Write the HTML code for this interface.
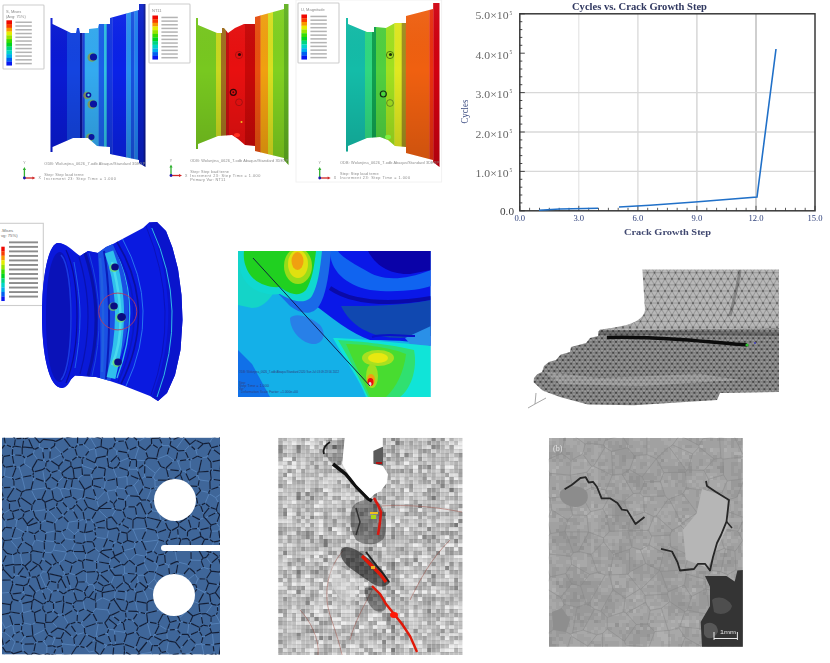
<!DOCTYPE html><html><head><meta charset="utf-8"><style>html,body{margin:0;padding:0;background:#fff;width:830px;height:663px;overflow:hidden}svg{display:block;filter:blur(0.7px)}</style></head><body><svg width="830" height="663" viewBox="0 0 830 663" font-family="Liberation Sans, sans-serif"><defs><linearGradient id="vshade" x1="0" y1="0" x2="0" y2="200" gradientUnits="userSpaceOnUse"><stop offset="0" stop-color="#fff" stop-opacity="0.06"/><stop offset="0.35" stop-color="#000" stop-opacity="0"/><stop offset="0.85" stop-color="#000" stop-opacity="0.16"/></linearGradient></defs><rect x="296" y="0" width="145.6" height="182" fill="none" stroke="#f2f2f2" stroke-width="1"/><rect x="3" y="5" width="41" height="64" fill="#fff" stroke="#cdcdcd" stroke-width="1.1" rx="0.8"/><text x="6" y="12.6" font-size="4" fill="#8a8a8a">S, Mises</text><text x="6" y="17.6" font-size="4" fill="#8a8a8a">(Avg: 75%)</text><rect x="6.4" y="20.30" width="5.6" height="3.91" fill="#f00800"/><rect x="6.4" y="24.06" width="5.6" height="3.91" fill="#f83c00"/><rect x="6.4" y="27.82" width="5.6" height="3.91" fill="#f89800"/><rect x="6.4" y="31.58" width="5.6" height="3.91" fill="#e4ec00"/><rect x="6.4" y="35.33" width="5.6" height="3.91" fill="#98e400"/><rect x="6.4" y="39.09" width="5.6" height="3.91" fill="#38dc00"/><rect x="6.4" y="42.85" width="5.6" height="3.91" fill="#00d420"/><rect x="6.4" y="46.61" width="5.6" height="3.91" fill="#00d480"/><rect x="6.4" y="50.37" width="5.6" height="3.91" fill="#00d4c8"/><rect x="6.4" y="54.12" width="5.6" height="3.91" fill="#00acec"/><rect x="6.4" y="57.88" width="5.6" height="3.91" fill="#0060f0"/><rect x="6.4" y="61.64" width="5.6" height="3.91" fill="#0818f0"/><g fill="#b4b4b4"><rect x="15.4" y="21.50" width="16.4" height="1.5"/><rect x="15.4" y="25.26" width="16.4" height="1.5"/><rect x="15.4" y="29.02" width="16.4" height="1.5"/><rect x="15.4" y="32.78" width="16.4" height="1.5"/><rect x="15.4" y="36.53" width="16.4" height="1.5"/><rect x="15.4" y="40.29" width="16.4" height="1.5"/><rect x="15.4" y="44.05" width="16.4" height="1.5"/><rect x="15.4" y="47.81" width="16.4" height="1.5"/><rect x="15.4" y="51.57" width="16.4" height="1.5"/><rect x="15.4" y="55.33" width="16.4" height="1.5"/><rect x="15.4" y="59.08" width="16.4" height="1.5"/><rect x="15.4" y="62.84" width="16.4" height="1.5"/></g><clipPath id="r1"><polygon points="50.5,18 52.5,18 52.5,24 71,33 76,33 77,28 79,28 80,33 89,33 89,29 98,28 99,24 110,24 110,18 139,10 139,4 145.5,4 145.5,167 139,163 139,160 110,154 110,147 97,146 88,138 73,138 52.5,147 52.5,152 50.5,152"/></clipPath><g clip-path="url(#r1)"><rect x="50" y="0" width="17.3" height="200" fill="#0a1ad4"/><rect x="67" y="0" width="13.3" height="200" fill="#1444e0"/><rect x="80" y="0" width="2.7000000000000055" height="200" fill="#0a1290"/><rect x="82.4" y="0" width="2.599999999999997" height="200" fill="#1a40d8"/><rect x="84.7" y="0" width="14.199999999999992" height="200" fill="#34aaf0"/><rect x="98.6" y="0" width="5.7000000000000055" height="200" fill="#1a60e8"/><rect x="104" y="0" width="3.0000000000000027" height="200" fill="#30c0e0"/><rect x="106.7" y="0" width="6.099999999999997" height="200" fill="#1438e0"/><rect x="112.5" y="0" width="14.099999999999998" height="200" fill="#0a22e8"/><rect x="126.3" y="0" width="5.000000000000003" height="200" fill="#2890f0"/><rect x="131" y="0" width="3.7000000000000055" height="200" fill="#1850e0"/><rect x="134.4" y="0" width="3.899999999999994" height="200" fill="#2080f0"/><rect x="138" y="0" width="5.9999999999999885" height="200" fill="#0a20c8"/><rect x="143.7" y="0" width="2.600000000000011" height="200" fill="#0a1890"/><rect x="0" y="0" width="460" height="200" fill="url(#vshade)"/><circle cx="92.2" cy="57.3" r="4.7" fill="#60d040" opacity="0.55"/><circle cx="91.7" cy="57.5" r="4.1" fill="#e05010" opacity="0.35"/><circle cx="93.5" cy="57" r="3.6" fill="#0a14a0"/><circle cx="87.2" cy="95.3" r="3.9" fill="#60d040" opacity="0.55"/><circle cx="86.7" cy="95.5" r="3.3" fill="#e05010" opacity="0.35"/><circle cx="88.5" cy="95" r="2.8" fill="#0a14a0"/><circle cx="92.2" cy="104.3" r="4.7" fill="#60d040" opacity="0.55"/><circle cx="91.7" cy="104.5" r="4.1" fill="#e05010" opacity="0.35"/><circle cx="93.5" cy="104" r="3.6" fill="#0a14a0"/><circle cx="90.2" cy="137.3" r="4.1" fill="#60d040" opacity="0.55"/><circle cx="89.7" cy="137.5" r="3.5" fill="#e05010" opacity="0.35"/><circle cx="91.5" cy="137" r="3" fill="#0a14a0"/><circle cx="88.5" cy="95" r="1.2" fill="#60e0f0"/></g><g fill="#8a8a8a" font-size="3.8"><text x="44.3" y="164.9" textLength="101" lengthAdjust="spacing">ODB: Wolunjina_0626_7.odb    Abaqus/Standard 3DEXP</text><text x="44.3" y="175.8" textLength="39.3" lengthAdjust="spacing">Step: Step load terne</text><text x="44.3" y="179.70000000000002" textLength="71.5" lengthAdjust="spacing">Increment    23: Step Time =    1.000</text></g><line x1="24.4" y1="178" x2="24.4" y2="169" stroke="#30b030" stroke-width="1.3"/><path d="M22.799999999999997,170 L24.4,167 L26.0,170 Z" fill="#30b030"/><line x1="24.4" y1="178" x2="33.4" y2="178" stroke="#d02828" stroke-width="1.3"/><path d="M32.4,176.4 L35.4,178 L32.4,179.6 Z" fill="#d02828"/><circle cx="24.4" cy="178" r="1.4" fill="#1a1ab0"/><text x="23.2" y="164" font-size="3.5" fill="#888">Y</text><text x="38.4" y="179.3" font-size="3.5" fill="#888">X</text><rect x="149" y="4" width="41" height="59" fill="#fff" stroke="#cdcdcd" stroke-width="1.1" rx="0.8"/><text x="152" y="11.6" font-size="4" fill="#8a8a8a">NT11</text><rect x="152.4" y="15.50" width="5.6" height="3.81" fill="#f00800"/><rect x="152.4" y="19.16" width="5.6" height="3.81" fill="#f83c00"/><rect x="152.4" y="22.82" width="5.6" height="3.81" fill="#f89800"/><rect x="152.4" y="26.48" width="5.6" height="3.81" fill="#e4ec00"/><rect x="152.4" y="30.13" width="5.6" height="3.81" fill="#98e400"/><rect x="152.4" y="33.79" width="5.6" height="3.81" fill="#38dc00"/><rect x="152.4" y="37.45" width="5.6" height="3.81" fill="#00d420"/><rect x="152.4" y="41.11" width="5.6" height="3.81" fill="#00d480"/><rect x="152.4" y="44.77" width="5.6" height="3.81" fill="#00d4c8"/><rect x="152.4" y="48.42" width="5.6" height="3.81" fill="#00acec"/><rect x="152.4" y="52.08" width="5.6" height="3.81" fill="#0060f0"/><rect x="152.4" y="55.74" width="5.6" height="3.81" fill="#0818f0"/><g fill="#b4b4b4"><rect x="161.4" y="16.70" width="16.4" height="1.5"/><rect x="161.4" y="20.36" width="16.4" height="1.5"/><rect x="161.4" y="24.02" width="16.4" height="1.5"/><rect x="161.4" y="27.68" width="16.4" height="1.5"/><rect x="161.4" y="31.33" width="16.4" height="1.5"/><rect x="161.4" y="34.99" width="16.4" height="1.5"/><rect x="161.4" y="38.65" width="16.4" height="1.5"/><rect x="161.4" y="42.31" width="16.4" height="1.5"/><rect x="161.4" y="45.97" width="16.4" height="1.5"/><rect x="161.4" y="49.62" width="16.4" height="1.5"/><rect x="161.4" y="53.28" width="16.4" height="1.5"/><rect x="161.4" y="56.94" width="16.4" height="1.5"/></g><clipPath id="r2"><polygon points="196,18 198,18 198,25 217,33 222,33 222,28 224,28 228,33 235,28 244,24 255,24 255,17 284,9 284,4 288.5,4 288.5,165 284,160 284,158 255,151 255,146 245,145 238,139 232,135 218,136 198,144 198,149 196,149"/></clipPath><g clip-path="url(#r2)"><rect x="195" y="0" width="21.3" height="200" fill="#78c820"/><rect x="216" y="0" width="5.3" height="200" fill="#c8d820"/><rect x="221" y="0" width="5.3" height="200" fill="#a07020"/><rect x="226" y="0" width="3.3" height="200" fill="#c01010"/><rect x="229" y="0" width="16.3" height="200" fill="#e81010"/><rect x="245" y="0" width="10.3" height="200" fill="#c80808"/><rect x="255" y="0" width="5.900000000000023" height="200" fill="#e85010"/><rect x="260.6" y="0" width="7.699999999999977" height="200" fill="#f0a010"/><rect x="268" y="0" width="5.3" height="200" fill="#d8e020"/><rect x="273" y="0" width="11.3" height="200" fill="#80d020"/><rect x="284" y="0" width="5.3" height="200" fill="#60b020"/><rect x="0" y="0" width="460" height="200" fill="url(#vshade)"/><circle cx="239" cy="55" r="3.6" fill="none" stroke="#a01010" stroke-width="1" opacity="0.8"/><circle cx="239.5" cy="54.5" r="1.6" fill="#300808"/><circle cx="233.3" cy="92.3" r="3" fill="none" stroke="#300808" stroke-width="1.2"/><circle cx="233.3" cy="92.3" r="1" fill="#500808"/><circle cx="239" cy="102.3" r="3.4" fill="none" stroke="#901010" stroke-width="0.9" opacity="0.8"/><circle cx="241.5" cy="122" r="1" fill="#f0c020"/><ellipse cx="237" cy="135" rx="3" ry="2" fill="#ff3020"/></g><g fill="#8a8a8a" font-size="3.8"><text x="190.3" y="162.20000000000002" textLength="98" lengthAdjust="spacing">ODB: Wolunjina_0626_7.odb    Abaqus/Standard 3DEXP</text><text x="190.3" y="173.3" textLength="38.5" lengthAdjust="spacing">Step: Step load terne</text><text x="190.3" y="177.20000000000002" textLength="70" lengthAdjust="spacing">Increment    23: Step Time =    1.000</text><text x="190.3" y="181.1" textLength="35.0" lengthAdjust="spacing">Primary Var: NT11</text></g><line x1="171" y1="175.5" x2="171" y2="166.5" stroke="#30b030" stroke-width="1.3"/><path d="M169.4,167.5 L171,164.5 L172.6,167.5 Z" fill="#30b030"/><line x1="171" y1="175.5" x2="180" y2="175.5" stroke="#d02828" stroke-width="1.3"/><path d="M179,173.9 L182,175.5 L179,177.1 Z" fill="#d02828"/><circle cx="171" cy="175.5" r="1.4" fill="#1a1ab0"/><text x="169.8" y="161.5" font-size="3.5" fill="#888">Y</text><text x="185" y="176.8" font-size="3.5" fill="#888">X</text><rect x="298" y="3" width="41" height="60" fill="#fff" stroke="#cdcdcd" stroke-width="1.1" rx="0.8"/><text x="301" y="10.6" font-size="4" fill="#8a8a8a">U, Magnitude</text><rect x="301.4" y="14.50" width="5.6" height="3.89" fill="#f00800"/><rect x="301.4" y="18.24" width="5.6" height="3.89" fill="#f83c00"/><rect x="301.4" y="21.98" width="5.6" height="3.89" fill="#f89800"/><rect x="301.4" y="25.73" width="5.6" height="3.89" fill="#e4ec00"/><rect x="301.4" y="29.47" width="5.6" height="3.89" fill="#98e400"/><rect x="301.4" y="33.21" width="5.6" height="3.89" fill="#38dc00"/><rect x="301.4" y="36.95" width="5.6" height="3.89" fill="#00d420"/><rect x="301.4" y="40.69" width="5.6" height="3.89" fill="#00d480"/><rect x="301.4" y="44.43" width="5.6" height="3.89" fill="#00d4c8"/><rect x="301.4" y="48.17" width="5.6" height="3.89" fill="#00acec"/><rect x="301.4" y="51.92" width="5.6" height="3.89" fill="#0060f0"/><rect x="301.4" y="55.66" width="5.6" height="3.89" fill="#0818f0"/><g fill="#b4b4b4"><rect x="310.4" y="15.70" width="16.4" height="1.5"/><rect x="310.4" y="19.44" width="16.4" height="1.5"/><rect x="310.4" y="23.18" width="16.4" height="1.5"/><rect x="310.4" y="26.93" width="16.4" height="1.5"/><rect x="310.4" y="30.67" width="16.4" height="1.5"/><rect x="310.4" y="34.41" width="16.4" height="1.5"/><rect x="310.4" y="38.15" width="16.4" height="1.5"/><rect x="310.4" y="41.89" width="16.4" height="1.5"/><rect x="310.4" y="45.63" width="16.4" height="1.5"/><rect x="310.4" y="49.38" width="16.4" height="1.5"/><rect x="310.4" y="53.12" width="16.4" height="1.5"/><rect x="310.4" y="56.86" width="16.4" height="1.5"/></g><clipPath id="r3"><polygon points="346,18 348,18 348,24 367,32 374,32 374,27 376,27 386,28 395,23 406,23 406,16 433,9 433,3 439.5,3 439.5,167 433,162 433,160 406,153 406,147 395,146 388,140 380,137 367,138 348,146 348,151.5 346,151.5"/></clipPath><g clip-path="url(#r3)"><rect x="345" y="0" width="20.3" height="200" fill="#14bca8"/><rect x="365" y="0" width="7.3" height="200" fill="#30d880"/><rect x="372" y="0" width="4.3" height="200" fill="#10a050"/><rect x="376" y="0" width="10.3" height="200" fill="#50d040"/><rect x="386" y="0" width="8.8" height="200" fill="#a0e020"/><rect x="394.5" y="0" width="7.4999999999999885" height="200" fill="#e0e820"/><rect x="401.7" y="0" width="4.400000000000023" height="200" fill="#a09020"/><rect x="405.8" y="0" width="23.8" height="200" fill="#f06010"/><rect x="429.3" y="0" width="4.399999999999966" height="200" fill="#e83010"/><rect x="433.4" y="0" width="6.900000000000023" height="200" fill="#d00010"/><rect x="0" y="0" width="460" height="200" fill="url(#vshade)"/><circle cx="390" cy="55" r="3.6" fill="none" stroke="#406010" stroke-width="1" opacity="0.8"/><circle cx="390.5" cy="54.5" r="1.6" fill="#203008"/><circle cx="383.3" cy="94" r="3" fill="none" stroke="#103010" stroke-width="1.2"/><circle cx="383.3" cy="94" r="1.3" fill="#40e040"/><circle cx="390" cy="103" r="3.4" fill="none" stroke="#507020" stroke-width="0.9" opacity="0.8"/><ellipse cx="388" cy="137" rx="3" ry="2.2" fill="#80f040"/></g><g fill="#8a8a8a" font-size="3.8"><text x="340" y="164.1" textLength="99" lengthAdjust="spacing">ODB: Wolunjina_0626_7.odb    Abaqus/Standard 3DEXP</text><text x="340" y="175.4" textLength="38.5" lengthAdjust="spacing">Step: Step load terne</text><text x="340" y="179.3" textLength="70" lengthAdjust="spacing">Increment    23: Step Time =    1.000</text></g><line x1="319.7" y1="178" x2="319.7" y2="169" stroke="#30b030" stroke-width="1.3"/><path d="M318.09999999999997,170 L319.7,167 L321.3,170 Z" fill="#30b030"/><line x1="319.7" y1="178" x2="328.7" y2="178" stroke="#d02828" stroke-width="1.3"/><path d="M327.7,176.4 L330.7,178 L327.7,179.6 Z" fill="#d02828"/><circle cx="319.7" cy="178" r="1.4" fill="#1a1ab0"/><text x="318.5" y="164" font-size="3.5" fill="#888">Y</text><text x="333.7" y="179.3" font-size="3.5" fill="#888">X</text><line x1="578.8" y1="13.8" x2="578.8" y2="210.8" stroke="#e2e2e2" stroke-width="1.1"/><line x1="637.9" y1="13.8" x2="637.9" y2="210.8" stroke="#d8d8d8" stroke-width="1.3"/><line x1="696.9" y1="13.8" x2="696.9" y2="210.8" stroke="#d4d4d4" stroke-width="1.4"/><line x1="756.0" y1="13.8" x2="756.0" y2="210.8" stroke="#cacaca" stroke-width="1.8"/><line x1="519.8" y1="171.4" x2="815" y2="171.4" stroke="#d8d8d8" stroke-width="1.3"/><line x1="519.8" y1="132.0" x2="815" y2="132.0" stroke="#d8d8d8" stroke-width="1.3"/><line x1="519.8" y1="92.6" x2="815" y2="92.6" stroke="#d8d8d8" stroke-width="1.3"/><rect x="519.8" y="13.8" width="295.20000000000005" height="197.0" fill="none" stroke="#3a3a3a" stroke-width="1.5"/><line x1="519.8" y1="210.8" x2="524.8" y2="210.8" stroke="#333" stroke-width="0.9"/><line x1="519.8" y1="202.9" x2="522.3" y2="202.9" stroke="#333" stroke-width="0.9"/><line x1="519.8" y1="195.0" x2="522.3" y2="195.0" stroke="#333" stroke-width="0.9"/><line x1="519.8" y1="187.2" x2="522.3" y2="187.2" stroke="#333" stroke-width="0.9"/><line x1="519.8" y1="179.3" x2="522.3" y2="179.3" stroke="#333" stroke-width="0.9"/><line x1="519.8" y1="171.4" x2="524.8" y2="171.4" stroke="#333" stroke-width="0.9"/><line x1="519.8" y1="163.5" x2="522.3" y2="163.5" stroke="#333" stroke-width="0.9"/><line x1="519.8" y1="155.6" x2="522.3" y2="155.6" stroke="#333" stroke-width="0.9"/><line x1="519.8" y1="147.8" x2="522.3" y2="147.8" stroke="#333" stroke-width="0.9"/><line x1="519.8" y1="139.9" x2="522.3" y2="139.9" stroke="#333" stroke-width="0.9"/><line x1="519.8" y1="132.0" x2="524.8" y2="132.0" stroke="#333" stroke-width="0.9"/><line x1="519.8" y1="124.1" x2="522.3" y2="124.1" stroke="#333" stroke-width="0.9"/><line x1="519.8" y1="116.2" x2="522.3" y2="116.2" stroke="#333" stroke-width="0.9"/><line x1="519.8" y1="108.4" x2="522.3" y2="108.4" stroke="#333" stroke-width="0.9"/><line x1="519.8" y1="100.5" x2="522.3" y2="100.5" stroke="#333" stroke-width="0.9"/><line x1="519.8" y1="92.6" x2="524.8" y2="92.6" stroke="#333" stroke-width="0.9"/><line x1="519.8" y1="84.7" x2="522.3" y2="84.7" stroke="#333" stroke-width="0.9"/><line x1="519.8" y1="76.8" x2="522.3" y2="76.8" stroke="#333" stroke-width="0.9"/><line x1="519.8" y1="69.0" x2="522.3" y2="69.0" stroke="#333" stroke-width="0.9"/><line x1="519.8" y1="61.1" x2="522.3" y2="61.1" stroke="#333" stroke-width="0.9"/><line x1="519.8" y1="53.2" x2="524.8" y2="53.2" stroke="#333" stroke-width="0.9"/><line x1="519.8" y1="45.3" x2="522.3" y2="45.3" stroke="#333" stroke-width="0.9"/><line x1="519.8" y1="37.4" x2="522.3" y2="37.4" stroke="#333" stroke-width="0.9"/><line x1="519.8" y1="29.6" x2="522.3" y2="29.6" stroke="#333" stroke-width="0.9"/><line x1="519.8" y1="21.7" x2="522.3" y2="21.7" stroke="#333" stroke-width="0.9"/><line x1="519.8" y1="13.8" x2="524.8" y2="13.8" stroke="#333" stroke-width="0.9"/><line x1="519.8" y1="210.8" x2="519.8" y2="205.8" stroke="#333" stroke-width="0.8"/><line x1="529.6" y1="210.8" x2="529.6" y2="207.8" stroke="#333" stroke-width="0.8"/><line x1="539.5" y1="210.8" x2="539.5" y2="207.8" stroke="#333" stroke-width="0.8"/><line x1="549.3" y1="210.8" x2="549.3" y2="207.8" stroke="#333" stroke-width="0.8"/><line x1="559.2" y1="210.8" x2="559.2" y2="207.8" stroke="#333" stroke-width="0.8"/><line x1="569.0" y1="210.8" x2="569.0" y2="207.8" stroke="#333" stroke-width="0.8"/><line x1="578.8" y1="210.8" x2="578.8" y2="205.8" stroke="#333" stroke-width="0.8"/><line x1="588.7" y1="210.8" x2="588.7" y2="207.8" stroke="#333" stroke-width="0.8"/><line x1="598.5" y1="210.8" x2="598.5" y2="207.8" stroke="#333" stroke-width="0.8"/><line x1="608.4" y1="210.8" x2="608.4" y2="207.8" stroke="#333" stroke-width="0.8"/><line x1="618.2" y1="210.8" x2="618.2" y2="207.8" stroke="#333" stroke-width="0.8"/><line x1="628.0" y1="210.8" x2="628.0" y2="207.8" stroke="#333" stroke-width="0.8"/><line x1="637.9" y1="210.8" x2="637.9" y2="205.8" stroke="#333" stroke-width="0.8"/><line x1="647.7" y1="210.8" x2="647.7" y2="207.8" stroke="#333" stroke-width="0.8"/><line x1="657.6" y1="210.8" x2="657.6" y2="207.8" stroke="#333" stroke-width="0.8"/><line x1="667.4" y1="210.8" x2="667.4" y2="207.8" stroke="#333" stroke-width="0.8"/><line x1="677.2" y1="210.8" x2="677.2" y2="207.8" stroke="#333" stroke-width="0.8"/><line x1="687.1" y1="210.8" x2="687.1" y2="207.8" stroke="#333" stroke-width="0.8"/><line x1="696.9" y1="210.8" x2="696.9" y2="205.8" stroke="#333" stroke-width="0.8"/><line x1="706.8" y1="210.8" x2="706.8" y2="207.8" stroke="#333" stroke-width="0.8"/><line x1="716.6" y1="210.8" x2="716.6" y2="207.8" stroke="#333" stroke-width="0.8"/><line x1="726.4" y1="210.8" x2="726.4" y2="207.8" stroke="#333" stroke-width="0.8"/><line x1="736.3" y1="210.8" x2="736.3" y2="207.8" stroke="#333" stroke-width="0.8"/><line x1="746.1" y1="210.8" x2="746.1" y2="207.8" stroke="#333" stroke-width="0.8"/><line x1="756.0" y1="210.8" x2="756.0" y2="205.8" stroke="#333" stroke-width="0.8"/><line x1="765.8" y1="210.8" x2="765.8" y2="207.8" stroke="#333" stroke-width="0.8"/><line x1="775.6" y1="210.8" x2="775.6" y2="207.8" stroke="#333" stroke-width="0.8"/><line x1="785.5" y1="210.8" x2="785.5" y2="207.8" stroke="#333" stroke-width="0.8"/><line x1="795.3" y1="210.8" x2="795.3" y2="207.8" stroke="#333" stroke-width="0.8"/><line x1="805.2" y1="210.8" x2="805.2" y2="207.8" stroke="#333" stroke-width="0.8"/><line x1="815.0" y1="210.8" x2="815.0" y2="205.8" stroke="#333" stroke-width="0.8"/><text x="475.5" y="177.0" font-size="9.6" font-family="Liberation Serif" fill="#686868" textLength="33" lengthAdjust="spacingAndGlyphs">1.0&#215;10</text><text x="509.5" y="172.2" font-size="5.5" font-family="Liberation Serif" fill="#686868">5</text><text x="475.5" y="137.6" font-size="9.6" font-family="Liberation Serif" fill="#686868" textLength="33" lengthAdjust="spacingAndGlyphs">2.0&#215;10</text><text x="509.5" y="132.8" font-size="5.5" font-family="Liberation Serif" fill="#686868">5</text><text x="475.5" y="98.2" font-size="9.6" font-family="Liberation Serif" fill="#686868" textLength="33" lengthAdjust="spacingAndGlyphs">3.0&#215;10</text><text x="509.5" y="93.4" font-size="5.5" font-family="Liberation Serif" fill="#686868">5</text><text x="475.5" y="58.8" font-size="9.6" font-family="Liberation Serif" fill="#686868" textLength="33" lengthAdjust="spacingAndGlyphs">4.0&#215;10</text><text x="509.5" y="54.0" font-size="5.5" font-family="Liberation Serif" fill="#686868">5</text><text x="475.5" y="19.4" font-size="9.6" font-family="Liberation Serif" fill="#686868" textLength="33" lengthAdjust="spacingAndGlyphs">5.0&#215;10</text><text x="509.5" y="14.6" font-size="5.5" font-family="Liberation Serif" fill="#686868">5</text><text x="500" y="214.5" font-size="9.6" font-family="Liberation Serif" fill="#404040" textLength="14" lengthAdjust="spacingAndGlyphs">0.0</text><text x="519.8" y="221.3" font-size="8.6" font-family="Liberation Serif" text-anchor="middle" fill="#2a3c78">0.0</text><text x="578.8" y="221.3" font-size="8.6" font-family="Liberation Serif" text-anchor="middle" fill="#2a3c78">3.0</text><text x="637.9" y="221.3" font-size="8.6" font-family="Liberation Serif" text-anchor="middle" fill="#2a3c78">6.0</text><text x="696.9" y="221.3" font-size="8.6" font-family="Liberation Serif" text-anchor="middle" fill="#2a3c78">9.0</text><text x="756.0" y="221.3" font-size="8.6" font-family="Liberation Serif" text-anchor="middle" fill="#2a3c78">12.0</text><text x="815.0" y="221.3" font-size="8.6" font-family="Liberation Serif" text-anchor="middle" fill="#2a3c78">15.0</text><text x="572" y="9.6" font-size="10" font-family="Liberation Serif" font-weight="bold" fill="#303860" textLength="135" lengthAdjust="spacingAndGlyphs">Cycles vs. Crack Growth Step</text><text x="624" y="235.3" font-size="9" font-family="Liberation Serif" font-weight="bold" fill="#404870" textLength="87" lengthAdjust="spacingAndGlyphs">Crack Growth Step</text><text x="0" y="0" font-size="9.5" font-family="Liberation Serif" fill="#3a4a80" textLength="24" lengthAdjust="spacingAndGlyphs" transform="translate(468,123.6) rotate(-90)">Cycles</text><polyline points="539,210.2 560,209 598,208.2" fill="none" stroke="#2070c8" stroke-width="1.6"/><polyline points="619,207 650,205.2 695,202 757,197 776,49" fill="none" stroke="#2070c8" stroke-width="1.6"/><rect x="-5" y="223.3" width="48.3" height="82.2" fill="#fff" stroke="#cdcdcd" stroke-width="1.1"/><text x="1" y="231.5" font-size="4.2" fill="#6a6a6a">.Mises</text><text x="1" y="237" font-size="4.2" fill="#6a6a6a">vg: 75%)</text><rect x="1.3" y="246.70" width="3.4" height="4.6" fill="#f00800"/><rect x="1.3" y="251.22" width="3.4" height="4.6" fill="#f83c00"/><rect x="1.3" y="255.74" width="3.4" height="4.6" fill="#f89800"/><rect x="1.3" y="260.26" width="3.4" height="4.6" fill="#e4ec00"/><rect x="1.3" y="264.78" width="3.4" height="4.6" fill="#98e400"/><rect x="1.3" y="269.30" width="3.4" height="4.6" fill="#38dc00"/><rect x="1.3" y="273.82" width="3.4" height="4.6" fill="#00d420"/><rect x="1.3" y="278.34" width="3.4" height="4.6" fill="#00d480"/><rect x="1.3" y="282.86" width="3.4" height="4.6" fill="#00d4c8"/><rect x="1.3" y="287.38" width="3.4" height="4.6" fill="#00acec"/><rect x="1.3" y="291.90" width="3.4" height="4.6" fill="#0060f0"/><rect x="1.3" y="296.42" width="3.4" height="4.6" fill="#0818f0"/><g fill="#8c8c8c"><rect x="9" y="241.40" width="29" height="1.9"/><rect x="9" y="245.92" width="29" height="1.9"/><rect x="9" y="250.44" width="29" height="1.9"/><rect x="9" y="254.96" width="29" height="1.9"/><rect x="9" y="259.48" width="29" height="1.9"/><rect x="9" y="264.00" width="29" height="1.9"/><rect x="9" y="268.52" width="29" height="1.9"/><rect x="9" y="273.04" width="29" height="1.9"/><rect x="9" y="277.56" width="29" height="1.9"/><rect x="9" y="282.08" width="29" height="1.9"/><rect x="9" y="286.60" width="29" height="1.9"/><rect x="9" y="291.12" width="29" height="1.9"/><rect x="9" y="295.64" width="29" height="1.9"/></g><path d="M58,243 C66,243 72,250 80,256 L88,251 L98,253 L106,247 L113,244 L143,228 L149,222.5 L157,222 L166,231 L172.4,247.5 L178,269 L181.5,295 L182.5,320 L180.5,350 L175,375 L167,393 L158,401 L150,396 L122,385 L110,381 L96,377 L75,375.5 L66,384 C64,387 63,388 62,388 C49,388 42,355 42,315 C42,275 49,243 58,243 Z" fill="#0a1ae0"/><path d="M149,222.5 L157,222 L166,231 L172.4,247.5 L178,269 L181.5,295 L182.5,320 L180.5,350 L175,375 L167,393 L158,401 L152,397 Q186,310 149,222.5 Z" fill="#0a14cc"/><path d="M151.8,228 Q189.6,309.5 157,397" fill="none" stroke="#30bce8" stroke-width="1"/><path d="M146,226 Q181.5,311.5 151,395" fill="none" stroke="#0a10b0" stroke-width="0.8"/><path d="M117,242 Q157.8,309.0 121,384" fill="none" stroke="#0a10a0" stroke-width="1.6"/><path d="M122.5,239 Q161.8,309.5 126,386" fill="none" stroke="#2a7ef0" stroke-width="0.9"/><path d="M115,250 Q143.4,308.0 117,378" fill="none" stroke="#30b8e8" stroke-width="1.3"/><path d="M113,246 Q152.5,308.0 118,382" fill="none" stroke="#0a18c0" stroke-width="1.5"/><path d="M97.6,253 Q101,311 100,378 L110,381 Q146,311 112.8,244 L106,247 Z" fill="#1a50e4"/><path d="M104,251 Q113.0,307.0 106,379" fill="none" stroke="#0a1cb8" stroke-width="2"/><path d="M109,252 Q129.0,307.0 111,378" fill="none" stroke="#30c0ec" stroke-width="9"/><path d="M112,262 Q129.0,326.5 112,365" fill="none" stroke="#50e0f0" stroke-width="2.5" opacity="0.8"/><path d="M100,258 Q105.0,307.0 102,372" fill="none" stroke="#2060e0" stroke-width="2.5"/><path d="M66,250 L80,256 L88,251 L98,253 Q101,311 100,378 L96,377 L75,375.5 L66,384 Z" fill="#0a1ad8"/><path d="M85,253 Q105.5,315.5 88,376" fill="none" stroke="#0812a8" stroke-width="3"/><path d="M89,253 Q107.5,315.5 92,376" fill="none" stroke="#1a48e0" stroke-width="1"/><path d="M79,257 Q96.5,314.5 80,374" fill="none" stroke="#0a12b0" stroke-width="1.2"/><path d="M58,243 C66,243 72,252 76,270 C80,290 81,305 81,315 C81,335 79,355 74,372 C70,384 66,388 62,388 C49,388 42,355 42,315 C42,275 49,243 58,243 Z" fill="#0a18dc"/><path d="M60,252 C67,252 72,280 72,317 C72,355 67,382 60,382 C51,382 46,355 46,317 C46,280 51,252 60,252 Z" fill="#0a12b8"/><path d="M61,255 C68,262 71,290 71,317 C71,345 68,372 61,380" fill="none" stroke="#1a3ae4" stroke-width="1.6"/><path d="M66,250 C73,265 77,290 77,316 C77,342 73,366 66,383" fill="none" stroke="#0a0c98" stroke-width="1.2"/><path d="M74,262 C78,285 80,300 80,316 C80,335 78,350 75,368" fill="none" stroke="#2a80f0" stroke-width="0.7"/><ellipse cx="117.8" cy="311.5" rx="19" ry="18.4" fill="none" stroke="#b83a60" stroke-width="0.9"/><ellipse cx="114" cy="267.8" rx="4.6" ry="4.2" fill="#80e040" opacity="0.6"/><ellipse cx="115" cy="267" rx="3.8" ry="3.5" fill="#0a0c80"/><ellipse cx="113" cy="306.8" rx="4.6" ry="4.2" fill="#80e040" opacity="0.6"/><ellipse cx="114" cy="306" rx="3.8" ry="3.5" fill="#0a0c80"/><ellipse cx="120.6" cy="317.8" rx="5.2" ry="4.800000000000001" fill="#80e040" opacity="0.6"/><ellipse cx="121.6" cy="317" rx="4.4" ry="4.0" fill="#0a0c80"/><ellipse cx="117" cy="362.8" rx="4.6" ry="4.2" fill="#80e040" opacity="0.6"/><ellipse cx="118" cy="362" rx="3.8" ry="3.5" fill="#0a0c80"/><clipPath id="cc"><rect x="238" y="251" width="192.5" height="146"/></clipPath><g clip-path="url(#cc)"><rect x="238" y="251" width="193" height="146" fill="#14b0e8"/><path d="M238,251 L275,251 L275,290 C270,300 262,308 252,308 L238,305 Z" fill="#14d4c8"/><path d="M300,251 L431,251 L431,346 C420,342 400,340 370,340 C340,330 300,290 253,258 Z" fill="#0a18e8"/><path d="M330,251 C330,270 345,285 370,290 C395,293 420,290 431,286 L431,270 C400,282 380,280 365,270 C350,262 340,255 338,251 Z" fill="#1064f0"/><path d="M368,251 C375,265 390,275 410,274 L431,270 L431,251 Z" fill="#0a02a8"/><path d="M330,288 C350,302 385,306 431,298" fill="none" stroke="#0a0aa8" stroke-width="4"/><path d="M341,306 C350,325 370,338 400,338 L431,336 L431,300 C400,306 370,306 341,306 Z" fill="#1048b0"/><path d="M405,338 L431,326 L431,346 L410,344 Z" fill="#2a90e8"/><path d="M372,337 C385,333 400,336 415,336" stroke="#0a12c8" stroke-width="2" fill="none"/><path d="M290,318 C295,312 310,316 320,325 C328,335 322,345 312,344 C300,342 290,330 290,318 Z" fill="#2880e8"/><path d="M238,350 L252,364 L270,397 L238,397 Z" fill="#1070e8"/><path d="M300,251 L331,251 C329,275 326,295 319,306 C312,316 300,314 290,306 L270,285 Z" fill="#1a6ae8"/><path d="M240,251 L322,251 C320,270 318,285 312,296 C305,306 290,300 280,294 C268,296 254,292 246,282 C239,273 238,262 240,251 Z" fill="#10d8d0"/><path d="M244,251 L316,251 C314,268 312,280 306,290 C298,298 288,293 280,287 C270,288 258,284 251,276 C245,268 243,259 244,251 Z" fill="#20d020"/><ellipse cx="298" cy="266" rx="14" ry="18" fill="#98dc18"/><ellipse cx="298" cy="264" rx="10" ry="14" fill="#e0e010"/><ellipse cx="297.5" cy="261" rx="6" ry="9" fill="#f0a010"/><path d="M333,338 C350,338 390,342 410,344 L431,346 L431,397 L366,397 C360,380 345,360 333,338 Z" fill="#10e4d8"/><path d="M338,340 C355,341 390,344 414,350 C418,370 410,390 400,397 L368,397 C360,380 350,360 338,340 Z" fill="#30e070"/><path d="M346,344 C365,344 392,348 406,354 C404,372 396,388 386,397 L370,397 C362,378 354,362 346,344 Z" fill="#48dc30"/><ellipse cx="378" cy="358" rx="16" ry="8" fill="#a8e020"/><ellipse cx="378" cy="358" rx="10" ry="5" fill="#e8e810"/><ellipse cx="372" cy="376" rx="6" ry="12" fill="#a0e020"/><ellipse cx="371" cy="380" rx="4" ry="6" fill="#f0a010"/><ellipse cx="370.5" cy="382" rx="3" ry="4" fill="#e81010"/><ellipse cx="370" cy="384" rx="1.5" ry="2" fill="#e0e0e0"/><path d="M253,258 L370,386" stroke="#101040" stroke-width="0.9" fill="none"/><g fill="#304080" font-size="3"><text x="239" y="373" textLength="100" lengthAdjust="spacingAndGlyphs">ODB: Wolunjina_0626_7.odb   Abaqus/Standard 2020   Sun Jul 03 09:23:56 2022</text><text x="239" y="384">Step:</text><text x="239" y="387" textLength="30" lengthAdjust="spacingAndGlyphs">Step Time =   1.000</text><text x="239" y="390">Var:</text><text x="241" y="393" textLength="57" lengthAdjust="spacingAndGlyphs">Deformation Scale Factor: +1.000e+00</text></g></g><pattern id="tri" patternUnits="userSpaceOnUse" width="7.0" height="12.124"><rect width="7.0" height="12.124" fill="#b8b8b8"/><path d="M0,0 H7.0 M0,6.062 H7.0 M0,12.124 H7.0 M0,0 L3.5,6.062 L0,12.124 M7.0,0 L3.5,6.062 L7.0,12.124" stroke="#7c7c7c" stroke-width="0.6" fill="none"/><circle cx="0.000" cy="0.000" r="0.85" fill="#505050"/><circle cx="7.000" cy="0.000" r="0.85" fill="#505050"/><circle cx="3.500" cy="6.062" r="0.85" fill="#505050"/><circle cx="0.000" cy="12.124" r="0.85" fill="#505050"/><circle cx="7.000" cy="12.124" r="0.85" fill="#505050"/></pattern><pattern id="tri2" patternUnits="userSpaceOnUse" width="5.6" height="7.274"><rect width="5.6" height="7.274" fill="#9c9c9c"/><path d="M0,0 H5.6 M0,3.637 H5.6 M0,7.274 H5.6 M0,0 L2.8,3.637 L0,7.274 M5.6,0 L2.8,3.637 L5.6,7.274" stroke="#565656" stroke-width="0.7" fill="none"/><circle cx="0.000" cy="0.000" r="0.85" fill="#383838"/><circle cx="5.600" cy="0.000" r="0.85" fill="#383838"/><circle cx="2.800" cy="3.637" r="0.85" fill="#383838"/><circle cx="0.000" cy="7.274" r="0.85" fill="#383838"/><circle cx="5.600" cy="7.274" r="0.85" fill="#383838"/></pattern><linearGradient id="wsh" x1="0" y1="0" x2="1" y2="0"><stop offset="0" stop-color="#000" stop-opacity="0.45"/><stop offset="0.05" stop-color="#000" stop-opacity="0.1"/><stop offset="0.3" stop-color="#000" stop-opacity="0"/><stop offset="1" stop-color="#000" stop-opacity="0"/></linearGradient><path d="M642.4,269.5 L779,269.5 L779,328 L598,330 C620,327 643,324 645,310 Z" fill="url(#tri)"/><path d="M642.4,269.5 L779,269.5 L779,328 L598,330 C620,327 643,324 645,310 Z" fill="url(#wsh)"/><path d="M740,270 C738,285 734,300 730,316" stroke="#303030" stroke-width="3" fill="none" opacity="0.35"/><path d="M599.4,330 L779,328 L779,392 L720,393 L717,400 L634,405.3 L587.8,404.6 L560,397 L543,390.8 L533.6,382.2 L534,378 L537.2,374.2 L542,372 L544,366 L548.8,362 L556,360 L560.4,354.7 L570,352 L571,347 L577.7,345.3 L586,343 L590,338 L598,336 Z" fill="url(#tri2)"/><path d="M545,372 L600,378 L700,374 L740,380 L640,386 L560,384 Z" fill="#d0d0d0" opacity="0.3"/><path d="M598,333 C640,332 700,333 779,334" stroke="#303030" stroke-width="4" fill="none" opacity="0.35"/><path d="M607,337.5 C625,336.5 650,337.5 680,339.5 C710,341.5 730,344 747,345" stroke="#0c0c0c" stroke-width="3.5" fill="none"/><circle cx="747" cy="345" r="1.6" fill="#30c030"/><circle cx="755" cy="343" r="1" fill="#4040c0"/><g stroke="#909090" stroke-width="0.8" fill="none"><path d="M535,404 L536,393 M535,404 L546,398 M535,404 L528,408"/></g><clipPath id="gc"><rect x="2" y="437.6" width="218" height="217"/></clipPath><g clip-path="url(#gc)"><rect x="2" y="437.6" width="218" height="217" fill="#3f6699"/><path d="M133.0,436.2L138.5,441.5M138.5,441.5L148.8,435.3M218.5,436.0L213.0,437.2M7.0,553.3L2.7,548.6M7.0,553.3L1.9,564.4M-2.0,578.5L-2.9,575.3M1.5,537.0L4.2,540.5M4.2,540.5L2.7,548.6M0.2,533.7L5.2,527.3M5.2,527.3L4.7,520.5M4.7,520.5L2.2,517.0M1.9,564.4L3.2,566.3M-2.9,575.3L3.2,569.2M3.2,566.3L3.2,569.2M7.0,553.3L12.8,554.8M12.8,554.8L13.3,564.3M3.2,566.3L13.3,564.3M0.2,533.7L1.5,537.0M133.0,436.2L129.2,436.7M129.2,436.7L125.1,440.9M138.5,441.5L138.8,445.8M138.8,445.8L128.5,450.4M125.1,440.9L128.5,450.4M210.9,462.1L221.2,459.8M210.9,462.1L211.3,470.0M221.2,459.8L219.9,470.9M219.9,470.9L211.3,470.0M206.9,457.0L211.3,448.1M206.9,457.0L210.9,462.1M221.2,459.8L224.4,457.3M211.3,448.1L224.4,457.3M206.9,457.0L201.9,457.7M208.9,443.0L203.3,443.8M208.9,443.0L209.2,443.1M209.2,443.1L211.3,447.8M211.3,448.1L211.3,447.8M201.9,457.7L197.5,456.1M197.5,456.1L196.0,450.6M203.3,443.8L196.0,450.6M181.5,653.4L180.4,648.7M181.5,653.4L182.0,653.8M180.4,648.7L189.5,637.8M189.5,637.8L196.4,644.4M182.0,653.8L185.7,654.0M185.7,654.0L190.0,653.0M190.0,653.0L196.4,644.4M220.9,634.0L219.7,632.3M223.4,624.7L219.7,632.3M2.5,646.9L5.8,651.8M2.0,658.4L5.8,651.8M-1.4,606.9L1.6,603.3M1.6,603.3L0.5,593.1M-1.6,592.5L0.5,593.1M-2.0,578.5L-0.1,580.3M-0.1,580.3L-1.6,592.5M1.1,614.5L-1.4,606.9M14.4,633.9L12.6,624.6M14.4,633.9L21.3,630.8M12.6,624.6L22.1,624.2M21.3,630.8L22.1,624.2M-0.7,501.8L3.6,513.4M3.6,513.4L2.2,515.7M2.2,517.0L2.2,515.7M13.9,518.4L4.7,520.5M13.9,518.4L12.2,511.4M12.2,511.4L9.5,509.8M9.5,509.8L3.6,513.4M22.5,564.6L13.8,564.8M22.5,564.6L20.1,553.3M12.8,554.8L17.8,552.3M13.3,564.3L13.8,564.8M20.1,553.3L17.8,552.3M5.2,527.3L14.9,528.0M13.9,518.4L16.8,520.2M14.9,528.0L15.6,527.7M15.6,527.7L16.8,520.2M24.5,512.2L22.6,517.5M24.5,512.2L20.8,509.2M20.8,509.2L12.2,511.4M16.8,520.2L22.6,517.5M2.5,646.9L3.4,645.2M5.8,651.8L11.0,651.9M3.4,645.2L11.7,638.5M11.7,638.5L15.1,641.7M15.1,641.7L11.0,651.9M24.3,636.8L20.7,642.2M24.3,636.8L21.3,630.8M14.4,633.9L11.6,637.9M11.7,638.5L11.6,637.9M15.1,641.7L20.7,642.2M13.3,653.8L11.0,651.9M107.0,528.1L95.4,527.4M107.0,528.1L106.8,519.6M106.8,519.6L94.0,523.6M95.4,527.4L94.0,523.6M25.0,566.1L31.0,560.8M25.0,566.1L29.0,571.9M29.0,571.9L38.1,564.9M31.0,560.8L38.1,564.9M24.6,566.0L22.5,564.6M24.6,566.0L25.0,566.1M20.1,553.3L30.7,552.3M31.0,560.8L30.7,552.3M153.3,550.9L158.8,540.0M153.3,550.9L147.3,552.9M158.8,540.0L142.6,542.1M147.3,552.9L142.6,542.1M156.7,532.8L159.0,539.8M156.7,532.8L155.4,530.4M158.8,540.0L159.0,539.8M147.1,528.4L155.4,530.4M147.1,528.4L141.2,541.2M142.6,542.1L141.2,541.2M108.6,529.7L117.3,527.8M108.6,529.7L107.0,528.1M106.8,519.6L107.3,518.3M107.3,518.3L111.6,516.9M111.6,516.9L118.3,525.3M117.3,527.8L118.3,525.3M107.3,518.3L98.3,509.6M94.0,523.6L91.4,519.9M91.4,519.9L96.7,510.8M96.7,510.8L98.3,509.6M77.3,500.1L82.8,497.3M77.3,500.1L76.1,504.0M87.7,507.1L82.8,497.3M87.7,507.1L83.1,511.8M76.1,504.0L83.1,511.8M211.3,470.0L210.3,471.2M201.9,457.7L198.8,472.0M210.3,471.2L198.8,472.0M223.7,441.5L219.3,445.8M211.3,447.8L219.3,445.8M220.3,471.1L219.9,470.9M220.3,471.1L223.3,479.9M218.5,436.0L223.7,441.5M209.2,443.1L213.0,437.2M189.0,480.4L186.9,485.7M189.0,480.4L197.7,475.1M199.3,479.9L197.7,475.1M199.3,479.9L198.0,486.4M198.0,486.4L186.9,485.7M219.3,514.1L219.6,514.9M223.5,492.2L215.6,497.6M215.6,497.6L218.3,502.6M217.2,512.2L219.3,514.1M217.2,512.2L216.4,509.4M216.4,509.4L218.3,502.6M189.0,459.3L190.2,460.0M189.0,459.3L177.7,461.0M190.2,460.0L190.3,468.6M190.3,468.6L184.9,471.1M177.7,461.0L181.2,471.0M184.9,471.1L181.6,471.4M181.2,471.0L181.6,471.4M197.5,456.1L190.2,460.0M198.8,472.0L197.9,472.6M197.9,472.6L190.3,468.6M189.0,480.4L184.9,471.1M197.7,475.1L197.9,472.6M176.1,459.8L174.1,460.3M176.1,459.8L177.7,461.0M166.6,469.5L165.8,468.3M166.6,469.5L181.2,471.0M174.1,460.3L165.8,468.3M196.0,450.6L189.8,444.9M189.0,459.3L184.8,450.4M189.8,444.9L184.8,450.4M176.1,459.8L177.9,450.9M184.8,450.4L177.9,450.9M195.5,440.1L189.8,444.5M189.8,444.5L183.9,437.7M183.3,436.0L183.9,437.7M203.3,443.8L195.5,440.1M189.8,444.9L189.8,444.5M177.9,450.9L176.1,448.7M176.1,448.7L183.9,437.7M183.3,436.0L182.3,435.5M219.6,585.5L215.4,592.6M222.5,601.9L215.4,592.6M219.6,585.5L219.4,584.9M219.4,584.9L221.1,579.0M222.2,642.7L221.1,643.1M221.1,643.1L218.8,656.5M220.6,658.2L218.8,656.5M220.9,634.0L222.2,642.7M213.5,644.3L221.1,643.1M213.5,644.3L212.4,633.0M212.4,633.0L219.7,632.3M190.0,653.0L197.3,658.9M213.0,644.8L214.3,653.6M213.0,644.8L201.9,644.7M201.9,644.7L203.8,653.7M214.3,653.6L207.6,656.0M207.6,656.0L203.8,653.7M213.5,644.3L213.0,644.8M218.8,656.5L214.3,653.6M201.2,644.1L196.4,644.4M201.2,644.1L201.9,644.7M197.3,658.9L203.8,653.7M178.4,600.9L177.7,595.5M178.4,600.9L185.6,604.1M185.6,604.1L190.4,600.2M185.6,591.9L177.7,595.5M185.6,591.9L190.2,597.5M190.2,597.5L190.4,600.2M201.2,644.1L202.9,637.2M212.4,633.0L211.6,632.5M211.6,632.5L202.9,637.2M188.8,635.6L199.2,630.9M188.8,635.6L187.5,634.3M187.5,634.3L188.8,623.6M199.2,630.9L199.9,627.5M199.9,627.5L189.9,622.8M189.9,622.8L188.8,623.6M189.5,637.8L188.8,635.6M202.9,637.2L199.2,630.9M175.3,642.2L180.4,648.7M175.3,642.2L181.2,634.4M181.2,634.4L187.5,634.3M173.0,582.6L182.4,583.5M173.0,582.6L169.0,577.0M169.0,577.0L169.7,575.7M169.7,575.7L176.2,572.9M182.4,583.5L182.4,583.5M182.4,583.5L182.8,575.2M182.8,575.2L176.2,572.9M1.1,614.5L1.5,614.8M1.6,603.3L10.6,604.7M9.0,613.2L1.5,614.8M9.0,613.2L10.4,611.9M10.6,604.7L10.4,611.9M4.0,631.9L0.7,633.3M4.0,631.9L5.3,628.2M5.3,628.2L1.1,620.4M3.4,645.2L0.7,633.3M11.6,637.9L4.0,631.9M12.6,624.6L12.6,624.6M12.6,624.6L5.3,628.2M12.6,624.6L9.0,613.2M1.5,614.8L1.1,620.4M45.3,540.8L45.9,532.7M45.3,540.8L54.8,541.6M45.9,532.7L55.4,530.9M54.8,541.6L55.5,530.9M55.5,530.9L55.4,530.9M44.1,541.9L45.3,540.8M44.1,541.9L35.2,539.7M35.2,539.7L34.3,533.9M45.9,532.7L40.4,529.7M34.3,533.9L40.4,529.7M17.7,548.6L23.0,541.3M17.7,548.6L10.4,540.0M10.4,540.0L11.7,539.1M11.7,539.1L21.9,537.5M21.9,537.5L23.0,541.3M17.8,552.3L17.7,548.6M31.8,546.5L23.0,541.3M31.8,546.5L32.3,550.6M32.3,550.6L30.7,552.3M4.2,540.5L10.4,540.0M14.9,528.0L11.7,539.1M24.1,532.2L15.6,527.7M24.1,532.2L21.9,537.5M35.2,539.7L31.8,546.5M24.1,532.2L27.0,530.9M34.3,533.9L27.0,530.9M20.7,642.2L22.0,644.3M13.3,653.8L23.2,650.6M23.2,650.6L22.0,644.3M23.2,650.6L27.9,654.8M12.9,583.8L23.7,585.9M12.9,583.8L11.9,579.9M11.9,579.9L12.2,578.8M12.2,578.8L14.4,576.4M17.3,575.5L14.4,576.4M17.3,575.5L29.4,578.2M23.7,585.9L27.9,583.7M29.4,578.2L27.9,583.7M-0.1,580.3L11.9,579.9M0.5,593.1L9.9,592.4M9.9,592.4L12.9,583.8M3.2,569.2L12.2,578.8M13.8,564.8L14.4,576.4M24.6,566.0L17.3,575.5M29.0,571.9L30.3,577.2M30.3,577.2L29.4,578.2M78.0,531.1L84.6,532.6M78.0,531.1L78.8,520.8M84.6,532.6L86.7,519.8M78.8,520.8L84.3,519.2M86.7,519.8L84.3,519.2M67.5,528.3L74.6,534.2M67.5,528.3L68.6,522.2M74.6,534.2L78.0,531.1M68.6,522.2L78.7,520.7M78.7,520.7L78.8,520.8M76.1,504.0L72.2,508.5M72.2,508.5L78.7,520.7M83.1,511.8L84.3,519.2M91.4,519.9L86.7,519.8M87.7,507.1L96.7,510.8M145.6,557.7L143.9,562.8M145.6,557.7L145.4,556.3M145.4,556.3L135.9,554.4M129.9,560.5L135.9,554.4M129.9,560.5L136.5,566.1M143.9,562.8L136.5,566.1M165.4,563.8L157.7,566.0M165.4,563.8L164.6,554.1M164.6,554.1L158.1,555.0M158.1,555.0L156.2,563.2M156.2,563.2L157.7,566.0M153.3,550.9L158.1,555.0M145.6,557.7L156.2,563.2M145.4,556.3L147.3,552.9M143.9,562.8L148.3,571.5M155.3,572.0L148.3,571.5M155.3,572.0L157.7,566.0M138.0,541.3L135.6,542.8M138.0,541.3L141.2,541.2M135.9,554.4L134.1,548.0M135.6,542.8L134.1,548.0M111.6,516.9L115.8,509.7M122.7,510.5L115.8,509.7M122.7,510.5L125.5,517.1M118.3,525.3L120.8,523.6M125.5,517.1L120.8,523.6M117.3,527.8L119.5,531.8M119.5,531.8L127.0,533.2M127.0,533.2L131.3,529.7M120.8,523.6L131.3,529.7M64.0,488.3L67.4,478.4M64.0,488.3L70.1,489.8M71.2,487.8L70.1,489.8M71.2,487.8L72.5,479.1M72.5,479.1L67.4,478.4M71.2,496.2L70.1,489.8M71.2,496.2L63.2,498.0M60.2,489.2L63.2,498.0M60.2,489.2L64.0,488.3M93.4,436.1L90.9,438.6M86.5,436.5L88.1,438.2M90.9,438.6L88.1,438.2M83.3,496.8L96.8,500.1M83.3,496.8L84.4,490.1M92.1,485.5L84.6,489.5M92.1,485.5L96.8,500.0M96.8,500.0L96.8,500.1M84.4,490.1L84.6,489.5M77.3,500.1L71.2,496.2M82.8,497.3L83.3,496.8M71.2,487.8L84.4,490.1M98.8,508.5L98.8,507.9M98.8,508.5L114.8,508.5M98.8,507.9L109.5,500.4M109.5,500.4L113.7,503.9M113.7,503.9L114.8,508.5M98.3,509.6L98.8,508.5M96.8,500.1L98.8,507.9M115.8,509.7L114.8,508.5M138.8,445.8L139.1,446.1M139.1,446.1L134.8,459.5M128.5,450.4L127.5,452.7M127.5,452.7L128.8,457.8M134.8,459.5L130.8,459.6M128.8,457.8L130.8,459.6M136.5,460.0L136.3,469.3M136.5,460.0L144.9,460.8M144.7,463.8L144.9,460.8M144.7,463.8L137.2,469.7M137.2,469.7L136.3,469.3M134.8,459.5L136.5,460.0M130.8,459.6L128.9,469.2M128.9,469.2L136.3,469.3M139.1,446.1L145.3,450.3M148.0,457.9L145.3,450.3M148.0,457.9L144.9,460.8M125.1,440.9L115.7,441.7M127.5,452.7L116.6,450.9M116.6,450.9L113.1,447.6M113.1,447.6L115.7,441.7M113.6,435.9L115.7,441.7M113.6,435.9L103.6,435.3M93.4,436.1L101.7,438.7M103.6,435.3L101.7,438.7M116.5,478.9L117.6,488.0M116.5,478.9L105.3,480.9M105.3,480.9L104.3,488.7M115.2,489.8L117.6,488.0M115.2,489.8L106.7,491.2M104.3,488.7L105.6,490.9M106.7,491.2L105.6,490.9M104.1,477.8L92.7,479.2M104.1,477.8L105.3,480.9M92.7,479.2L92.4,485.2M92.4,485.2L104.3,488.7M117.7,498.5L115.2,489.8M117.7,498.5L113.7,503.9M109.5,500.4L106.7,491.2M92.4,485.2L92.1,485.5M96.8,500.0L105.6,490.9M116.8,478.0L126.9,476.4M116.8,478.0L116.5,478.9M124.7,488.9L117.6,488.0M124.7,488.9L127.3,486.1M127.3,486.1L126.9,476.4M20.8,509.2L18.0,500.3M9.5,509.8L9.5,501.5M9.5,501.5L18.0,500.3M24.5,512.2L31.6,509.7M31.6,509.7L32.1,505.3M32.1,505.3L20.5,497.2M18.0,500.3L20.5,497.2M55.4,530.9L54.7,523.3M40.4,529.7L40.9,522.6M40.9,522.6L44.6,520.7M44.6,520.7L54.7,523.3M61.4,531.8L67.5,528.3M61.4,531.8L55.5,530.9M68.6,522.2L62.8,516.5M62.8,516.5L57.0,519.9M57.0,519.9L54.7,523.3M31.2,489.8L31.0,489.6M31.2,489.8L46.7,487.7M31.0,489.6L33.9,477.9M33.9,477.9L44.6,481.5M46.7,487.7L45.3,482.0M45.3,482.0L44.6,481.5M46.9,487.9L41.8,499.3M46.9,487.9L46.7,487.7M41.8,499.3L35.9,499.3M35.9,499.3L31.2,489.8M72.2,508.5L68.8,509.5M63.2,498.0L61.3,500.4M61.3,500.4L68.8,509.5M62.8,516.5L63.0,515.6M63.0,515.6L68.8,509.5M219.5,486.5L222.0,480.8M219.5,486.5L210.1,490.0M222.0,480.8L211.2,479.0M210.1,490.0L209.9,481.3M209.9,481.3L211.2,479.0M223.3,479.9L222.0,480.8M223.5,492.2L219.5,486.5M208.7,492.5L209.2,493.6M208.7,492.5L210.1,490.0M209.2,493.6L215.6,497.6M210.3,471.2L211.2,479.0M208.7,492.5L200.6,490.7M199.3,479.9L209.9,481.3M200.6,490.7L198.0,486.4M205.2,503.1L209.8,507.1M205.2,503.1L200.6,505.3M209.8,507.1L203.7,514.5M200.6,505.3L203.7,514.5M209.2,493.6L205.2,503.1M216.4,509.4L209.8,507.1M200.6,490.7L196.1,495.5M196.1,495.5L197.9,504.9M197.9,504.9L200.6,505.3M182.3,435.5L171.0,440.7M168.7,435.5L171.0,440.7M168.7,435.5L161.7,434.8M176.1,448.7L170.0,445.5M170.0,445.5L171.0,440.7M211.6,632.5L209.3,626.3M199.9,627.5L203.0,625.1M203.0,625.1L209.3,626.3M185.6,591.9L184.7,585.4M190.2,597.5L197.2,588.7M197.2,588.7L195.6,584.6M195.6,584.6L184.7,585.4M182.4,583.5L183.1,583.9M182.4,583.5L175.7,593.6M177.7,595.5L175.7,593.6M183.1,583.9L184.7,585.4M195.6,584.6L197.9,578.8M183.1,583.9L195.1,574.0M197.9,578.8L195.1,574.0M192.8,616.1L189.9,622.8M192.8,616.1L199.9,613.3M203.0,625.1L200.8,613.8M199.9,613.3L200.8,613.8M220.2,540.1L218.8,530.9M220.1,527.7L218.8,530.9M219.6,514.9L216.6,523.4M220.1,527.7L216.6,523.4M182.8,575.2L189.2,568.0M195.1,574.0L194.6,572.5M189.2,568.0L194.6,572.5M140.3,502.1L135.4,506.9M140.3,502.1L141.2,500.1M141.2,500.1L138.7,496.5M138.7,496.5L127.9,495.5M135.4,506.9L125.7,506.9M125.7,506.9L125.5,500.0M127.9,495.5L125.5,500.0M150.4,501.6L152.0,510.6M150.4,501.6L146.9,499.8M152.0,510.6L146.4,515.5M146.4,515.5L140.3,502.1M146.9,499.8L141.2,500.1M122.7,510.5L125.7,506.9M117.7,498.5L125.5,500.0M124.7,488.9L127.9,495.5M128.1,470.4L128.9,469.2M128.1,470.4L128.4,474.6M137.2,469.7L140.7,478.7M128.4,474.6L139.3,479.1M140.7,478.7L139.3,479.1M127.3,486.1L134.1,485.3M128.4,474.6L126.9,476.4M139.3,479.1L134.1,485.3M138.7,496.5L138.8,495.2M138.8,495.2L134.1,485.3M144.9,464.6L155.3,473.2M144.9,464.6L144.4,477.0M155.3,473.2L153.3,477.5M153.3,477.5L144.4,477.0M146.9,499.8L151.4,489.1M138.8,495.2L143.9,486.8M151.4,489.1L143.9,486.8M150.4,501.6L160.8,499.3M160.8,499.3L154.7,487.5M151.4,489.1L154.7,487.5M140.7,478.7L141.2,478.8M143.9,486.8L141.2,478.8M144.9,464.6L144.7,463.8M144.4,477.0L141.2,478.8M153.3,477.5L154.9,480.3M154.7,487.5L155.1,486.7M154.9,480.3L155.1,486.7M152.0,510.6L157.1,511.8M160.8,499.3L161.4,499.5M161.4,499.5L157.1,511.8M220.2,540.1L218.7,541.0M218.7,541.0L223.4,554.0M9.9,592.4L11.1,594.2M23.7,585.9L23.4,592.5M23.4,592.5L11.1,594.2M10.6,604.7L12.9,599.3M11.1,594.2L12.9,599.3M27.1,523.9L27.6,526.0M27.1,523.9L35.2,516.7M27.6,526.0L39.6,521.7M35.2,516.7L39.6,521.7M22.6,517.5L27.1,523.9M27.0,530.9L27.6,526.0M31.6,509.7L33.4,511.2M33.4,511.2L35.2,516.7M40.9,522.6L39.6,521.7M22.1,624.2L23.5,622.9M10.4,611.9L21.9,613.8M23.5,622.9L21.9,613.8M22.0,644.3L35.4,643.7M27.9,654.8L30.6,654.9M30.6,654.9L33.6,652.8M35.4,643.7L33.6,652.8M95.4,527.4L94.7,530.3M84.6,532.6L84.7,532.7M84.7,532.7L94.7,530.3M108.6,529.7L106.9,538.7M106.9,538.7L96.2,537.4M94.7,530.3L96.2,537.4M218.7,541.0L213.4,542.0M218.8,530.9L211.3,531.3M213.4,542.0L209.7,539.5M209.7,539.5L211.3,531.3M187.6,531.8L187.3,538.3M187.6,531.8L178.7,525.7M187.3,538.3L180.9,539.3M178.7,525.7L177.6,527.2M177.6,527.2L178.3,537.8M178.3,537.8L180.9,539.3M170.8,530.9L177.6,527.2M170.8,530.9L168.2,539.8M178.3,537.8L168.2,539.8M156.7,532.8L168.1,528.8M159.0,539.8L166.0,542.0M168.1,528.8L170.8,530.9M168.2,539.8L166.0,542.0M164.6,554.1L169.2,548.8M166.0,542.0L169.2,548.8M177.1,561.3L178.3,562.1M177.1,561.3L175.2,551.5M178.3,562.1L188.3,564.6M175.2,551.5L177.7,550.2M177.7,550.2L190.8,549.7M191.1,560.2L188.3,564.6M191.1,560.2L191.0,549.9M191.0,549.9L190.8,549.7M169.7,575.7L168.5,565.1M168.5,565.1L177.1,561.3M176.2,572.9L178.3,562.1M168.5,565.1L165.4,563.8M169.2,548.8L175.2,551.5M189.2,568.0L188.3,564.6M180.9,539.3L177.7,550.2M190.1,541.2L187.3,538.3M190.1,541.2L190.8,549.7M136.5,566.1L136.0,574.2M148.3,571.5L143.8,575.0M143.8,575.0L136.9,575.4M136.0,574.2L136.9,575.4M173.0,582.6L170.2,589.9M175.7,593.6L171.0,592.1M170.2,589.9L171.0,592.1M178.4,600.9L171.9,604.1M171.9,604.1L166.6,600.1M171.0,592.1L166.6,600.1M169.0,577.0L165.5,577.6M155.3,572.0L155.8,573.0M165.5,577.6L155.8,573.0M124.6,573.2L123.0,575.1M124.6,573.2L124.2,565.0M123.0,575.1L114.5,575.3M124.2,565.0L121.8,564.3M121.8,564.3L110.0,569.3M114.5,575.3L110.0,569.4M110.0,569.4L110.0,569.3M129.9,560.5L128.8,560.5M136.0,574.2L124.6,573.2M128.8,560.5L124.2,565.0M136.9,517.5L144.6,518.5M136.9,517.5L133.1,519.7M133.1,519.7L132.9,529.1M147.0,528.3L144.6,518.5M147.0,528.3L133.1,529.2M133.1,529.2L132.9,529.1M146.4,515.5L145.8,517.1M145.8,517.1L144.6,518.5M135.4,506.9L136.9,517.5M125.5,517.1L133.1,519.7M131.3,529.7L132.9,529.1M147.1,528.4L147.0,528.3M160.9,520.5L145.8,517.1M160.9,520.5L155.4,530.4M138.0,541.3L133.1,529.2M135.6,542.8L127.5,540.5M127.0,533.2L127.5,540.5M-0.1,450.7L5.3,444.3M5.3,444.3L3.8,435.1M2.1,433.9L3.8,435.1M-0.1,450.7L0.5,453.7M3.8,435.1L11.9,435.3M45.4,467.8L51.0,472.8M45.4,467.8L42.7,469.6M42.7,469.6L44.6,481.5M45.3,482.0L50.4,476.4M50.4,476.4L51.0,472.8M46.9,487.9L51.8,489.4M51.8,489.4L56.7,487.3M56.7,487.3L58.2,481.8M50.4,476.4L58.2,481.8M56.7,487.3L60.2,489.2M67.4,478.4L63.3,476.7M58.2,481.8L63.3,476.7M86.5,436.5L77.7,435.6M83.9,444.6L88.1,438.2M83.9,444.6L77.5,445.0M77.7,435.6L77.5,445.0M77.7,435.6L77.6,435.4M77.4,456.4L74.8,448.0M77.4,456.4L82.0,458.2M89.8,449.9L83.9,444.6M89.8,449.9L84.0,457.7M82.0,458.2L84.0,457.7M77.5,445.0L74.8,448.0M82.0,458.2L82.5,465.7M84.0,457.7L95.0,462.8M96.7,466.8L93.8,469.6M96.7,466.8L95.0,462.8M82.5,465.7L93.8,469.6M105.4,468.4L104.1,477.8M105.4,468.4L96.7,466.8M92.7,479.2L91.1,475.1M93.8,469.6L91.1,475.1M117.2,466.8L120.2,461.4M117.2,466.8L113.3,468.5M113.3,468.5L108.3,467.0M117.0,455.5L108.4,464.4M117.0,455.5L120.2,461.4M108.3,467.0L108.4,464.4M128.8,457.8L120.2,461.4M128.1,470.4L117.2,466.8M116.8,478.0L113.3,468.5M105.4,468.4L108.3,467.0M116.6,450.9L117.0,455.5M106.9,455.9L108.0,449.5M106.9,455.9L96.5,458.0M108.0,449.5L101.0,446.5M101.0,446.5L96.2,447.8M96.5,458.0L95.5,448.5M96.2,447.8L95.5,448.5M113.1,447.6L108.0,449.5M108.4,464.4L106.9,455.9M95.0,462.8L96.5,458.0M101.7,438.7L101.0,446.5M90.9,438.6L96.2,447.8M89.8,449.9L95.5,448.5M32.1,505.3L35.9,499.3M20.5,497.2L21.8,492.1M31.0,489.6L25.3,490.2M25.3,490.2L21.8,492.1M3.8,498.7L6.7,499.4M3.8,498.7L1.0,489.6M6.7,499.4L14.3,487.5M1.0,489.6L2.1,487.7M2.1,487.7L14.0,487.1M14.0,487.1L14.3,487.5M-0.7,501.8L3.8,498.7M9.5,501.5L6.7,499.4M21.8,492.1L14.3,487.5M1.3,478.1L2.1,487.7M25.3,490.2L22.1,477.6M13.9,480.1L22.1,477.6M13.9,480.1L14.0,487.1M33.6,472.1L32.9,475.3M33.6,472.1L32.1,469.0M32.9,475.3L22.4,477.2M32.1,469.0L24.5,463.8M22.4,477.2L19.1,467.0M24.5,463.8L19.1,467.0M42.7,469.6L33.6,472.1M33.9,477.9L32.9,475.3M44.1,460.7L46.3,462.1M44.1,460.7L37.5,459.4M37.5,459.4L32.1,469.0M45.4,467.8L46.3,462.1M22.1,477.6L22.4,477.2M37.5,459.4L33.3,453.5M33.3,453.5L25.0,457.9M25.0,457.9L24.5,463.8M0.5,453.7L3.3,456.5M2.5,464.1L3.3,456.5M5.3,444.3L12.7,447.5M12.3,454.8L12.7,447.5M12.3,454.8L12.2,454.9M12.2,454.9L3.3,456.5M4.2,476.2L5.3,467.3M4.2,476.2L12.1,478.2M12.1,478.2L16.1,467.0M5.3,467.3L14.2,465.9M16.1,467.0L14.2,465.9M1.3,478.1L4.2,476.2M2.5,464.1L5.3,467.3M13.9,480.1L12.1,478.2M19.1,467.0L16.1,467.0M12.2,454.9L14.2,465.9M25.0,457.9L22.2,455.4M22.2,455.4L12.3,454.8M53.6,498.8L57.5,501.6M53.6,498.8L45.0,502.1M57.5,501.6L56.3,506.7M56.3,506.7L49.0,510.4M45.0,502.1L46.1,509.7M49.0,510.4L46.6,510.2M46.1,509.7L46.6,510.2M51.8,489.4L53.6,498.8M61.3,500.4L57.5,501.6M41.8,499.3L45.0,502.1M63.0,515.6L56.3,506.7M57.0,519.9L49.0,510.4M33.4,511.2L46.1,509.7M44.6,520.7L46.6,510.2M148.8,435.3L151.5,438.3M161.7,434.8L159.4,438.1M159.4,438.1L151.5,438.3M145.3,450.3L151.6,443.9M151.5,438.3L151.6,443.9M210.9,602.8L199.0,604.1M210.9,602.8L209.7,594.5M209.7,594.5L205.4,592.0M198.3,603.2L204.3,592.2M198.3,603.2L199.0,604.1M205.4,592.0L204.3,592.2M219.4,584.9L208.5,583.2M215.4,592.6L209.7,594.5M208.5,583.2L205.4,592.0M190.4,600.2L198.3,603.2M197.2,588.7L204.3,592.2M185.6,604.1L185.4,605.7M192.8,616.1L187.1,611.0M199.9,613.3L199.0,604.1M185.4,605.7L187.1,611.0M208.5,583.2L206.2,579.0M206.2,579.0L197.9,578.8M200.8,613.8L206.0,613.6M210.9,602.8L212.5,604.3M206.0,613.6L212.5,604.3M222.5,601.9L217.3,605.5M217.8,612.1L217.3,605.5M217.3,605.5L212.5,604.3M166.0,487.6L168.0,479.8M166.0,487.6L168.0,492.0M168.0,492.0L176.8,485.5M176.8,485.5L172.5,479.6M172.5,479.6L168.9,478.9M168.9,478.9L168.0,479.8M154.9,480.3L168.0,479.8M155.1,486.7L166.0,487.6M168.0,494.7L168.0,492.0M168.0,494.7L162.8,499.5M162.8,499.5L161.4,499.5M166.6,469.5L168.9,478.9M180.3,474.3L181.6,471.4M180.3,474.3L172.5,479.6M155.3,473.2L160.9,466.7M160.9,466.7L165.8,468.3M175.8,496.9L178.4,486.2M175.8,496.9L180.2,500.5M183.2,500.6L180.2,500.5M183.2,500.6L186.5,495.6M186.5,495.6L185.9,486.3M178.4,486.2L184.5,485.8M184.5,485.8L185.9,486.3M168.0,494.7L175.8,496.9M176.8,485.5L178.4,486.2M196.1,495.5L186.5,495.6M197.9,504.9L189.1,509.4M189.1,509.4L183.2,500.6M186.9,485.7L185.9,486.3M180.3,474.3L184.5,485.8M178.6,523.5L176.0,521.0M178.6,523.5L187.8,517.4M176.0,521.0L177.0,512.7M177.0,512.7L189.0,510.1M187.8,517.4L189.8,514.6M189.8,514.6L189.0,510.1M187.6,531.8L191.3,529.1M191.3,529.1L187.8,517.4M178.7,525.7L178.6,523.5M189.1,509.4L189.0,510.1M173.1,507.7L177.0,512.7M173.1,507.7L180.2,500.5M169.8,508.2L168.9,519.1M169.8,508.2L167.7,507.2M167.7,507.2L159.4,514.0M168.9,519.1L164.6,520.7M159.4,514.0L161.0,520.5M161.0,520.5L164.6,520.7M173.1,507.7L169.8,508.2M176.0,521.0L168.9,519.1M162.8,499.5L167.7,507.2M157.1,511.8L159.4,514.0M168.1,528.8L164.6,520.7M160.9,520.5L161.0,520.5M190.1,541.2L201.0,536.4M201.0,536.4L204.6,539.2M204.6,539.2L200.4,548.1M191.0,549.9L198.3,549.3M198.3,549.3L200.4,548.1M194.6,572.5L203.6,567.3M191.1,560.2L201.1,560.4M203.6,567.3L201.1,560.4M198.3,549.3L203.2,558.2M201.1,560.4L203.2,558.2M12.9,599.3L20.0,601.3M21.9,613.8L22.7,612.8M22.7,612.8L22.0,603.6M22.0,603.6L20.0,601.3M23.4,592.5L25.1,594.8M20.0,601.3L25.1,594.8M22.7,612.8L31.1,610.6M22.0,603.6L32.3,601.2M31.1,610.6L32.3,601.2M33.6,652.8L43.7,655.9M170.4,655.1L166.7,651.4M170.4,655.1L181.5,653.4M175.3,642.2L168.6,641.0M168.6,641.0L166.7,651.4M44.1,541.9L44.7,552.3M32.3,550.6L43.7,552.8M44.7,552.3L43.7,552.8M61.4,531.8L65.6,538.7M74.6,534.2L73.8,540.1M65.6,538.7L73.8,540.1M84.7,532.7L85.9,541.6M96.2,537.4L92.8,541.9M92.8,541.9L85.9,541.6M73.8,540.1L75.1,542.8M75.1,542.8L82.4,543.4M85.9,541.6L82.4,543.4M198.4,528.4L199.6,529.9M198.4,528.4L199.6,519.7M199.6,529.9L210.1,527.5M199.6,519.7L203.9,517.6M211.1,525.0L210.1,527.5M211.1,525.0L205.1,517.9M205.1,517.9L203.9,517.6M191.3,529.1L198.4,528.4M201.0,536.4L199.6,529.9M189.8,514.6L199.6,519.7M204.6,539.2L209.7,539.5M211.3,531.3L210.1,527.5M203.7,514.5L203.9,517.6M216.6,523.4L211.1,525.0M217.2,512.2L205.1,517.9M110.8,583.9L114.9,589.3M110.8,583.9L114.5,575.3M123.0,575.1L124.3,581.6M114.9,589.3L124.3,581.6M125.6,600.3L114.5,598.5M125.6,600.3L126.3,591.7M114.5,598.5L115.3,590.9M115.3,590.9L126.3,591.7M136.9,575.4L136.9,575.4M124.3,581.6L128.8,585.0M136.9,575.4L128.8,585.0M114.9,589.3L115.0,590.2M115.3,590.9L115.0,590.2M126.3,591.7L130.4,588.8M130.4,588.8L128.8,585.0M146.5,587.8L144.1,590.7M146.5,587.8L138.2,581.2M144.1,590.7L136.3,592.5M138.2,581.2L133.9,590.2M136.3,592.5L133.9,590.2M136.9,575.4L138.2,581.2M130.4,588.8L133.9,590.2M125.6,600.3L128.1,602.6M136.3,592.5L135.0,600.7M135.0,600.7L128.1,602.6M154.3,578.8L160.2,587.8M154.3,578.8L147.8,585.4M147.4,587.2L157.4,591.2M147.4,587.2L147.8,585.4M157.4,591.2L160.2,588.1M160.2,588.1L160.2,587.8M165.5,577.6L160.2,587.8M155.8,573.0L154.3,578.8M143.8,575.0L147.8,585.4M148.4,601.3L144.1,590.7M148.4,601.3L158.1,598.7M158.1,598.7L157.4,591.2M146.5,587.8L147.4,587.2M170.2,589.9L160.2,588.1M166.6,600.1L160.5,600.8M160.5,600.8L158.1,598.7M134.1,548.0L123.7,550.7M127.5,540.5L121.4,543.7M123.7,550.7L121.4,543.7M128.8,560.5L123.4,552.0M123.7,550.7L123.4,552.0M121.8,564.3L114.2,556.9M114.2,556.9L114.6,556.0M123.4,552.0L114.6,556.0M119.5,531.8L117.1,541.7M121.4,543.7L117.1,541.7M22.6,446.8L23.9,438.8M22.6,446.8L22.2,447.2M22.2,447.2L14.3,446.0M23.9,438.8L22.7,438.2M22.7,438.2L15.3,438.8M14.3,446.0L15.3,438.8M28.2,438.0L32.7,448.0M28.2,438.0L23.9,438.8M32.7,448.0L22.6,446.8M33.3,453.5L34.6,449.5M22.2,455.4L22.2,447.2M34.6,449.5L32.7,448.0M12.7,447.5L14.3,446.0M11.9,435.3L15.3,438.8M28.2,438.0L32.1,434.1M61.8,472.8L58.9,470.1M61.8,472.8L71.1,465.8M58.9,470.1L58.8,466.2M58.8,466.2L64.4,459.7M64.4,459.7L70.7,461.5M71.1,465.8L70.7,461.5M51.0,472.8L58.9,470.1M63.3,476.7L61.8,472.8M46.3,462.1L49.8,460.2M50.5,460.3L58.8,466.2M50.5,460.3L49.8,460.2M61.6,454.4L64.4,459.7M61.6,454.4L50.5,460.3M77.4,456.4L70.7,461.5M61.6,454.4L61.6,453.4M74.8,448.0L70.6,446.9M61.6,453.4L70.6,446.9M77.6,435.4L64.0,438.2M70.6,446.9L64.0,438.2M63.3,437.7L64.0,438.2M81.9,467.1L82.4,475.1M81.9,467.1L73.1,468.6M82.4,475.1L77.9,478.6M73.1,468.6L74.3,478.2M74.3,478.2L77.9,478.6M82.5,465.7L81.9,467.1M91.1,475.1L82.4,475.1M71.1,465.8L73.1,468.6M84.6,489.5L77.9,478.6M72.5,479.1L74.3,478.2M169.6,445.7L162.7,445.6M169.6,445.7L167.2,455.2M162.7,445.6L159.0,448.5M159.0,448.5L156.5,458.6M167.2,455.2L157.0,459.0M156.5,458.6L157.0,459.0M170.0,445.5L169.6,445.7M159.4,438.1L162.7,445.6M174.1,460.3L167.2,455.2M151.6,443.9L159.0,448.5M148.0,457.9L156.5,458.6M160.9,466.7L157.0,459.0M216.0,614.8L211.1,616.5M216.0,614.8L220.2,623.1M211.1,616.5L210.9,624.2M220.2,623.1L210.9,624.2M206.0,613.6L211.1,616.5M217.8,612.1L216.0,614.8M223.4,624.7L220.2,623.1M209.3,626.3L210.9,624.2M206.2,579.0L211.2,571.1M203.6,567.3L210.0,569.4M211.2,571.1L210.0,569.4M221.1,579.0L219.2,572.2M211.2,571.1L219.2,572.2M221.8,567.9L220.8,570.6M220.8,570.6L219.2,572.2M43.7,655.9L46.7,653.7M46.7,653.7L51.0,654.8M158.0,645.7L161.4,652.4M158.0,645.7L152.4,645.7M152.4,645.7L150.7,652.5M150.7,652.5L156.2,658.5M161.4,652.4L156.2,658.5M139.9,653.9L150.7,652.5M166.7,651.4L161.4,652.4M181.2,634.4L177.1,629.7M188.8,623.6L180.6,621.4M180.6,621.4L177.1,629.7M166.7,614.3L170.0,622.5M166.7,614.3L172.3,611.1M172.3,611.1L175.0,612.3M175.0,612.3L179.1,618.2M170.0,622.5L179.3,619.7M179.1,618.2L179.3,619.7M171.9,604.1L172.3,611.1M159.7,610.1L163.1,614.0M159.7,610.1L160.5,600.8M163.1,614.0L166.7,614.3M185.4,605.7L175.0,612.3M187.1,611.0L179.1,618.2M180.6,621.4L179.3,619.7M177.1,629.7L167.3,629.8M167.3,629.8L170.0,622.5M38.1,564.9L39.1,565.1M43.7,552.8L42.7,558.8M39.1,565.1L42.7,558.8M51.2,552.6L56.8,562.4M51.2,552.6L44.7,552.3M42.7,558.8L52.2,565.8M56.8,562.4L52.2,565.8M43.1,604.2L33.9,598.9M43.1,604.2L46.7,601.8M46.7,601.8L41.4,589.1M33.5,596.4L33.9,598.9M33.5,596.4L35.3,592.1M35.3,592.1L40.7,589.1M40.7,589.1L41.4,589.1M42.8,609.0L43.1,604.2M42.8,609.0L34.4,612.7M31.1,610.6L34.4,612.7M32.3,601.2L33.9,598.9M25.1,594.8L33.5,596.4M27.9,583.7L35.3,592.1M30.3,577.2L36.4,576.9M36.4,576.9L40.7,589.1M54.8,541.6L55.6,543.2M65.6,538.7L61.0,543.3M61.0,543.3L55.6,543.2M51.2,552.6L53.4,550.1M55.6,543.2L53.4,550.1M92.8,541.9L95.3,548.8M84.7,551.6L82.4,543.4M84.7,551.6L86.0,554.2M86.0,554.2L95.3,548.8M114.5,598.5L113.8,599.4M128.1,602.6L125.4,611.0M125.4,611.0L125.2,611.2M125.2,611.2L121.2,610.5M113.8,599.4L121.2,610.5M147.0,603.2L135.3,600.9M147.0,603.2L147.1,613.1M135.3,600.9L137.5,611.4M147.1,613.1L146.7,613.7M146.7,613.7L138.3,612.2M138.3,612.2L137.5,611.4M148.4,601.3L147.0,603.2M135.0,600.7L135.3,600.9M159.7,610.1L147.1,613.1M125.4,611.0L137.5,611.4M163.1,614.0L157.9,623.6M157.9,623.6L147.7,622.0M147.7,622.0L146.7,613.7M138.3,627.1L132.7,620.4M138.3,627.1L147.4,622.5M132.7,620.4L138.3,612.2M147.4,622.5L147.7,622.0M132.7,620.4L126.4,618.9M125.2,611.2L126.4,618.9M114.2,542.4L112.4,549.3M114.2,542.4L107.2,539.2M112.4,549.3L101.9,550.8M107.2,539.2L101.9,550.8M114.6,556.0L112.4,549.3M117.1,541.7L114.2,542.4M106.9,538.7L107.2,539.2M39.1,447.1L39.7,443.0M39.1,447.1L42.4,448.5M39.7,443.0L43.1,439.3M42.4,448.5L50.4,448.8M43.1,439.3L53.7,440.3M50.4,448.8L54.4,445.9M54.4,445.9L55.2,441.7M53.7,440.3L55.2,441.7M34.6,449.5L39.1,447.1M32.1,434.1L39.7,443.0M44.1,460.7L42.4,448.5M49.8,460.2L50.4,448.8M61.6,453.4L54.4,445.9M63.3,437.7L55.2,441.7M210.8,563.6L218.1,557.4M210.8,563.6L206.3,557.3M206.3,557.3L209.8,552.5M218.1,556.8L218.1,557.4M218.1,556.8L211.4,551.7M211.4,551.7L209.8,552.5M210.0,569.4L210.8,563.6M221.8,567.9L218.1,557.4M203.2,558.2L206.3,557.3M200.4,548.1L209.8,552.5M223.4,554.0L218.1,556.8M213.4,542.0L211.4,551.7M45.9,613.1L45.5,622.4M45.9,613.1L42.8,609.0M34.4,612.7L35.7,622.4M45.5,622.4L44.5,623.4M44.5,623.4L35.7,622.4M23.5,622.9L32.0,624.7M32.0,624.7L35.7,622.4M138.3,627.1L136.2,632.0M148.6,639.7L139.8,636.7M148.6,639.7L150.9,636.7M147.4,622.5L150.9,636.7M136.2,632.0L139.8,636.7M167.3,629.8L167.1,629.9M157.9,623.6L159.2,625.2M167.1,629.9L159.2,625.2M105.6,658.0L100.0,655.8M95.1,650.9L89.2,652.1M95.1,650.9L100.0,655.6M100.0,655.8L100.0,655.6M95.1,650.9L96.3,640.4M100.0,655.6L106.2,645.3M106.2,645.3L96.3,640.4M85.6,647.6L89.2,652.1M85.6,647.6L95.4,639.1M96.3,640.4L95.4,639.1M39.1,565.1L43.0,571.7M52.2,565.8L47.4,572.2M47.4,572.2L43.0,571.7M36.4,576.9L40.1,574.4M40.1,574.4L43.0,571.7M41.4,589.1L46.0,587.6M40.1,574.4L46.0,587.6M96.7,561.5L100.1,552.4M96.7,561.5L109.2,563.8M109.2,563.8L110.9,558.9M110.9,558.9L100.4,552.3M100.4,552.3L100.1,552.4M110.0,569.3L109.2,563.8M114.2,556.9L110.9,558.9M101.9,550.8L100.4,552.3M95.3,548.8L100.1,552.4M107.7,610.0L110.7,601.2M107.7,610.0L95.8,608.8M110.7,601.2L102.5,597.8M102.5,597.8L95.9,601.2M95.8,608.8L95.9,601.2M113.8,599.4L110.7,601.2M121.2,610.5L111.7,615.1M110.1,615.1L111.7,615.1M110.1,615.1L107.7,610.0M97.7,622.8L92.5,612.5M97.7,622.8L98.3,623.1M108.2,618.6L104.7,622.9M108.2,618.6L110.1,615.1M98.3,623.1L104.7,622.9M92.5,612.5L95.8,608.8M115.0,590.2L102.2,592.7M102.2,592.7L102.5,597.8M97.7,622.8L84.3,627.5M84.3,627.5L80.9,623.3M92.5,612.5L91.7,612.5M91.7,612.5L80.9,623.3M45.2,629.4L32.9,635.7M45.2,629.4L48.1,634.9M48.1,635.0L48.1,634.9M48.1,635.0L43.8,641.5M43.8,641.5L36.3,642.0M36.3,642.0L32.8,635.9M32.8,635.9L32.9,635.7M44.5,623.4L45.2,629.4M32.0,624.7L32.9,635.7M45.5,622.4L52.1,622.1M57.6,627.9L48.1,634.9M57.6,627.9L52.1,622.1M35.4,643.7L36.3,642.0M47.0,646.3L46.7,653.7M47.0,646.3L43.8,641.5M24.3,636.8L32.8,635.9M47.0,646.3L52.0,645.7M48.1,635.0L55.0,638.0M52.0,645.7L55.0,638.0M64.7,629.9L64.7,630.2M64.7,629.9L57.6,627.9M64.7,630.2L61.0,638.4M55.0,638.0L61.0,638.4M53.4,654.4L60.7,657.3M53.4,654.4L56.4,647.3M56.4,647.3L61.7,645.6M61.7,645.6L63.0,654.9M60.7,657.3L63.0,654.9M51.0,654.8L53.4,654.4M52.0,645.7L56.4,647.3M62.7,643.9L61.7,645.6M62.7,643.9L61.0,638.4M71.0,655.4L63.0,654.9M76.9,647.0L76.4,646.9M76.9,647.0L78.8,646.3M76.4,646.9L74.6,645.3M78.8,646.3L85.9,634.3M74.6,645.3L73.8,638.2M73.8,638.2L77.2,634.4M77.2,634.4L84.7,632.5M85.9,634.3L84.7,632.5M71.0,655.4L76.4,646.9M85.6,647.6L78.8,646.3M62.7,643.9L74.6,645.3M95.4,639.1L95.2,638.4M95.2,638.4L85.9,634.3M64.7,630.2L73.8,638.2M84.3,627.5L84.7,632.5M98.3,623.1L95.9,637.4M95.2,638.4L95.9,637.4M108.2,618.6L116.5,625.2M111.7,615.1L121.3,622.4M116.5,625.2L121.3,622.4M126.4,618.9L123.2,622.6M121.3,622.4L123.2,622.6M148.6,639.7L148.6,639.9M148.6,639.9L138.7,652.0M139.8,636.7L135.5,648.1M135.5,648.1L138.7,652.0M139.9,653.9L139.2,653.6M152.4,645.7L148.6,639.9M139.2,653.6L138.7,652.0M167.3,639.6L162.9,640.9M167.3,639.6L166.8,632.5M166.8,632.5L154.3,635.0M162.9,640.9L153.0,636.2M153.0,636.2L154.3,635.0M168.6,641.0L167.3,639.6M158.0,645.7L162.9,640.9M167.1,629.9L166.8,632.5M159.2,625.2L154.3,635.0M150.9,636.7L153.0,636.2M56.8,562.4L59.0,562.9M47.4,572.2L48.5,573.6M48.5,573.6L62.0,576.6M62.0,576.6L65.0,574.2M59.0,562.9L65.0,574.2M45.9,613.1L53.7,611.1M49.5,601.1L46.7,601.8M49.5,601.1L53.4,602.9M53.4,602.9L53.7,611.1M52.1,622.1L59.2,615.1M53.7,611.1L59.2,615.1M63.7,616.0L74.3,609.4M63.7,616.0L68.6,624.2M68.6,624.2L70.1,624.0M70.1,624.0L77.0,621.8M77.0,621.8L77.6,612.0M77.6,612.0L74.3,609.4M64.7,629.9L68.6,624.2M59.2,615.1L62.2,614.9M62.2,614.9L63.7,616.0M77.2,634.4L70.1,624.0M80.9,623.3L77.0,621.8M91.7,612.5L84.7,608.7M84.7,608.7L77.6,612.0M136.2,632.0L126.8,634.6M135.5,648.1L123.9,644.1M123.9,644.1L123.5,643.7M123.5,643.7L126.8,634.6M123.2,622.6L125.2,632.4M126.8,634.6L125.2,632.4M112.9,655.9L105.6,658.0M49.5,601.1L51.7,591.2M46.0,587.6L46.3,587.5M51.7,591.2L46.3,587.5M48.5,573.6L49.5,581.0M49.5,581.0L46.3,587.5M62.2,614.9L64.1,601.9M74.3,609.4L72.5,604.1M72.5,604.1L64.1,601.9M53.4,602.9L63.2,600.6M63.2,600.6L64.1,601.9M53.4,550.1L66.7,552.1M59.0,562.9L63.6,559.6M63.6,559.6L66.7,552.1M75.1,542.8L71.6,550.1M84.7,551.6L72.7,551.5M72.7,551.5L71.6,550.1M61.0,543.3L67.5,551.3M71.6,550.1L67.5,551.3M66.7,552.1L67.5,551.3M113.9,645.4L111.7,644.6M113.9,645.4L115.5,644.7M115.5,644.7L114.5,630.9M111.7,644.6L107.2,633.2M107.2,633.2L108.7,629.4M108.7,629.4L113.2,629.8M113.2,629.8L114.5,630.9M112.9,655.9L113.9,645.4M106.2,645.3L111.7,644.6M123.5,643.7L115.5,644.7M125.2,632.4L114.5,630.9M95.9,637.4L107.2,633.2M104.7,622.9L108.7,629.4M116.5,625.2L113.2,629.8M124.6,651.1L134.5,657.7M124.6,651.1L124.1,654.8M139.2,653.6L134.5,657.7M123.9,644.1L124.6,651.1M61.2,578.4L67.6,591.1M61.2,578.4L58.0,582.8M58.0,582.8L58.0,590.4M58.0,590.4L63.6,594.0M63.6,594.0L67.6,591.1M62.0,576.6L61.2,578.4M65.0,574.2L66.5,574.4M66.5,574.4L71.2,589.5M71.2,589.5L67.6,591.1M49.5,581.0L58.0,582.8M51.7,591.2L58.0,590.4M63.2,600.6L63.6,594.0M110.8,583.9L110.6,583.9M110.0,569.4L99.3,573.7M99.3,573.7L110.6,583.9M76.6,600.8L73.0,589.6M76.6,600.8L83.1,600.8M83.1,600.8L86.1,596.9M86.1,596.9L84.3,591.9M84.3,591.9L75.0,588.7M75.0,588.7L73.0,589.6M72.5,604.1L76.6,600.8M71.2,589.5L73.0,589.6M84.7,608.7L83.1,600.8M94.8,600.3L95.9,601.2M94.8,600.3L89.2,597.4M89.2,597.4L86.1,596.9M63.6,559.6L72.6,563.5M72.7,551.5L78.1,560.2M72.6,563.5L78.1,560.2M66.5,574.4L69.8,573.4M72.6,563.5L69.8,573.4M94.8,600.3L96.6,590.3M89.2,597.4L95.0,589.0M95.0,589.0L96.6,590.3M102.2,592.7L101.8,591.9M96.6,590.3L101.8,591.9M110.6,583.9L103.8,586.2M101.8,591.9L103.8,586.2M86.0,554.2L84.8,559.5M96.7,561.5L96.6,561.5M84.8,559.5L96.6,561.5M78.1,560.2L82.4,561.3M84.8,559.5L82.4,561.3M75.0,588.7L77.8,582.0M69.8,573.4L75.6,574.9M77.8,582.0L75.6,574.9M82.4,561.3L83.6,570.3M75.6,574.9L83.6,570.3M86.3,572.1L86.6,581.8M86.3,572.1L96.8,571.6M98.9,573.7L96.7,581.5M98.9,573.7L96.8,571.6M96.7,581.5L93.2,584.6M93.2,584.6L89.0,584.6M89.0,584.6L86.6,581.8M77.8,582.0L86.6,581.8M83.6,570.3L86.3,572.1M96.6,561.5L96.8,571.6M99.3,573.7L98.9,573.7M103.8,586.2L96.7,581.5M95.0,589.0L93.2,584.6M84.3,591.9L89.0,584.6" stroke="#5f8cc4" stroke-width="0.7" fill="none"/><path d="M133.3,436.5L136.7,439.8M217.6,436.2L214.6,436.8M6.6,552.9L3.0,548.9M5.8,555.9L3.2,561.5M-2.2,577.6L-2.6,576.4M2.0,537.6L4.2,540.5M4.0,541.7L2.9,547.7M1.1,532.5L5.0,527.6M4.4,520.0L2.3,517.1M2.1,564.7L2.9,565.9M-1.2,573.6L2.7,569.7M3.2,567.1L3.2,568.7M7.1,553.3L11.7,554.5M5.1,565.9L13.1,564.3M0.3,533.9L1.2,536.3M132.4,436.3L129.3,436.7M128.8,437.1L126.1,439.8M138.5,441.6L138.7,445.0M136.0,447.1L130.1,449.7M125.4,441.8L128.0,449.0M212.9,461.7L221.0,459.8M210.9,462.4L211.2,467.7M220.8,463.0L220.1,469.3M219.2,470.8L213.6,470.2M208.1,454.7L210.5,449.8M207.7,458.0L210.6,461.7M221.9,459.3L224.3,457.4M214.2,450.1L224.2,457.2M208.3,443.1L204.1,443.7M209.0,443.0L209.1,443.1M209.2,443.2L210.7,446.4M211.3,448.1L211.3,447.8M201.8,457.7L197.8,456.2M202.8,444.2L198.1,448.6M181.2,652.2L180.8,650.2M183.0,645.6L187.5,640.2M190.6,638.9L195.1,643.1M182.2,653.8L185.1,654.0M191.9,650.4L194.3,647.2M222.4,626.8L220.3,631.1M2.8,647.4L5.8,651.8M-1.1,606.5L1.4,603.5M-1.0,592.7L0.3,593.1M-1.8,578.7L-0.1,580.3M16.3,633.0L19.2,631.7M14.8,624.5L19.5,624.3M21.4,629.7L21.8,626.4M-0.5,502.3L2.3,509.9M3.4,513.7L2.3,515.5M2.2,517.0L2.2,515.9M13.1,518.6L7.3,519.9M13.9,518.2L12.6,512.9M11.5,511.0L10.3,510.3M20.7,564.6L14.4,564.8M13.5,554.5L16.6,552.9M13.4,564.4L13.7,564.7M19.9,553.2L18.1,552.4M6.2,527.4L11.6,527.8M15.1,527.9L15.5,527.7M24.0,513.7L22.9,516.7M23.4,511.3L20.8,509.2M18.9,509.7L12.8,511.3M18.4,519.5L22.1,517.7M6.1,651.8L10.3,651.9M5.8,643.2L9.5,640.3M23.7,635.7L22.1,632.4M13.9,634.7L12.3,637.0M16.1,641.8L18.9,642.0M13.2,653.7L11.5,652.3M104.9,528.0L98.1,527.6M107.0,527.5L106.8,520.6M104.4,520.4L95.9,523.0M95.0,526.4L94.1,523.8M25.4,565.7L31.0,560.8M25.2,566.4L27.6,569.9M30.2,570.9L36.9,565.8M32.8,561.8L37.9,564.8M24.1,565.6L22.5,564.6M24.6,566.0L24.9,566.1M22.3,553.1L28.1,552.5M31.0,560.1L30.8,553.9M151.7,551.4L147.4,552.9M146.0,549.9L142.8,542.6M156.7,532.8L155.5,530.5M158.9,539.9L159.0,539.8M148.0,528.6L154.4,530.2M145.4,532.1L142.3,538.8M142.2,541.8L141.6,541.4M108.8,529.7L117.1,527.8M108.4,529.5L107.1,528.2M106.8,519.5L107.1,518.7M108.5,517.9L110.9,517.1M111.6,516.9L117.1,523.8M92.3,518.3L95.6,512.6M96.7,510.8L97.9,509.9M77.0,501.0L76.4,502.9M87.2,506.1L84.2,500.0M86.6,508.2L84.7,510.2M76.7,504.7L82.0,510.5M211.3,470.0L210.6,470.8M201.4,460.1L198.9,471.6M208.2,471.3L199.1,472.0M223.3,441.9L219.6,445.5M211.9,447.6L217.8,446.2M220.2,471.0L219.9,470.9M221.1,473.5L222.5,477.6M219.0,436.6L223.0,440.7M189.3,480.2L195.4,476.5M199.1,480.7L198.2,485.4M197.0,486.3L189.3,485.9M219.3,514.1L219.5,514.8M217.6,512.6L218.9,513.7M217.0,511.4L216.5,509.8M216.4,509.4L218.3,502.7M189.0,459.3L190.0,459.9M185.8,459.8L180.5,460.6M189.8,468.8L186.5,470.3M181.2,471.0L181.6,471.4M197.2,456.3L192.7,458.7M198.6,472.1L197.9,472.6M188.7,479.6L186.1,473.8M197.8,474.5L197.9,472.8M176.0,459.8L174.5,460.2M166.4,469.2L166.1,468.7M170.8,469.9L178.3,470.7M171.7,462.6L166.6,467.5M194.6,449.3L191.8,446.8M188.1,457.4L185.8,452.5M176.4,458.3L177.5,452.9M184.0,450.5L178.6,450.8M195.5,440.1L190.6,443.9M189.8,444.5L185.0,439.0M183.4,436.3L183.8,437.3M203.2,443.8L196.9,440.7M189.8,444.8L189.8,444.5M177.8,450.7L176.6,449.3M183.3,436.0L182.5,435.6M219.2,586.2L215.6,592.2M220.8,599.7L215.4,592.6M219.5,584.6L220.6,580.8M222.2,642.7L221.3,643.0M220.8,644.8L219.1,655.0M221.2,636.0L222.0,641.4M214.8,644.1L220.0,643.3M213.2,632.9L218.9,632.4M190.3,653.3L196.0,657.8M213.3,646.5L213.9,650.9M210.0,644.8L205.7,644.7M213.1,654.0L208.2,655.8M207.0,655.6L204.9,654.4M217.7,655.8L215.0,654.1M198.0,658.3L202.0,655.2M178.2,599.4L177.8,596.5M186.2,592.7L189.3,596.4M201.6,642.4L202.8,637.6M212.3,633.0L211.6,632.5M210.9,632.9L205.5,635.8M191.4,634.4L197.5,631.7M188.7,635.5L187.6,634.4M199.3,630.6L199.7,628.3M199.2,627.2L191.6,623.6M189.6,623.0L189.1,623.4M189.4,637.3L189.0,636.1M201.8,635.3L200.0,632.3M175.3,642.2L180.0,648.2M176.4,640.8L179.6,636.6M182.1,634.4L187.5,634.3M174.6,582.8L179.7,583.2M172.3,581.7L169.3,577.4M169.2,576.7L169.6,575.8M170.8,575.2L174.5,573.6M182.4,583.5L182.4,583.5M1.2,614.5L1.4,614.7M1.6,603.3L10.4,604.7M9.0,613.2L1.8,614.7M9.1,613.1L10.2,612.0M10.6,604.8L10.4,610.1M4.0,631.8L4.9,629.4M3.2,644.5L0.7,633.4M12.6,624.6L12.6,624.6M12.4,623.9L9.8,615.8M1.4,615.8L1.2,618.5M45.4,539.3L45.8,534.6M54.9,539.6L55.4,532.9M55.5,530.9L55.4,530.9M44.1,541.9L44.9,541.2M35.2,539.7L34.5,535.3M45.2,532.3L41.5,530.3M34.9,533.5L38.6,530.9M18.1,548.1L21.4,543.5M10.7,539.8L11.5,539.2M21.9,537.6L22.9,540.9M17.8,551.8L17.7,549.7M31.7,546.4L25.2,542.6M31.9,547.3L32.2,549.4M32.1,550.8L30.7,552.3M4.4,540.5L10.1,540.0M14.7,528.8L12.3,536.9M23.6,533.3L22.5,536.1M25.0,531.8L26.1,531.3M33.1,533.4L29.0,531.7M21.0,642.7L21.7,643.8M13.9,653.6L21.8,651.1M24.3,651.6L27.6,654.5M15.8,584.4L22.9,585.7M12.7,583.0L12.2,581.1M12.7,578.3L14.4,576.4M20.3,576.2L25.9,577.4M24.0,585.7L27.5,583.9M29.2,578.9L28.1,582.9M2.8,580.2L10.3,580.0M10.3,591.3L12.8,584.0M3.4,569.4L11.5,578.0M13.9,566.5L14.2,572.8M23.2,567.8L18.2,574.3M29.0,572.1L30.0,576.1M80.0,531.5L83.2,532.3M78.2,528.4L78.7,522.5M84.7,531.8L86.0,523.9M78.7,520.7L78.8,520.8M75.0,505.3L72.6,508.1M74.0,512.0L77.3,518.1M83.1,512.0L84.3,519.1M90.0,519.9L87.1,519.8M87.8,507.1L96.4,510.7M145.6,557.7L145.4,556.3M130.2,560.8L134.4,564.4M143.8,562.9L137.6,565.6M164.2,564.1L158.9,565.7M165.3,562.4L164.7,555.4M163.6,554.2L158.1,555.0M157.8,556.5L156.4,562.4M154.5,551.9L156.6,553.7M146.9,558.4L153.2,561.6M153.6,571.9L148.9,571.5M137.8,541.4L136.0,542.5M135.7,553.7L134.3,548.7M121.2,510.3L116.7,509.8M123.2,511.8L125.4,516.9M118.9,524.9L120.3,523.9M124.2,518.9L122.0,522.0M117.4,528.1L119.1,531.0M121.5,532.2L126.8,533.2M128.0,532.4L131.0,529.9M123.1,524.9L128.4,528.0M64.3,487.5L66.8,480.2M71.4,486.6L72.3,480.6M72.5,479.1L68.0,478.5M71.2,496.1L70.2,490.2M70.0,496.5L65.1,497.6M86.8,436.8L88.1,438.2M86.0,497.5L94.3,499.5M83.4,496.5L84.3,490.7M90.9,486.1L85.5,489.0M93.5,489.7L95.4,495.5M96.8,500.0L96.8,500.1M84.4,490.0L84.6,489.6M76.0,499.3L73.1,497.4M82.8,497.3L83.2,496.9M98.8,508.4L98.8,508.1M99.1,508.5L111.0,508.5M98.8,507.9L106.9,502.2M110.1,500.9L112.4,502.8M113.7,503.9L114.5,507.1M98.3,509.5L98.7,508.7M115.5,509.4L114.9,508.6M138.9,445.9L139.1,446.1M127.9,454.2L128.6,456.8M134.5,459.5L131.4,459.6M129.1,458.1L130.1,459.0M136.5,461.1L136.4,466.4M144.7,463.8L144.9,461.5M142.9,465.2L139.1,468.2M135.1,459.6L136.4,460.0M130.4,461.6L129.5,466.1M139.7,446.5L144.5,449.7M147.6,456.7L146.2,452.8M147.6,458.3L145.7,460.1M123.5,441.0L118.9,441.4M126.8,452.6L118.5,451.2M113.5,446.8L114.9,443.4M114.0,436.9L115.4,440.9M111.7,435.8L105.1,435.4M95.8,436.9L100.3,438.3M103.1,436.3L102.1,437.9M116.6,479.4L117.3,485.4M114.8,479.2L107.8,480.5M104.6,489.2L105.5,490.7M106.5,491.1L105.8,491.0M102.6,478.0L93.2,479.1M104.3,478.2L105.2,480.7M92.6,480.6L92.4,484.7M93.9,485.6L100.4,487.5M117.0,496.0L116.0,492.6M116.7,499.9L114.0,503.5M92.3,485.3L92.2,485.4M116.8,478.1L116.6,478.6M125.3,488.3L127.3,486.1M20.0,506.8L18.0,500.4M9.5,508.8L9.5,503.8M10.1,501.4L15.8,500.6M24.6,512.1L29.4,510.5M31.6,509.7L32.1,505.5M31.2,504.7L21.4,497.9M18.6,499.6L19.9,498.0M55.2,529.3L54.7,523.7M40.4,529.1L40.8,524.1M46.6,521.2L53.0,522.9M63.2,530.8L65.4,529.5M60.9,531.7L56.5,531.1M68.0,521.7L64.1,517.7M62.3,516.8L58.6,519.0M31.2,489.8L31.1,489.7M31.0,489.6L33.0,481.6M36.1,478.6L43.3,481.1M46.5,487.0L45.6,483.2M45.6,490.8L41.8,499.3M46.9,487.9L46.8,487.8M40.5,499.3L37.6,499.3M71.6,508.7L69.8,509.2M63.0,498.3L61.5,500.2M63.1,502.6L66.5,506.7M64.2,514.3L66.9,511.4M220.1,485.1L221.8,481.3M218.0,487.1L211.9,489.3M219.7,480.4L214.0,479.5M210.1,489.0L209.9,481.3M210.2,480.8L211.1,479.1M223.0,480.1L222.1,480.8M208.8,492.8L209.1,493.4M208.8,492.3L209.8,490.6M210.3,471.3L211.1,478.3M200.5,490.6L198.9,487.8M206.5,504.2L209.2,506.6M205.0,503.2L202.1,504.6M208.9,508.2L204.2,513.9M200.9,506.3L202.7,511.5M215.9,509.2L211.1,507.6M200.2,491.1L196.2,495.4M196.6,498.2L197.6,503.2M198.7,505.0L200.0,505.2M179.7,436.7L174.0,439.3M169.0,436.1L170.3,439.1M168.1,435.4L162.2,434.8M176.1,448.7L170.8,445.9M170.1,445.1L170.9,441.0M211.5,632.4L210.1,628.4M200.8,626.8L202.5,625.5M203.4,625.2L207.6,626.0M185.5,591.2L184.8,586.1M191.1,596.4L196.5,589.6M196.7,587.5L195.7,584.8M194.5,584.7L186.1,585.3M182.6,583.6L183.0,583.9M177.2,595.1L175.7,593.6M183.3,584.1L184.2,584.9M192.8,616.1L190.5,621.5M193.2,615.9L199.0,613.7M202.6,623.2L201.6,617.7M199.9,613.3L200.5,613.6M219.8,537.8L218.8,531.2M219.4,515.4L217.3,521.4M184.4,573.5L189.1,568.1M195.0,573.8L194.7,572.8M190.2,568.8L194.0,572.0M139.4,503.0L136.9,505.5M141.1,499.9L138.8,496.7M138.0,496.4L130.6,495.8M134.5,506.9L128.9,506.9M125.7,506.6L125.5,501.1M150.8,503.8L151.5,507.9M149.7,501.2L147.3,500.0M151.5,511.0L148.2,513.9M145.7,514.0L140.6,502.7M145.6,499.9L141.7,500.1M123.3,509.8L124.9,507.8M118.4,498.6L123.6,499.6M125.6,490.7L127.3,494.2M128.2,471.5L128.4,474.5M138.1,471.9L140.4,477.9M131.1,475.7L138.0,478.6M140.5,478.7L139.5,479.1M128.5,486.0L131.9,485.6M128.4,474.6L127.4,475.8M144.8,466.6L144.6,472.9M151.6,477.4L146.6,477.1M139.3,494.4L142.6,488.9M149.5,488.5L144.5,487.0M153.0,501.0L160.4,499.4M160.0,497.8L156.2,490.5M151.6,489.0L153.8,488.0M140.7,478.7L141.1,478.8M143.3,485.1L141.6,479.9M160.2,503.1L157.6,510.4M220.1,540.2L219.0,540.8M219.6,543.6L222.1,550.5M9.9,592.5L10.9,594.0M23.6,587.2L23.5,590.5M21.1,592.8L13.0,593.9M10.6,604.7L12.2,601.0M11.4,595.1L12.7,598.8M27.2,524.4L27.5,525.4M27.6,523.5L33.1,518.5M28.6,525.6L37.1,522.6M35.4,517.0L38.4,520.3M23.2,518.3L27.1,523.9M33.5,511.4L35.0,516.2M40.7,522.5L39.8,521.8M22.3,624.0L23.1,623.2M10.8,612.0L19.2,613.3M23.3,621.9L22.1,614.7M25.0,644.2L33.5,643.8M28.3,654.8L30.3,654.9M31.4,654.4L33.2,653.0M35.4,643.8L34.0,650.9M95.3,528.0L94.8,530.0M84.6,532.6L84.7,532.7M86.0,532.4L92.6,530.8M95.1,532.3L95.7,535.0M218.3,541.1L214.1,541.9M213.0,541.7L210.2,539.8M210.0,537.8L211.1,532.2M187.6,531.8L187.4,536.0M185.6,530.4L180.1,526.7M187.2,538.3L182.4,539.1M178.5,526.0L177.7,527.1M177.7,529.5L178.1,534.2M178.8,538.1L180.8,539.2M172.3,530.1L176.9,527.6M170.4,532.1L168.8,537.7M177.2,538.0L170.9,539.3M158.4,532.2L165.8,529.6M159.1,539.8L163.8,541.3M168.1,528.8L170.7,530.8M168.0,540.0L166.1,541.9M165.4,553.2L168.3,549.9M166.3,542.7L169.1,548.6M177.2,561.4L178.3,562.1M175.9,551.1L177.6,550.3M177.8,550.2L186.5,549.9M190.4,561.2L188.3,564.6M191.1,558.5L191.0,552.5M169.4,573.5L168.9,568.6M170.7,564.1L176.4,561.6M176.2,572.9L177.7,565.0M170.1,549.2L174.1,551.0M180.7,540.0L177.9,549.6M189.3,540.4L187.9,538.9M190.1,541.7L190.6,547.8M136.5,566.8L136.1,571.9M147.7,572.0L144.3,574.6M136.2,574.5L136.9,575.4M172.2,584.7L170.3,589.5M170.3,590.1L171.0,592.1M178.1,601.0L173.1,603.5M171.8,604.0L167.1,600.5M170.0,593.9L167.9,597.7M168.6,577.1L165.9,577.5M155.3,572.0L155.6,572.7M162.9,576.4L156.9,573.5M121.9,575.1L114.8,575.3M123.7,564.8L121.9,564.3M120.7,564.8L113.9,567.6M114.4,575.1L110.2,569.7M129.6,560.5L129.0,560.5M134.2,574.0L128.2,573.5M127.8,561.4L124.3,564.9M137.4,517.6L144.0,518.4M136.7,517.6L133.7,519.4M133.1,519.8L132.9,528.0M146.6,526.8L144.9,519.6M145.6,517.4L144.8,518.2M135.5,507.8L136.4,514.2M127.1,517.7L131.7,519.2M147.1,528.4L147.0,528.3M159.8,520.3L147.5,517.5M160.7,520.8L156.8,527.8M133.5,542.2L128.2,540.7M127.0,533.3L127.4,539.5M0.4,450.1L4.3,445.5M5.1,442.9L4.3,438.0M2.2,434.0L3.5,434.9M4.1,435.1L11.2,435.3M46.6,468.9L49.8,471.7M44.9,468.1L43.4,469.1M46.0,481.2L49.9,477.0M50.4,476.1L50.8,474.0M47.7,488.1L50.1,488.9M57.0,486.1L57.8,483.3M52.0,477.5L57.8,481.5M66.7,478.1L63.7,476.9M84.8,436.3L79.9,435.8M84.4,443.8L87.4,439.2M82.5,444.7L79.5,444.9M77.7,435.7L77.5,442.8M77.7,435.6L77.6,435.4M77.0,455.1L75.1,449.0M78.6,456.9L80.9,457.8M88.5,451.7L85.9,455.2M82.5,458.1L84.0,457.7M76.9,445.7L75.4,447.4M82.1,459.5L82.3,463.4M86.2,458.7L94.8,462.7M96.5,467.0L94.4,469.0M105.3,468.9L104.4,475.7M104.8,468.3L98.5,467.1M93.5,470.2L91.9,473.5M117.7,465.9L119.6,462.5M116.9,466.9L114.2,468.1M112.8,468.3L108.9,467.2M116.8,455.8L111.2,461.5M117.9,457.2L119.6,460.2M108.3,467.0L108.4,464.9M127.5,470.2L119.7,467.6M107.0,455.4L107.9,449.9M105.5,456.2L96.9,457.9M107.9,449.4L101.4,446.7M100.9,446.5L97.2,447.5M96.0,448.0L95.7,448.3M112.3,447.9L109.5,448.9M108.3,463.9L107.3,458.3M95.0,462.7L96.5,458.2M101.6,439.6L101.1,445.8M32.9,504.1L35.2,500.4M20.7,496.2L21.7,492.6M29.8,489.7L25.6,490.2M24.4,490.7L22.1,491.9M3.0,496.2L1.5,491.4M7.5,498.1L13.8,488.3M1.1,489.5L2.0,487.9M4.3,487.6L10.0,487.3M0.3,501.1L3.7,498.8M9.4,501.4L7.0,499.6M20.8,491.5L16.3,488.8M1.4,479.4L1.9,485.5M15.7,479.5L20.1,478.2M13.9,481.0L14.0,485.2M33.4,473.0L33.0,475.0M33.4,471.7L32.2,469.1M31.0,475.6L23.4,477.0M23.9,464.1L20.4,466.2M42.6,469.6L35.0,471.7M33.7,477.3L33.2,476.2M42.4,460.4L37.8,459.5M37.0,460.4L32.4,468.4M45.7,466.2L46.1,463.1M32.5,453.9L27.4,456.7M1.3,454.5L2.3,455.5M2.6,463.2L3.2,457.1M7.3,445.2L10.6,446.6M12.3,454.5L12.6,449.5M9.8,455.3L4.1,456.4M12.7,476.4L15.9,467.7M6.2,467.2L12.8,466.1M15.8,466.8L14.8,466.3M1.9,477.7L3.8,476.5M3.1,464.8L4.9,466.9M13.8,480.0L12.6,478.7M12.5,456.3L13.7,463.1M24.8,457.7L23.1,456.2M21.1,455.3L15.7,455.0M54.1,499.2L57.4,501.5M53.0,499.0L45.1,502.1M57.2,503.0L56.6,505.6M54.4,507.7L49.5,510.2M45.0,502.3L45.9,508.1M46.1,509.7L46.6,510.2M52.1,490.9L53.4,497.9M61.2,500.4L57.7,501.5M41.8,499.3L44.3,501.5M61.4,513.5L56.8,507.3M44.9,519.2L46.1,513.0M161.6,434.9L159.5,437.9M158.9,438.1L151.8,438.3M145.5,450.1L150.5,445.0M151.5,439.0L151.6,443.8M208.5,603.1L199.4,604.1M210.7,601.3L209.7,594.7M208.7,593.9L206.8,592.8M198.9,602.1L203.4,593.8M216.2,584.4L208.8,583.2M215.0,592.7L210.3,594.3M208.3,583.8L205.9,590.4M185.6,604.2L185.5,605.2M192.5,615.8L187.1,611.0M199.7,611.5L199.0,604.4M185.8,606.8L186.8,610.0M208.2,582.6L206.7,579.8M205.1,579.0L199.9,578.8M201.7,613.8L205.4,613.6M211.1,603.0L212.4,604.2M221.6,602.6L217.8,605.2M217.7,610.6L217.5,607.7M216.2,605.2L212.6,604.3M166.5,485.7L167.8,480.4M166.5,488.6L167.5,490.8M169.5,490.9L176.6,485.6M176.7,485.4L172.7,479.9M171.6,479.4L169.2,479.0M168.7,479.1L168.3,479.5M158.3,480.2L167.8,479.8M168.0,494.4L168.0,492.4M167.7,495.0L163.5,498.8M162.6,499.5L161.5,499.5M166.8,470.2L168.3,476.5M180.3,474.2L181.5,471.6M180.1,474.4L175.0,477.9M161.3,466.8L164.9,468.0M176.5,494.2L178.0,488.0M182.5,500.6L180.4,500.5M183.9,499.5L185.6,497.0M186.4,494.6L186.1,488.8M178.9,486.2L184.0,485.8M168.6,494.9L175.3,496.8M177.1,485.6L177.9,486.0M197.2,505.2L190.6,508.7M187.7,507.3L183.2,500.6M186.8,485.8L186.1,486.2M180.8,475.6L184.5,485.8M178.3,523.2L176.0,521.0M179.9,522.6L186.5,518.3M176.2,519.6L176.9,513.3M177.3,512.6L184.8,511.0M188.0,517.2L189.6,514.8M188.2,531.3L191.0,529.3M190.8,527.3L188.6,520.0M178.7,525.5L178.6,523.7M189.1,509.4L189.0,510.0M173.6,508.3L176.8,512.4M174.1,506.6L177.9,502.8M169.7,509.2L168.9,519.0M169.5,508.0L167.9,507.3M165.4,509.1L160.3,513.2M168.7,519.2L164.9,520.6M172.4,507.8L170.5,508.1M174.1,520.5L170.4,519.5M167.8,528.2L165.7,523.2M160.9,520.5L161.0,520.5M192.0,540.4L201.0,536.4M201.5,536.8L203.8,538.5M204.5,539.5L201.1,546.7M191.4,549.9L196.0,549.5M197.1,571.1L200.5,569.1M203.4,566.6L201.5,561.6M198.7,550.0L203.2,558.1M201.4,560.1L203.2,558.2M13.3,599.4L18.2,600.8M22.0,613.7L22.5,613.0M21.5,599.4L24.3,595.9M22.9,603.4L31.9,601.3M31.3,609.1L32.2,602.0M34.2,653.0L42.5,655.5M173.1,654.7L178.3,653.9M174.9,642.1L169.3,641.1M44.2,543.1L44.5,548.9M32.6,550.6L42.2,552.5M44.4,552.4L43.9,552.7M74.4,535.4L74.1,538.2M95.9,537.8L93.8,540.5M92.3,541.9L86.9,541.6M74.0,540.6L75.0,542.6M76.7,542.9L81.4,543.3M85.2,541.9L82.8,543.2M198.6,527.0L199.3,522.1M200.8,529.6L208.4,527.9M210.9,525.5L210.3,527.1M210.7,524.6L205.4,518.3M204.8,517.8L204.2,517.7M192.2,529.0L196.5,528.6M201.0,536.4L200.0,532.0M192.6,516.0L199.5,519.6M205.0,539.2L207.9,539.4M211.3,531.3L210.2,527.8M203.7,514.6L203.9,517.3M216.1,523.5L211.5,524.9M214.9,513.3L208.8,516.2M111.7,585.1L114.1,588.2M123.2,576.0L124.3,581.4M116.5,588.0L122.5,583.1M124.0,600.0L116.8,598.9M118.2,591.1L124.3,591.6M136.9,575.4L136.9,575.4M125.2,582.3L128.4,584.7M136.2,576.3L131.1,582.2M114.9,589.4L115.0,590.1M115.3,590.8L115.0,590.3M127.3,591.0L129.1,589.7M130.2,588.3L129.0,585.5M146.2,588.1L144.6,590.1M146.3,587.7L139.8,582.5M142.7,591.0L137.0,592.3M137.0,583.6L135.3,587.3M130.5,588.8L133.4,590.0M126.2,600.8L127.6,602.2M136.2,593.2L135.0,600.6M133.3,601.2L129.3,602.3M147.4,587.1L147.7,585.7M158.1,590.4L159.7,588.6M160.2,588.1L160.2,587.8M144.5,576.9L146.8,582.9M148.7,601.2L155.5,599.4M157.9,597.0L157.5,592.2M146.6,587.7L147.3,587.3M169.1,589.7L161.5,588.3M164.9,600.3L162.0,600.6M160.0,600.3L158.9,599.4M127.4,540.5L123.3,542.7M123.4,549.9L122.2,546.1M123.7,550.8L123.4,551.8M119.5,562.1L114.9,557.6M114.3,556.7L114.6,556.0M122.1,552.6L114.8,555.9M119.2,533.0L117.5,540.1M121.2,543.6L117.2,541.8M22.6,446.5L23.5,441.1M22.6,446.8L22.3,447.1M20.7,447.0L14.7,446.1M23.8,438.7L23.1,438.4M21.1,438.3L16.9,438.7M14.5,444.6L15.2,439.8M28.9,439.5L32.5,447.5M27.9,438.0L25.1,438.6M32.2,447.9L22.7,446.8M22.2,454.0L22.2,447.2M34.1,449.1L33.3,448.5M12.9,447.3L14.2,446.1M12.7,436.1L14.7,438.2M62.2,472.5L70.9,465.9M58.9,469.1L58.8,466.2M59.0,466.0L62.5,461.9M65.1,459.9L69.5,461.2M71.0,465.0L70.7,461.8M52.1,472.4L57.1,470.7M62.9,475.6L61.9,473.0M46.6,461.9L48.8,460.7M51.7,461.2L58.7,466.1M62.4,455.9L63.4,457.9M76.3,457.3L72.6,460.0M61.6,454.2L61.6,453.6M73.7,447.7L71.6,447.2M63.2,452.2L67.9,448.8M76.4,435.6L66.8,437.6M70.2,446.4L64.6,439.1M82.0,468.7L82.4,474.4M81.8,467.1L74.3,468.4M73.1,468.6L74.2,477.6M74.8,478.3L77.1,478.5M89.8,475.1L83.8,475.1M71.6,466.5L72.7,468.0M84.6,489.4L79.4,481.0M72.5,479.1L74.0,478.3M169.0,448.0L167.5,453.9M161.8,446.3L159.5,448.1M159.0,448.7L156.9,457.1M156.6,458.7L156.9,459.0M160.0,439.5L161.6,443.0M153.4,445.0L157.3,447.5M148.2,457.9L156.1,458.6M160.7,466.3L158.2,461.4M214.8,615.2L211.9,616.2M211.1,617.6L211.0,621.5M206.2,613.7L210.7,616.3M217.3,612.8L216.4,614.2M222.7,624.4L220.6,623.3M209.4,626.2L210.4,624.8M206.8,578.0L211.1,571.2M210.9,570.7L210.1,569.5M211.4,571.1L219.1,572.2M220.3,571.1L219.5,571.9M44.2,655.6L46.3,654.0M47.1,653.8L49.5,654.4M158.9,647.5L161.0,651.7M157.8,645.7L153.9,645.7M152.4,645.7L151.1,650.8M160.2,653.8L157.5,656.9M165.6,651.6L162.0,652.3M180.1,633.1L177.9,630.6M187.0,623.1L183.3,622.1M179.7,623.6L177.8,628.2M167.6,616.4L169.9,622.2M166.8,614.2L171.7,611.4M175.7,613.3L179.1,618.2M170.6,622.3L176.2,620.6M179.1,618.4L179.3,619.7M172.0,605.1L172.3,610.9M159.9,607.4L160.2,604.0M164.0,614.1L166.2,614.3M184.4,606.3L176.4,611.4M180.3,621.0L179.5,620.0M174.3,629.7L170.2,629.8M167.8,628.4L169.5,623.9M38.3,564.9L38.8,565.0M43.7,553.0L43.0,557.1M39.9,563.7L41.8,560.3M51.9,553.9L56.3,561.5M45.4,560.8L51.2,565.0M56.0,563.0L53.5,564.8M42.8,604.0L34.6,599.3M43.9,603.7L45.7,602.5M45.5,599.0L43.1,593.3M33.5,596.6L33.8,598.1M33.6,596.2L35.2,592.3M40.7,589.1L41.3,589.1M42.8,609.0L43.0,605.8M40.9,609.8L34.6,612.6M31.9,611.1L33.3,612.0M32.6,600.8L33.7,599.3M25.2,594.8L32.0,596.1M29.5,585.5L34.7,591.5M32.1,577.1L36.0,576.9M36.7,577.8L40.6,588.8M54.8,541.6L55.4,542.8M64.4,539.9L61.2,543.1M59.4,543.3L56.6,543.2M93.1,542.8L94.6,546.8M84.5,551.0L82.9,545.1M85.0,552.2L85.6,553.4M87.8,553.1L94.7,549.1M114.3,598.7L113.9,599.3M128.0,602.9L125.8,609.7M125.3,611.1L125.2,611.2M124.4,611.1L122.2,610.7M114.5,600.4L121.2,610.4M146.3,603.1L137.2,601.3M147.0,604.1L147.1,610.5M147.0,613.2L146.7,613.7M144.5,613.3L141.1,612.7M138.2,612.1L137.7,611.6M148.1,601.7L147.2,603.0M135.1,600.7L135.3,600.9M156.4,610.9L147.5,613.0M128.7,611.1L136.6,611.4M162.8,614.5L158.3,622.8M156.1,623.3L150.4,622.4M147.6,621.1L146.8,614.6M137.4,626.0L134.5,622.6M139.7,626.4L146.4,623.0M133.7,618.9L136.8,614.4M147.4,622.5L147.6,622.1M131.1,620.0L128.2,619.3M125.5,613.2L126.1,617.0M113.7,544.5L113.0,547.0M113.0,541.8L109.5,540.3M111.8,549.4L102.3,550.7M107.0,539.6L103.7,546.9M114.6,555.9L113.0,551.2M107.0,538.8L107.2,539.1M40.4,442.3L42.6,439.9M44.3,448.6L47.7,448.7M43.6,439.3L53.2,440.3M51.1,448.3L54.2,446.1M54.5,445.4L54.9,443.1M54.1,440.7L54.7,441.2M35.3,449.1L38.2,447.6M34.4,436.7L39.3,442.5M43.7,457.9L43.0,452.7M49.9,457.9L50.2,451.8M62.5,438.1L55.8,441.4M212.2,562.4L217.9,557.5M206.5,557.0L208.8,553.9M218.1,556.8L218.1,557.3M217.2,556.1L213.2,553.1M211.1,551.9L210.0,552.4M210.2,567.8L210.7,564.6M220.8,564.9L218.8,559.3M204.0,558.0L205.8,557.4M201.9,548.8L209.0,552.1M223.0,554.2L219.9,555.9M45.9,614.2L45.6,621.1M45.0,611.9L43.4,609.8M34.5,613.5L35.5,621.2M43.5,623.3L36.1,622.4M138.2,627.2L136.7,630.8M147.4,639.3L140.2,636.8M148.6,639.7L150.7,637.0M136.8,632.7L138.9,635.5M167.3,629.8L167.1,629.9M158.1,623.9L158.9,624.8M105.1,657.8L101.2,656.3M95.6,651.4L99.8,655.4M100.0,655.8L100.0,655.6M95.1,650.8L96.1,642.0M100.7,654.5L104.2,648.7M103.4,643.9L96.8,640.6M86.7,646.7L92.0,642.0M96.3,640.4L95.5,639.2M39.1,565.1L42.0,569.9M51.2,567.1L48.0,571.4M37.5,576.2L39.3,575.0M42.1,588.9L44.4,588.1M99.5,562.0L108.7,563.7M109.0,557.7L101.4,552.9M100.4,552.3L100.2,552.4M109.8,568.2L109.4,565.5M113.9,557.1L111.1,558.8M101.6,551.1L100.9,551.8M108.2,608.6L110.0,603.1M95.8,607.6L95.9,602.8M113.1,599.8L110.8,601.1M119.1,611.5L112.1,614.9M110.5,615.1L111.3,615.1M96.5,620.4L93.4,614.4M97.8,622.9L98.2,623.1M108.2,618.6L104.8,622.8M108.6,617.9L110.0,615.2M99.3,623.1L102.5,623.0M113.6,590.5L102.4,592.7M102.2,593.1L102.4,596.8M95.2,623.7L85.8,627.0M92.5,612.5L91.8,612.5M90.2,614.0L83.6,620.6M45.2,629.5L47.6,634.0M47.1,636.5L45.1,639.5M42.2,641.6L38.3,641.9M36.0,641.5L33.2,636.7M32.8,635.8L32.9,635.7M44.5,623.5L45.0,627.8M32.0,625.1L32.8,634.9M45.8,622.4L52.1,622.1M57.6,627.9L51.2,632.6M26.5,636.6L31.8,636.0M48.0,646.2L51.5,645.8M48.2,635.1L52.6,637.0M64.7,630.0L64.7,630.2M63.6,629.6L58.1,628.1M63.6,632.7L61.1,638.1M56.2,638.1L60.2,638.3M55.0,655.0L60.6,657.2M54.0,652.9L55.4,649.7M57.0,647.1L61.5,645.7M62.0,647.8L62.6,652.1M61.0,657.0L62.4,655.5M51.0,654.8L53.1,654.5M52.4,645.8L55.3,646.9M62.2,642.3L61.5,639.9M69.5,655.3L64.5,655.0M76.8,647.0L76.4,646.9M77.0,647.0L78.7,646.3M79.7,644.7L85.1,635.7M74.4,643.3L73.9,638.7M73.8,638.2L76.8,634.9M85.6,633.8L84.8,632.7M71.7,654.3L76.2,647.2M84.1,647.3L80.9,646.7M95.4,639.0L95.2,638.5M94.3,638.0L88.6,635.5M65.3,630.7L70.6,635.4M84.4,628.3L84.7,632.1M95.3,638.3L95.7,637.7M109.3,619.5L115.8,624.6M114.6,617.3L118.8,620.5M125.8,619.5L124.1,621.6M121.6,622.4L122.9,622.6M146.5,642.5L138.7,652.0M139.5,637.5L136.4,645.6M136.2,648.9L138.0,651.1M139.8,653.8L139.3,653.7M139.1,653.4L138.8,652.2M166.9,639.7L162.9,640.9M166.5,632.6L156.7,634.5M161.2,640.1L154.4,636.8M168.4,640.8L167.4,639.7M159.3,644.4L162.7,641.1M167.1,630.3L166.9,631.8M158.8,626.0L155.1,633.4M151.3,636.6L152.3,636.4M57.3,562.5L58.4,562.8M47.4,572.3L48.2,573.2M49.9,573.9L61.0,576.4M60.2,565.2L63.0,570.4M47.2,612.8L51.5,611.7M48.9,601.3L47.0,601.7M50.4,601.5L52.5,602.5M53.4,603.8L53.6,608.4M52.4,621.8L57.9,616.4M54.5,611.7L57.3,613.7M65.1,615.1L72.0,610.8M68.7,624.2L69.9,624.0M70.9,623.7L75.0,622.4M77.1,620.7L77.4,615.3M76.6,611.2L74.3,609.4M65.8,628.2L68.1,624.9M62.5,615.1L63.4,615.8M75.3,631.6L71.6,626.2M80.5,623.1L77.9,622.2M91.1,612.2L87.1,610.0M83.6,609.2L79.2,611.3M133.7,632.7L127.9,634.3M133.7,647.5L125.5,644.6M123.9,644.1L123.5,643.7M124.2,641.8L126.7,634.8M123.4,623.4L124.6,629.6M126.7,634.5L125.6,633.0M49.6,600.6L51.1,593.8M46.1,587.6L46.2,587.5M48.5,573.6L49.3,579.5M49.3,581.4L47.4,585.3M62.5,612.7L63.9,602.9M73.8,607.8L73.0,605.7M71.7,603.9L66.0,602.4M55.9,602.3L61.6,601.0M63.4,600.9L63.9,601.5M84.1,551.6L74.2,551.5M72.4,551.2L71.8,550.3M70.4,550.4L68.0,551.2M66.9,551.9L67.3,551.5M113.5,645.3L112.1,644.7M114.3,645.2L115.1,644.9M115.2,640.8L114.8,635.0M110.5,641.5L108.5,636.5M107.5,632.4L108.6,629.8M112.9,655.8L113.7,647.8M107.8,645.1L110.8,644.7M122.3,643.9L115.8,644.7M98.7,636.3L104.8,634.1M105.0,623.3L107.5,627.5M116.5,625.3L114.0,628.7M126.6,652.4L133.8,657.2M124.5,651.6L124.1,654.7M138.8,653.9L135.4,656.9M124.1,646.2L124.5,650.2M61.7,579.5L65.9,587.6M61.0,578.7L58.3,582.3M58.0,583.9L58.0,588.1M59.5,591.3L62.8,593.5M63.9,593.8L66.4,592.0M61.9,576.8L61.4,578.0M65.4,574.3L66.5,574.4M67.0,576.1L69.6,584.3M70.3,589.9L67.7,591.1M51.1,581.3L55.9,582.4M53.5,591.0L56.2,590.6M63.2,600.5L63.5,596.2M110.8,583.9L110.6,583.9M107.4,570.4L101.4,572.8M100.9,575.1L108.5,582.0M76.4,600.0L74.1,592.9M77.1,600.8L82.5,600.8M83.7,600.0L86.0,597.1M85.7,595.7L84.5,592.5M82.3,591.2L75.6,588.9M74.9,588.8L73.4,589.4M73.4,603.4L75.9,601.4M71.4,589.5L72.7,589.6M95.1,600.6L95.6,601.0M93.8,599.8L90.6,598.2M88.4,597.3L86.9,597.0M65.1,560.2L72.1,563.3M73.2,563.1L76.2,561.3M66.8,574.3L68.7,573.7M71.9,565.9L70.2,572.1M94.9,599.6L96.1,593.0M89.2,597.4L93.3,591.5M95.5,589.4L96.1,589.9M97.3,590.5L101.4,591.8M109.6,584.2L104.0,586.1M102.1,590.9L103.4,587.3M96.7,561.5L96.6,561.5M86.3,559.7L93.0,560.9M78.1,560.2L81.5,561.1M84.8,559.5L83.1,560.7M75.6,587.2L77.6,582.4M77.8,581.9L76.3,577.0M82.5,561.8L83.3,568.2M75.7,574.9L82.5,571.0M86.9,572.1L94.9,571.7M98.7,574.6L97.1,580.0M98.4,573.2L96.9,571.7M96.6,581.6L93.9,583.9M78.9,582.0L84.3,581.9M83.7,570.4L85.5,571.6M96.6,563.4L96.7,568.3M102.8,585.6L98.2,582.5M84.9,590.9L87.8,586.4" stroke="#131e36" stroke-width="1.2" fill="none" stroke-linecap="round"/></g><circle cx="175" cy="500" r="21" fill="#fff"/><circle cx="174" cy="595" r="21" fill="#fff"/><path d="M221,545 L164,545 A3,3 0 0 0 164,551 L221,551 Z" fill="#fff"/><clipPath id="cmc"><rect x="278" y="437.5" width="184.5" height="217.5"/></clipPath><g clip-path="url(#cmc)"><path d="M395.0,441.4h4.5v3.9h-4.5zM296.0,445.3h4.5v3.9h-4.5zM332.0,445.3h4.5v3.9h-4.5zM359.0,480.4h4.5v3.9h-4.5zM449.0,488.2h4.5v3.9h-4.5zM372.5,492.1h4.5v3.9h-4.5zM296.0,496.0h4.5v3.9h-4.5zM363.5,496.0h4.5v3.9h-4.5zM431.0,496.0h4.5v3.9h-4.5zM417.5,503.8h4.5v3.9h-4.5zM381.5,511.6h4.5v3.9h-4.5zM453.5,523.3h4.5v3.9h-4.5zM323.0,538.9h4.5v3.9h-4.5zM323.0,542.8h4.5v3.9h-4.5zM368.0,546.7h4.5v3.9h-4.5zM390.5,562.3h4.5v3.9h-4.5zM296.0,570.1h4.5v3.9h-4.5zM368.0,585.7h4.5v3.9h-4.5zM386.0,616.9h4.5v3.9h-4.5zM390.5,624.7h4.5v3.9h-4.5zM390.5,648.1h4.5v3.9h-4.5z" fill="rgb(120,120,120)" shape-rendering="crispEdges"/><path d="M390.5,437.5h4.5v3.9h-4.5zM431.0,437.5h4.5v3.9h-4.5zM363.5,441.4h4.5v3.9h-4.5zM377.0,441.4h4.5v3.9h-4.5zM278.0,445.3h4.5v3.9h-4.5zM345.5,445.3h4.5v3.9h-4.5zM431.0,445.3h4.5v3.9h-4.5zM278.0,449.2h4.5v3.9h-4.5zM296.0,449.2h4.5v3.9h-4.5zM354.5,449.2h4.5v3.9h-4.5zM363.5,449.2h4.5v3.9h-4.5zM354.5,453.1h4.5v3.9h-4.5zM404.0,453.1h4.5v3.9h-4.5zM368.0,457.0h4.5v3.9h-4.5zM426.5,464.8h4.5v3.9h-4.5zM381.5,484.3h4.5v3.9h-4.5zM440.0,484.3h4.5v3.9h-4.5zM354.5,488.2h4.5v3.9h-4.5zM296.0,492.1h4.5v3.9h-4.5zM305.0,492.1h4.5v3.9h-4.5zM309.5,496.0h4.5v3.9h-4.5zM372.5,503.8h4.5v3.9h-4.5zM282.5,511.6h4.5v3.9h-4.5zM309.5,515.5h4.5v3.9h-4.5zM458.0,519.4h4.5v3.9h-4.5zM327.5,527.2h4.5v3.9h-4.5zM426.5,527.2h4.5v3.9h-4.5zM305.0,531.1h4.5v3.9h-4.5zM305.0,535.0h4.5v3.9h-4.5zM390.5,535.0h4.5v3.9h-4.5zM422.0,535.0h4.5v3.9h-4.5zM431.0,535.0h4.5v3.9h-4.5zM453.5,538.9h4.5v3.9h-4.5zM282.5,550.6h4.5v3.9h-4.5zM359.0,550.6h4.5v3.9h-4.5zM435.5,550.6h4.5v3.9h-4.5zM323.0,558.4h4.5v3.9h-4.5zM413.0,558.4h4.5v3.9h-4.5zM359.0,562.3h4.5v3.9h-4.5zM390.5,566.2h4.5v3.9h-4.5zM444.5,566.2h4.5v3.9h-4.5zM314.0,570.1h4.5v3.9h-4.5zM336.5,570.1h4.5v3.9h-4.5zM372.5,570.1h4.5v3.9h-4.5zM341.0,574.0h4.5v3.9h-4.5zM359.0,574.0h4.5v3.9h-4.5zM431.0,574.0h4.5v3.9h-4.5zM381.5,585.7h4.5v3.9h-4.5zM453.5,585.7h4.5v3.9h-4.5zM296.0,589.6h4.5v3.9h-4.5zM390.5,589.6h4.5v3.9h-4.5zM305.0,601.3h4.5v3.9h-4.5zM426.5,609.1h4.5v3.9h-4.5zM386.0,613.0h4.5v3.9h-4.5zM300.5,616.9h4.5v3.9h-4.5zM314.0,616.9h4.5v3.9h-4.5zM309.5,628.6h4.5v3.9h-4.5zM390.5,628.6h4.5v3.9h-4.5zM296.0,632.5h4.5v3.9h-4.5zM404.0,632.5h4.5v3.9h-4.5zM318.5,636.4h4.5v3.9h-4.5zM327.5,636.4h4.5v3.9h-4.5zM390.5,636.4h4.5v3.9h-4.5zM381.5,640.3h4.5v3.9h-4.5zM426.5,648.1h4.5v3.9h-4.5z" fill="rgb(134,134,134)" shape-rendering="crispEdges"/><path d="M395.0,437.5h4.5v3.9h-4.5zM440.0,437.5h4.5v3.9h-4.5zM426.5,441.4h4.5v3.9h-4.5zM323.0,445.3h4.5v3.9h-4.5zM363.5,445.3h9.0v3.9h-9.0zM390.5,445.3h4.5v3.9h-4.5zM435.5,445.3h4.5v3.9h-4.5zM372.5,449.2h4.5v3.9h-4.5zM390.5,449.2h4.5v3.9h-4.5zM422.0,449.2h4.5v3.9h-4.5zM323.0,453.1h4.5v3.9h-4.5zM372.5,453.1h4.5v3.9h-4.5zM381.5,453.1h4.5v3.9h-4.5zM395.0,453.1h4.5v3.9h-4.5zM458.0,453.1h4.5v3.9h-4.5zM291.5,457.0h4.5v3.9h-4.5zM341.0,457.0h9.0v3.9h-9.0zM372.5,457.0h4.5v3.9h-4.5zM386.0,457.0h4.5v3.9h-4.5zM417.5,457.0h4.5v3.9h-4.5zM314.0,464.8h4.5v3.9h-4.5zM417.5,464.8h4.5v3.9h-4.5zM287.0,468.7h4.5v3.9h-4.5zM336.5,468.7h4.5v3.9h-4.5zM399.5,468.7h4.5v3.9h-4.5zM408.5,468.7h4.5v3.9h-4.5zM440.0,468.7h4.5v3.9h-4.5zM282.5,472.6h4.5v3.9h-4.5zM422.0,476.5h4.5v3.9h-4.5zM350.0,480.4h4.5v3.9h-4.5zM368.0,480.4h4.5v3.9h-4.5zM381.5,480.4h4.5v3.9h-4.5zM435.5,480.4h9.0v3.9h-9.0zM449.0,480.4h4.5v3.9h-4.5zM278.0,484.3h4.5v3.9h-4.5zM345.5,484.3h4.5v3.9h-4.5zM408.5,484.3h4.5v3.9h-4.5zM314.0,488.2h4.5v3.9h-4.5zM359.0,488.2h4.5v3.9h-4.5zM426.5,488.2h9.0v3.9h-9.0zM372.5,496.0h13.5v3.9h-13.5zM390.5,503.8h4.5v3.9h-4.5zM458.0,503.8h4.5v3.9h-4.5zM282.5,507.7h4.5v3.9h-4.5zM341.0,507.7h4.5v3.9h-4.5zM372.5,507.7h4.5v3.9h-4.5zM296.0,511.6h4.5v3.9h-4.5zM359.0,511.6h4.5v3.9h-4.5zM404.0,511.6h4.5v3.9h-4.5zM458.0,511.6h4.5v3.9h-4.5zM323.0,515.5h4.5v3.9h-4.5zM332.0,519.4h4.5v3.9h-4.5zM417.5,523.3h4.5v3.9h-4.5zM449.0,523.3h4.5v3.9h-4.5zM345.5,527.2h4.5v3.9h-4.5zM390.5,527.2h4.5v3.9h-4.5zM278.0,531.1h4.5v3.9h-4.5zM296.0,531.1h4.5v3.9h-4.5zM309.5,531.1h4.5v3.9h-4.5zM390.5,531.1h4.5v3.9h-4.5zM440.0,531.1h13.5v3.9h-13.5zM318.5,535.0h4.5v3.9h-4.5zM309.5,538.9h4.5v3.9h-4.5zM426.5,538.9h4.5v3.9h-4.5zM300.5,546.7h4.5v3.9h-4.5zM363.5,546.7h4.5v3.9h-4.5zM399.5,546.7h4.5v3.9h-4.5zM426.5,546.7h4.5v3.9h-4.5zM327.5,550.6h9.0v3.9h-9.0zM363.5,550.6h4.5v3.9h-4.5zM377.0,550.6h4.5v3.9h-4.5zM449.0,550.6h4.5v3.9h-4.5zM377.0,554.5h4.5v3.9h-4.5zM296.0,558.4h4.5v3.9h-4.5zM345.5,558.4h9.0v3.9h-9.0zM368.0,558.4h4.5v3.9h-4.5zM287.0,562.3h4.5v3.9h-4.5zM345.5,562.3h4.5v3.9h-4.5zM368.0,562.3h4.5v3.9h-4.5zM386.0,562.3h4.5v3.9h-4.5zM404.0,562.3h4.5v3.9h-4.5zM431.0,562.3h4.5v3.9h-4.5zM449.0,562.3h4.5v3.9h-4.5zM318.5,566.2h4.5v3.9h-4.5zM341.0,566.2h9.0v3.9h-9.0zM354.5,566.2h4.5v3.9h-4.5zM368.0,566.2h4.5v3.9h-4.5zM377.0,566.2h4.5v3.9h-4.5zM309.5,570.1h4.5v3.9h-4.5zM323.0,570.1h4.5v3.9h-4.5zM354.5,570.1h4.5v3.9h-4.5zM363.5,570.1h4.5v3.9h-4.5zM426.5,570.1h4.5v3.9h-4.5zM296.0,574.0h4.5v3.9h-4.5zM386.0,574.0h4.5v3.9h-4.5zM381.5,577.9h4.5v3.9h-4.5zM390.5,577.9h4.5v3.9h-4.5zM453.5,577.9h4.5v3.9h-4.5zM381.5,581.8h4.5v3.9h-4.5zM431.0,581.8h4.5v3.9h-4.5zM300.5,585.7h4.5v3.9h-4.5zM354.5,585.7h4.5v3.9h-4.5zM386.0,585.7h4.5v3.9h-4.5zM399.5,585.7h4.5v3.9h-4.5zM363.5,589.6h4.5v3.9h-4.5zM309.5,593.5h4.5v3.9h-4.5zM372.5,593.5h9.0v3.9h-9.0zM413.0,593.5h4.5v3.9h-4.5zM282.5,597.4h4.5v3.9h-4.5zM305.0,597.4h4.5v3.9h-4.5zM363.5,597.4h9.0v3.9h-9.0zM390.5,597.4h4.5v3.9h-4.5zM399.5,597.4h4.5v3.9h-4.5zM431.0,597.4h4.5v3.9h-4.5zM327.5,601.3h4.5v3.9h-4.5zM354.5,601.3h4.5v3.9h-4.5zM426.5,601.3h4.5v3.9h-4.5zM278.0,609.1h4.5v3.9h-4.5zM300.5,609.1h4.5v3.9h-4.5zM323.0,609.1h4.5v3.9h-4.5zM309.5,613.0h4.5v3.9h-4.5zM354.5,613.0h4.5v3.9h-4.5zM381.5,613.0h4.5v3.9h-4.5zM318.5,620.8h9.0v3.9h-9.0zM386.0,620.8h4.5v3.9h-4.5zM399.5,620.8h4.5v3.9h-4.5zM354.5,624.7h4.5v3.9h-4.5zM305.0,628.6h4.5v3.9h-4.5zM314.0,628.6h4.5v3.9h-4.5zM381.5,628.6h4.5v3.9h-4.5zM413.0,628.6h4.5v3.9h-4.5zM440.0,628.6h4.5v3.9h-4.5zM350.0,632.5h4.5v3.9h-4.5zM372.5,632.5h4.5v3.9h-4.5zM404.0,636.4h4.5v3.9h-4.5zM278.0,640.3h4.5v3.9h-4.5zM341.0,644.2h4.5v3.9h-4.5zM314.0,652.0h4.5v3.9h-4.5zM372.5,652.0h4.5v3.9h-4.5z" fill="rgb(149,149,149)" shape-rendering="crispEdges"/><path d="M300.5,437.5h4.5v3.9h-4.5zM327.5,437.5h4.5v3.9h-4.5zM341.0,437.5h4.5v3.9h-4.5zM359.0,437.5h4.5v3.9h-4.5zM377.0,437.5h9.0v3.9h-9.0zM381.5,441.4h4.5v3.9h-4.5zM399.5,441.4h4.5v3.9h-4.5zM408.5,441.4h4.5v3.9h-4.5zM435.5,441.4h4.5v3.9h-4.5zM336.5,445.3h9.0v3.9h-9.0zM449.0,445.3h4.5v3.9h-4.5zM318.5,449.2h4.5v3.9h-4.5zM386.0,449.2h4.5v3.9h-4.5zM417.5,449.2h4.5v3.9h-4.5zM426.5,449.2h4.5v3.9h-4.5zM278.0,453.1h9.0v3.9h-9.0zM363.5,453.1h4.5v3.9h-4.5zM431.0,453.1h4.5v3.9h-4.5zM278.0,457.0h4.5v3.9h-4.5zM314.0,457.0h4.5v3.9h-4.5zM350.0,457.0h4.5v3.9h-4.5zM359.0,457.0h4.5v3.9h-4.5zM377.0,457.0h4.5v3.9h-4.5zM395.0,457.0h9.0v3.9h-9.0zM287.0,460.9h4.5v3.9h-4.5zM309.5,460.9h4.5v3.9h-4.5zM323.0,460.9h4.5v3.9h-4.5zM336.5,460.9h4.5v3.9h-4.5zM363.5,460.9h4.5v3.9h-4.5zM381.5,460.9h4.5v3.9h-4.5zM395.0,460.9h4.5v3.9h-4.5zM422.0,464.8h4.5v3.9h-4.5zM300.5,468.7h4.5v3.9h-4.5zM323.0,468.7h9.0v3.9h-9.0zM341.0,468.7h4.5v3.9h-4.5zM354.5,468.7h9.0v3.9h-9.0zM372.5,468.7h4.5v3.9h-4.5zM386.0,468.7h13.5v3.9h-13.5zM417.5,468.7h4.5v3.9h-4.5zM458.0,468.7h4.5v3.9h-4.5zM354.5,472.6h4.5v3.9h-4.5zM386.0,472.6h4.5v3.9h-4.5zM422.0,472.6h4.5v3.9h-4.5zM444.5,472.6h4.5v3.9h-4.5zM458.0,472.6h4.5v3.9h-4.5zM291.5,476.5h4.5v3.9h-4.5zM381.5,476.5h9.0v3.9h-9.0zM449.0,476.5h4.5v3.9h-4.5zM296.0,480.4h9.0v3.9h-9.0zM336.5,480.4h4.5v3.9h-4.5zM354.5,480.4h4.5v3.9h-4.5zM390.5,480.4h9.0v3.9h-9.0zM422.0,480.4h9.0v3.9h-9.0zM354.5,484.3h4.5v3.9h-4.5zM372.5,484.3h4.5v3.9h-4.5zM318.5,488.2h4.5v3.9h-4.5zM399.5,488.2h4.5v3.9h-4.5zM408.5,488.2h4.5v3.9h-4.5zM323.0,492.1h4.5v3.9h-4.5zM390.5,492.1h4.5v3.9h-4.5zM422.0,492.1h9.0v3.9h-9.0zM435.5,492.1h4.5v3.9h-4.5zM278.0,496.0h4.5v3.9h-4.5zM332.0,496.0h9.0v3.9h-9.0zM395.0,496.0h4.5v3.9h-4.5zM426.5,496.0h4.5v3.9h-4.5zM453.5,496.0h4.5v3.9h-4.5zM305.0,499.9h4.5v3.9h-4.5zM350.0,499.9h4.5v3.9h-4.5zM381.5,499.9h4.5v3.9h-4.5zM390.5,499.9h4.5v3.9h-4.5zM413.0,499.9h4.5v3.9h-4.5zM408.5,503.8h4.5v3.9h-4.5zM426.5,503.8h4.5v3.9h-4.5zM296.0,507.7h4.5v3.9h-4.5zM305.0,507.7h4.5v3.9h-4.5zM336.5,507.7h4.5v3.9h-4.5zM363.5,507.7h4.5v3.9h-4.5zM408.5,507.7h9.0v3.9h-9.0zM431.0,507.7h4.5v3.9h-4.5zM323.0,511.6h4.5v3.9h-4.5zM350.0,511.6h4.5v3.9h-4.5zM377.0,511.6h4.5v3.9h-4.5zM413.0,511.6h13.5v3.9h-13.5zM435.5,511.6h4.5v3.9h-4.5zM444.5,511.6h4.5v3.9h-4.5zM300.5,515.5h4.5v3.9h-4.5zM341.0,515.5h9.0v3.9h-9.0zM390.5,515.5h4.5v3.9h-4.5zM417.5,515.5h4.5v3.9h-4.5zM431.0,515.5h4.5v3.9h-4.5zM296.0,519.4h4.5v3.9h-4.5zM309.5,523.3h4.5v3.9h-4.5zM323.0,523.3h4.5v3.9h-4.5zM332.0,523.3h4.5v3.9h-4.5zM341.0,523.3h4.5v3.9h-4.5zM350.0,523.3h4.5v3.9h-4.5zM359.0,523.3h4.5v3.9h-4.5zM395.0,523.3h4.5v3.9h-4.5zM435.5,523.3h4.5v3.9h-4.5zM278.0,527.2h9.0v3.9h-9.0zM296.0,527.2h4.5v3.9h-4.5zM359.0,527.2h9.0v3.9h-9.0zM372.5,527.2h4.5v3.9h-4.5zM381.5,527.2h4.5v3.9h-4.5zM300.5,531.1h4.5v3.9h-4.5zM350.0,531.1h9.0v3.9h-9.0zM372.5,531.1h4.5v3.9h-4.5zM381.5,531.1h4.5v3.9h-4.5zM399.5,531.1h4.5v3.9h-4.5zM413.0,531.1h9.0v3.9h-9.0zM453.5,531.1h4.5v3.9h-4.5zM287.0,535.0h4.5v3.9h-4.5zM300.5,535.0h4.5v3.9h-4.5zM309.5,535.0h4.5v3.9h-4.5zM377.0,535.0h9.0v3.9h-9.0zM426.5,535.0h4.5v3.9h-4.5zM449.0,535.0h4.5v3.9h-4.5zM458.0,535.0h4.5v3.9h-4.5zM287.0,538.9h4.5v3.9h-4.5zM296.0,538.9h4.5v3.9h-4.5zM318.5,538.9h4.5v3.9h-4.5zM327.5,538.9h4.5v3.9h-4.5zM336.5,538.9h9.0v3.9h-9.0zM381.5,538.9h4.5v3.9h-4.5zM408.5,538.9h9.0v3.9h-9.0zM435.5,538.9h4.5v3.9h-4.5zM354.5,542.8h4.5v3.9h-4.5zM381.5,542.8h4.5v3.9h-4.5zM314.0,546.7h4.5v3.9h-4.5zM341.0,546.7h4.5v3.9h-4.5zM354.5,546.7h4.5v3.9h-4.5zM395.0,546.7h4.5v3.9h-4.5zM431.0,546.7h4.5v3.9h-4.5zM444.5,546.7h9.0v3.9h-9.0zM458.0,546.7h4.5v3.9h-4.5zM354.5,550.6h4.5v3.9h-4.5zM372.5,550.6h4.5v3.9h-4.5zM404.0,550.6h4.5v3.9h-4.5zM413.0,550.6h9.0v3.9h-9.0zM444.5,550.6h4.5v3.9h-4.5zM458.0,550.6h4.5v3.9h-4.5zM309.5,554.5h4.5v3.9h-4.5zM318.5,554.5h4.5v3.9h-4.5zM354.5,554.5h4.5v3.9h-4.5zM368.0,554.5h4.5v3.9h-4.5zM431.0,554.5h4.5v3.9h-4.5zM300.5,558.4h4.5v3.9h-4.5zM363.5,558.4h4.5v3.9h-4.5zM377.0,558.4h4.5v3.9h-4.5zM404.0,558.4h4.5v3.9h-4.5zM440.0,558.4h4.5v3.9h-4.5zM300.5,562.3h4.5v3.9h-4.5zM314.0,562.3h4.5v3.9h-4.5zM395.0,562.3h4.5v3.9h-4.5zM417.5,562.3h4.5v3.9h-4.5zM458.0,562.3h4.5v3.9h-4.5zM323.0,566.2h4.5v3.9h-4.5zM363.5,566.2h4.5v3.9h-4.5zM386.0,566.2h4.5v3.9h-4.5zM282.5,570.1h4.5v3.9h-4.5zM341.0,570.1h4.5v3.9h-4.5zM390.5,570.1h9.0v3.9h-9.0zM422.0,570.1h4.5v3.9h-4.5zM449.0,570.1h9.0v3.9h-9.0zM282.5,574.0h4.5v3.9h-4.5zM323.0,574.0h4.5v3.9h-4.5zM345.5,574.0h4.5v3.9h-4.5zM390.5,574.0h4.5v3.9h-4.5zM278.0,577.9h4.5v3.9h-4.5zM287.0,577.9h4.5v3.9h-4.5zM309.5,577.9h4.5v3.9h-4.5zM323.0,577.9h4.5v3.9h-4.5zM345.5,577.9h4.5v3.9h-4.5zM363.5,577.9h4.5v3.9h-4.5zM372.5,577.9h4.5v3.9h-4.5zM395.0,577.9h4.5v3.9h-4.5zM426.5,577.9h9.0v3.9h-9.0zM318.5,581.8h4.5v3.9h-4.5zM395.0,581.8h4.5v3.9h-4.5zM422.0,581.8h4.5v3.9h-4.5zM440.0,581.8h9.0v3.9h-9.0zM453.5,581.8h4.5v3.9h-4.5zM287.0,585.7h4.5v3.9h-4.5zM296.0,585.7h4.5v3.9h-4.5zM318.5,585.7h4.5v3.9h-4.5zM413.0,585.7h9.0v3.9h-9.0zM449.0,585.7h4.5v3.9h-4.5zM309.5,589.6h4.5v3.9h-4.5zM336.5,589.6h4.5v3.9h-4.5zM314.0,593.5h4.5v3.9h-4.5zM327.5,593.5h4.5v3.9h-4.5zM341.0,593.5h4.5v3.9h-4.5zM354.5,593.5h4.5v3.9h-4.5zM368.0,593.5h4.5v3.9h-4.5zM386.0,593.5h13.5v3.9h-13.5zM417.5,593.5h4.5v3.9h-4.5zM309.5,597.4h4.5v3.9h-4.5zM422.0,597.4h9.0v3.9h-9.0zM440.0,597.4h4.5v3.9h-4.5zM449.0,597.4h4.5v3.9h-4.5zM381.5,601.3h4.5v3.9h-4.5zM390.5,601.3h4.5v3.9h-4.5zM404.0,601.3h4.5v3.9h-4.5zM422.0,601.3h4.5v3.9h-4.5zM444.5,601.3h4.5v3.9h-4.5zM359.0,605.2h9.0v3.9h-9.0zM413.0,605.2h4.5v3.9h-4.5zM282.5,609.1h4.5v3.9h-4.5zM354.5,609.1h13.5v3.9h-13.5zM377.0,609.1h4.5v3.9h-4.5zM435.5,609.1h4.5v3.9h-4.5zM449.0,609.1h4.5v3.9h-4.5zM282.5,613.0h4.5v3.9h-4.5zM336.5,613.0h4.5v3.9h-4.5zM359.0,613.0h4.5v3.9h-4.5zM404.0,613.0h4.5v3.9h-4.5zM426.5,613.0h9.0v3.9h-9.0zM440.0,613.0h4.5v3.9h-4.5zM453.5,613.0h4.5v3.9h-4.5zM305.0,616.9h4.5v3.9h-4.5zM327.5,616.9h4.5v3.9h-4.5zM381.5,616.9h4.5v3.9h-4.5zM435.5,616.9h4.5v3.9h-4.5zM278.0,620.8h4.5v3.9h-4.5zM327.5,620.8h4.5v3.9h-4.5zM354.5,620.8h4.5v3.9h-4.5zM368.0,620.8h9.0v3.9h-9.0zM395.0,620.8h4.5v3.9h-4.5zM426.5,620.8h4.5v3.9h-4.5zM449.0,620.8h4.5v3.9h-4.5zM305.0,624.7h4.5v3.9h-4.5zM404.0,624.7h4.5v3.9h-4.5zM318.5,628.6h4.5v3.9h-4.5zM341.0,628.6h4.5v3.9h-4.5zM372.5,628.6h4.5v3.9h-4.5zM449.0,628.6h4.5v3.9h-4.5zM278.0,632.5h4.5v3.9h-4.5zM377.0,632.5h4.5v3.9h-4.5zM395.0,632.5h4.5v3.9h-4.5zM435.5,632.5h4.5v3.9h-4.5zM296.0,636.4h4.5v3.9h-4.5zM309.5,636.4h4.5v3.9h-4.5zM345.5,636.4h4.5v3.9h-4.5zM368.0,636.4h13.5v3.9h-13.5zM386.0,636.4h4.5v3.9h-4.5zM399.5,636.4h4.5v3.9h-4.5zM422.0,636.4h4.5v3.9h-4.5zM440.0,636.4h4.5v3.9h-4.5zM453.5,636.4h4.5v3.9h-4.5zM341.0,640.3h4.5v3.9h-4.5zM323.0,644.2h4.5v3.9h-4.5zM359.0,644.2h4.5v3.9h-4.5zM381.5,644.2h4.5v3.9h-4.5zM395.0,644.2h4.5v3.9h-4.5zM426.5,644.2h13.5v3.9h-13.5zM278.0,648.1h4.5v3.9h-4.5zM291.5,648.1h4.5v3.9h-4.5zM323.0,648.1h9.0v3.9h-9.0zM363.5,648.1h9.0v3.9h-9.0zM381.5,648.1h4.5v3.9h-4.5zM408.5,648.1h4.5v3.9h-4.5zM431.0,648.1h4.5v3.9h-4.5zM323.0,652.0h4.5v3.9h-4.5zM368.0,652.0h4.5v3.9h-4.5zM390.5,652.0h4.5v3.9h-4.5z" fill="rgb(163,163,163)" shape-rendering="crispEdges"/><path d="M278.0,437.5h9.0v3.9h-9.0zM305.0,437.5h4.5v3.9h-4.5zM350.0,437.5h4.5v3.9h-4.5zM363.5,437.5h4.5v3.9h-4.5zM372.5,437.5h4.5v3.9h-4.5zM413.0,437.5h4.5v3.9h-4.5zM449.0,437.5h4.5v3.9h-4.5zM278.0,441.4h4.5v3.9h-4.5zM318.5,441.4h4.5v3.9h-4.5zM341.0,441.4h9.0v3.9h-9.0zM372.5,441.4h4.5v3.9h-4.5zM417.5,441.4h4.5v3.9h-4.5zM431.0,441.4h4.5v3.9h-4.5zM282.5,445.3h4.5v3.9h-4.5zM300.5,445.3h9.0v3.9h-9.0zM314.0,445.3h4.5v3.9h-4.5zM354.5,445.3h4.5v3.9h-4.5zM377.0,445.3h4.5v3.9h-4.5zM395.0,445.3h4.5v3.9h-4.5zM408.5,445.3h13.5v3.9h-13.5zM440.0,445.3h4.5v3.9h-4.5zM305.0,449.2h4.5v3.9h-4.5zM350.0,449.2h4.5v3.9h-4.5zM381.5,449.2h4.5v3.9h-4.5zM395.0,449.2h4.5v3.9h-4.5zM435.5,449.2h4.5v3.9h-4.5zM449.0,449.2h4.5v3.9h-4.5zM291.5,453.1h9.0v3.9h-9.0zM309.5,453.1h13.5v3.9h-13.5zM332.0,453.1h4.5v3.9h-4.5zM341.0,453.1h4.5v3.9h-4.5zM350.0,453.1h4.5v3.9h-4.5zM390.5,453.1h4.5v3.9h-4.5zM408.5,453.1h4.5v3.9h-4.5zM417.5,453.1h4.5v3.9h-4.5zM426.5,453.1h4.5v3.9h-4.5zM444.5,453.1h4.5v3.9h-4.5zM453.5,453.1h4.5v3.9h-4.5zM305.0,457.0h4.5v3.9h-4.5zM318.5,457.0h4.5v3.9h-4.5zM327.5,457.0h13.5v3.9h-13.5zM354.5,457.0h4.5v3.9h-4.5zM390.5,457.0h4.5v3.9h-4.5zM431.0,457.0h4.5v3.9h-4.5zM440.0,457.0h9.0v3.9h-9.0zM458.0,457.0h4.5v3.9h-4.5zM354.5,460.9h9.0v3.9h-9.0zM422.0,460.9h4.5v3.9h-4.5zM431.0,460.9h4.5v3.9h-4.5zM440.0,460.9h4.5v3.9h-4.5zM453.5,460.9h4.5v3.9h-4.5zM305.0,464.8h4.5v3.9h-4.5zM323.0,464.8h4.5v3.9h-4.5zM372.5,464.8h18.0v3.9h-18.0zM404.0,464.8h4.5v3.9h-4.5zM431.0,464.8h4.5v3.9h-4.5zM440.0,464.8h4.5v3.9h-4.5zM453.5,464.8h4.5v3.9h-4.5zM291.5,468.7h4.5v3.9h-4.5zM314.0,468.7h9.0v3.9h-9.0zM332.0,468.7h4.5v3.9h-4.5zM345.5,468.7h4.5v3.9h-4.5zM368.0,468.7h4.5v3.9h-4.5zM377.0,468.7h9.0v3.9h-9.0zM404.0,468.7h4.5v3.9h-4.5zM426.5,468.7h4.5v3.9h-4.5zM453.5,468.7h4.5v3.9h-4.5zM300.5,472.6h18.0v3.9h-18.0zM323.0,472.6h4.5v3.9h-4.5zM350.0,472.6h4.5v3.9h-4.5zM363.5,472.6h9.0v3.9h-9.0zM408.5,472.6h4.5v3.9h-4.5zM417.5,472.6h4.5v3.9h-4.5zM431.0,472.6h4.5v3.9h-4.5zM278.0,476.5h4.5v3.9h-4.5zM318.5,476.5h4.5v3.9h-4.5zM350.0,476.5h9.0v3.9h-9.0zM363.5,476.5h9.0v3.9h-9.0zM404.0,476.5h4.5v3.9h-4.5zM431.0,476.5h4.5v3.9h-4.5zM440.0,476.5h4.5v3.9h-4.5zM278.0,480.4h9.0v3.9h-9.0zM291.5,480.4h4.5v3.9h-4.5zM314.0,480.4h4.5v3.9h-4.5zM372.5,480.4h4.5v3.9h-4.5zM408.5,480.4h4.5v3.9h-4.5zM417.5,480.4h4.5v3.9h-4.5zM453.5,480.4h9.0v3.9h-9.0zM282.5,484.3h4.5v3.9h-4.5zM314.0,484.3h4.5v3.9h-4.5zM341.0,484.3h4.5v3.9h-4.5zM359.0,484.3h9.0v3.9h-9.0zM386.0,484.3h4.5v3.9h-4.5zM404.0,484.3h4.5v3.9h-4.5zM431.0,484.3h4.5v3.9h-4.5zM296.0,488.2h9.0v3.9h-9.0zM309.5,488.2h4.5v3.9h-4.5zM332.0,488.2h9.0v3.9h-9.0zM381.5,488.2h4.5v3.9h-4.5zM390.5,488.2h4.5v3.9h-4.5zM435.5,488.2h4.5v3.9h-4.5zM453.5,488.2h4.5v3.9h-4.5zM309.5,492.1h9.0v3.9h-9.0zM381.5,492.1h9.0v3.9h-9.0zM399.5,492.1h4.5v3.9h-4.5zM431.0,492.1h4.5v3.9h-4.5zM453.5,492.1h4.5v3.9h-4.5zM282.5,496.0h4.5v3.9h-4.5zM300.5,496.0h4.5v3.9h-4.5zM314.0,496.0h9.0v3.9h-9.0zM354.5,496.0h4.5v3.9h-4.5zM399.5,496.0h4.5v3.9h-4.5zM408.5,496.0h4.5v3.9h-4.5zM435.5,496.0h4.5v3.9h-4.5zM444.5,496.0h9.0v3.9h-9.0zM309.5,499.9h4.5v3.9h-4.5zM341.0,499.9h4.5v3.9h-4.5zM386.0,499.9h4.5v3.9h-4.5zM440.0,499.9h4.5v3.9h-4.5zM278.0,503.8h4.5v3.9h-4.5zM296.0,503.8h9.0v3.9h-9.0zM309.5,503.8h4.5v3.9h-4.5zM341.0,503.8h4.5v3.9h-4.5zM350.0,503.8h4.5v3.9h-4.5zM404.0,503.8h4.5v3.9h-4.5zM413.0,503.8h4.5v3.9h-4.5zM431.0,503.8h9.0v3.9h-9.0zM449.0,503.8h9.0v3.9h-9.0zM278.0,507.7h4.5v3.9h-4.5zM309.5,507.7h22.5v3.9h-22.5zM354.5,507.7h4.5v3.9h-4.5zM422.0,507.7h4.5v3.9h-4.5zM449.0,507.7h9.0v3.9h-9.0zM278.0,511.6h4.5v3.9h-4.5zM309.5,511.6h4.5v3.9h-4.5zM341.0,511.6h4.5v3.9h-4.5zM408.5,511.6h4.5v3.9h-4.5zM440.0,511.6h4.5v3.9h-4.5zM449.0,511.6h4.5v3.9h-4.5zM282.5,515.5h4.5v3.9h-4.5zM291.5,515.5h4.5v3.9h-4.5zM314.0,515.5h9.0v3.9h-9.0zM327.5,515.5h4.5v3.9h-4.5zM336.5,515.5h4.5v3.9h-4.5zM350.0,515.5h4.5v3.9h-4.5zM426.5,515.5h4.5v3.9h-4.5zM435.5,515.5h4.5v3.9h-4.5zM305.0,519.4h4.5v3.9h-4.5zM323.0,519.4h4.5v3.9h-4.5zM345.5,519.4h4.5v3.9h-4.5zM368.0,519.4h4.5v3.9h-4.5zM381.5,519.4h4.5v3.9h-4.5zM390.5,519.4h4.5v3.9h-4.5zM399.5,519.4h9.0v3.9h-9.0zM431.0,519.4h4.5v3.9h-4.5zM278.0,523.3h4.5v3.9h-4.5zM354.5,523.3h4.5v3.9h-4.5zM363.5,523.3h4.5v3.9h-4.5zM422.0,523.3h4.5v3.9h-4.5zM440.0,523.3h9.0v3.9h-9.0zM287.0,527.2h9.0v3.9h-9.0zM305.0,527.2h4.5v3.9h-4.5zM323.0,527.2h4.5v3.9h-4.5zM377.0,527.2h4.5v3.9h-4.5zM399.5,527.2h4.5v3.9h-4.5zM408.5,527.2h4.5v3.9h-4.5zM431.0,527.2h4.5v3.9h-4.5zM444.5,527.2h4.5v3.9h-4.5zM458.0,527.2h4.5v3.9h-4.5zM282.5,531.1h4.5v3.9h-4.5zM327.5,531.1h9.0v3.9h-9.0zM345.5,531.1h4.5v3.9h-4.5zM359.0,531.1h4.5v3.9h-4.5zM368.0,531.1h4.5v3.9h-4.5zM395.0,531.1h4.5v3.9h-4.5zM422.0,531.1h4.5v3.9h-4.5zM431.0,531.1h9.0v3.9h-9.0zM296.0,535.0h4.5v3.9h-4.5zM341.0,535.0h9.0v3.9h-9.0zM368.0,535.0h4.5v3.9h-4.5zM395.0,535.0h13.5v3.9h-13.5zM413.0,535.0h4.5v3.9h-4.5zM278.0,538.9h4.5v3.9h-4.5zM332.0,538.9h4.5v3.9h-4.5zM386.0,538.9h9.0v3.9h-9.0zM417.5,538.9h9.0v3.9h-9.0zM431.0,538.9h4.5v3.9h-4.5zM444.5,538.9h4.5v3.9h-4.5zM296.0,542.8h4.5v3.9h-4.5zM314.0,542.8h9.0v3.9h-9.0zM332.0,542.8h9.0v3.9h-9.0zM372.5,542.8h4.5v3.9h-4.5zM404.0,542.8h4.5v3.9h-4.5zM422.0,542.8h4.5v3.9h-4.5zM431.0,542.8h4.5v3.9h-4.5zM440.0,542.8h4.5v3.9h-4.5zM278.0,546.7h9.0v3.9h-9.0zM291.5,546.7h9.0v3.9h-9.0zM305.0,546.7h9.0v3.9h-9.0zM327.5,546.7h4.5v3.9h-4.5zM386.0,546.7h4.5v3.9h-4.5zM404.0,546.7h4.5v3.9h-4.5zM291.5,550.6h4.5v3.9h-4.5zM350.0,550.6h4.5v3.9h-4.5zM368.0,550.6h4.5v3.9h-4.5zM386.0,550.6h18.0v3.9h-18.0zM426.5,550.6h4.5v3.9h-4.5zM453.5,550.6h4.5v3.9h-4.5zM278.0,554.5h4.5v3.9h-4.5zM323.0,554.5h4.5v3.9h-4.5zM336.5,554.5h4.5v3.9h-4.5zM395.0,554.5h4.5v3.9h-4.5zM413.0,554.5h4.5v3.9h-4.5zM440.0,554.5h4.5v3.9h-4.5zM291.5,558.4h4.5v3.9h-4.5zM390.5,558.4h4.5v3.9h-4.5zM399.5,558.4h4.5v3.9h-4.5zM291.5,562.3h4.5v3.9h-4.5zM332.0,562.3h4.5v3.9h-4.5zM341.0,562.3h4.5v3.9h-4.5zM354.5,562.3h4.5v3.9h-4.5zM372.5,562.3h4.5v3.9h-4.5zM381.5,562.3h4.5v3.9h-4.5zM408.5,562.3h4.5v3.9h-4.5zM440.0,562.3h4.5v3.9h-4.5zM296.0,566.2h4.5v3.9h-4.5zM305.0,566.2h9.0v3.9h-9.0zM327.5,566.2h4.5v3.9h-4.5zM413.0,566.2h9.0v3.9h-9.0zM449.0,566.2h4.5v3.9h-4.5zM458.0,566.2h4.5v3.9h-4.5zM278.0,570.1h4.5v3.9h-4.5zM291.5,570.1h4.5v3.9h-4.5zM300.5,570.1h4.5v3.9h-4.5zM318.5,570.1h4.5v3.9h-4.5zM332.0,570.1h4.5v3.9h-4.5zM350.0,570.1h4.5v3.9h-4.5zM359.0,570.1h4.5v3.9h-4.5zM399.5,570.1h4.5v3.9h-4.5zM413.0,570.1h4.5v3.9h-4.5zM435.5,570.1h4.5v3.9h-4.5zM458.0,570.1h4.5v3.9h-4.5zM287.0,574.0h4.5v3.9h-4.5zM314.0,574.0h9.0v3.9h-9.0zM354.5,574.0h4.5v3.9h-4.5zM372.5,574.0h4.5v3.9h-4.5zM404.0,574.0h4.5v3.9h-4.5zM440.0,574.0h4.5v3.9h-4.5zM296.0,577.9h4.5v3.9h-4.5zM417.5,577.9h4.5v3.9h-4.5zM287.0,581.8h4.5v3.9h-4.5zM309.5,581.8h4.5v3.9h-4.5zM327.5,581.8h4.5v3.9h-4.5zM336.5,581.8h4.5v3.9h-4.5zM350.0,581.8h4.5v3.9h-4.5zM368.0,581.8h4.5v3.9h-4.5zM390.5,581.8h4.5v3.9h-4.5zM417.5,581.8h4.5v3.9h-4.5zM435.5,581.8h4.5v3.9h-4.5zM458.0,581.8h4.5v3.9h-4.5zM291.5,585.7h4.5v3.9h-4.5zM345.5,585.7h9.0v3.9h-9.0zM372.5,585.7h4.5v3.9h-4.5zM395.0,585.7h4.5v3.9h-4.5zM422.0,585.7h9.0v3.9h-9.0zM444.5,585.7h4.5v3.9h-4.5zM278.0,589.6h9.0v3.9h-9.0zM314.0,589.6h4.5v3.9h-4.5zM332.0,589.6h4.5v3.9h-4.5zM341.0,589.6h4.5v3.9h-4.5zM359.0,589.6h4.5v3.9h-4.5zM386.0,589.6h4.5v3.9h-4.5zM404.0,589.6h4.5v3.9h-4.5zM458.0,589.6h4.5v3.9h-4.5zM291.5,593.5h4.5v3.9h-4.5zM336.5,593.5h4.5v3.9h-4.5zM345.5,593.5h4.5v3.9h-4.5zM422.0,593.5h13.5v3.9h-13.5zM449.0,593.5h13.5v3.9h-13.5zM287.0,597.4h4.5v3.9h-4.5zM296.0,597.4h9.0v3.9h-9.0zM332.0,597.4h4.5v3.9h-4.5zM341.0,597.4h4.5v3.9h-4.5zM350.0,597.4h4.5v3.9h-4.5zM359.0,597.4h4.5v3.9h-4.5zM377.0,597.4h9.0v3.9h-9.0zM404.0,597.4h4.5v3.9h-4.5zM413.0,597.4h4.5v3.9h-4.5zM435.5,597.4h4.5v3.9h-4.5zM458.0,597.4h4.5v3.9h-4.5zM282.5,601.3h9.0v3.9h-9.0zM296.0,601.3h4.5v3.9h-4.5zM341.0,601.3h4.5v3.9h-4.5zM350.0,601.3h4.5v3.9h-4.5zM372.5,601.3h4.5v3.9h-4.5zM395.0,601.3h4.5v3.9h-4.5zM417.5,601.3h4.5v3.9h-4.5zM431.0,601.3h4.5v3.9h-4.5zM440.0,601.3h4.5v3.9h-4.5zM449.0,601.3h4.5v3.9h-4.5zM287.0,605.2h4.5v3.9h-4.5zM296.0,605.2h4.5v3.9h-4.5zM381.5,605.2h4.5v3.9h-4.5zM395.0,605.2h9.0v3.9h-9.0zM426.5,605.2h4.5v3.9h-4.5zM440.0,605.2h4.5v3.9h-4.5zM305.0,609.1h4.5v3.9h-4.5zM368.0,609.1h4.5v3.9h-4.5zM390.5,609.1h4.5v3.9h-4.5zM399.5,609.1h9.0v3.9h-9.0zM422.0,609.1h4.5v3.9h-4.5zM440.0,609.1h4.5v3.9h-4.5zM291.5,613.0h4.5v3.9h-4.5zM300.5,613.0h4.5v3.9h-4.5zM363.5,613.0h4.5v3.9h-4.5zM390.5,613.0h4.5v3.9h-4.5zM413.0,613.0h4.5v3.9h-4.5zM422.0,613.0h4.5v3.9h-4.5zM435.5,613.0h4.5v3.9h-4.5zM444.5,613.0h4.5v3.9h-4.5zM458.0,613.0h4.5v3.9h-4.5zM278.0,616.9h4.5v3.9h-4.5zM291.5,616.9h4.5v3.9h-4.5zM359.0,616.9h9.0v3.9h-9.0zM390.5,616.9h4.5v3.9h-4.5zM422.0,616.9h9.0v3.9h-9.0zM282.5,620.8h4.5v3.9h-4.5zM390.5,620.8h4.5v3.9h-4.5zM404.0,620.8h4.5v3.9h-4.5zM431.0,620.8h4.5v3.9h-4.5zM444.5,620.8h4.5v3.9h-4.5zM300.5,624.7h4.5v3.9h-4.5zM314.0,624.7h9.0v3.9h-9.0zM341.0,624.7h13.5v3.9h-13.5zM368.0,624.7h4.5v3.9h-4.5zM386.0,624.7h4.5v3.9h-4.5zM399.5,624.7h4.5v3.9h-4.5zM417.5,624.7h4.5v3.9h-4.5zM435.5,624.7h4.5v3.9h-4.5zM282.5,628.6h4.5v3.9h-4.5zM300.5,628.6h4.5v3.9h-4.5zM323.0,628.6h18.0v3.9h-18.0zM345.5,628.6h4.5v3.9h-4.5zM359.0,628.6h13.5v3.9h-13.5zM395.0,628.6h4.5v3.9h-4.5zM431.0,628.6h9.0v3.9h-9.0zM287.0,632.5h9.0v3.9h-9.0zM300.5,632.5h4.5v3.9h-4.5zM332.0,632.5h9.0v3.9h-9.0zM359.0,632.5h4.5v3.9h-4.5zM381.5,632.5h4.5v3.9h-4.5zM390.5,632.5h4.5v3.9h-4.5zM417.5,632.5h4.5v3.9h-4.5zM426.5,632.5h9.0v3.9h-9.0zM278.0,636.4h13.5v3.9h-13.5zM323.0,636.4h4.5v3.9h-4.5zM350.0,636.4h13.5v3.9h-13.5zM413.0,636.4h9.0v3.9h-9.0zM449.0,636.4h4.5v3.9h-4.5zM458.0,636.4h4.5v3.9h-4.5zM282.5,640.3h4.5v3.9h-4.5zM314.0,640.3h4.5v3.9h-4.5zM336.5,640.3h4.5v3.9h-4.5zM345.5,640.3h9.0v3.9h-9.0zM359.0,640.3h4.5v3.9h-4.5zM390.5,640.3h4.5v3.9h-4.5zM422.0,640.3h4.5v3.9h-4.5zM431.0,640.3h4.5v3.9h-4.5zM282.5,644.2h4.5v3.9h-4.5zM305.0,644.2h4.5v3.9h-4.5zM327.5,644.2h4.5v3.9h-4.5zM440.0,644.2h4.5v3.9h-4.5zM300.5,648.1h4.5v3.9h-4.5zM336.5,648.1h4.5v3.9h-4.5zM345.5,648.1h4.5v3.9h-4.5zM395.0,648.1h9.0v3.9h-9.0zM435.5,648.1h4.5v3.9h-4.5zM453.5,648.1h4.5v3.9h-4.5zM278.0,652.0h4.5v3.9h-4.5zM287.0,652.0h4.5v3.9h-4.5zM296.0,652.0h4.5v3.9h-4.5zM318.5,652.0h4.5v3.9h-4.5zM354.5,652.0h9.0v3.9h-9.0zM377.0,652.0h4.5v3.9h-4.5zM395.0,652.0h4.5v3.9h-4.5zM408.5,652.0h4.5v3.9h-4.5zM417.5,652.0h4.5v3.9h-4.5zM440.0,652.0h9.0v3.9h-9.0z" fill="rgb(178,178,178)" shape-rendering="crispEdges"/><path d="M296.0,437.5h4.5v3.9h-4.5zM314.0,437.5h4.5v3.9h-4.5zM323.0,437.5h4.5v3.9h-4.5zM336.5,437.5h4.5v3.9h-4.5zM354.5,437.5h4.5v3.9h-4.5zM404.0,437.5h9.0v3.9h-9.0zM426.5,437.5h4.5v3.9h-4.5zM435.5,437.5h4.5v3.9h-4.5zM300.5,441.4h4.5v3.9h-4.5zM336.5,441.4h4.5v3.9h-4.5zM354.5,441.4h4.5v3.9h-4.5zM404.0,441.4h4.5v3.9h-4.5zM413.0,441.4h4.5v3.9h-4.5zM422.0,441.4h4.5v3.9h-4.5zM440.0,441.4h9.0v3.9h-9.0zM453.5,441.4h4.5v3.9h-4.5zM291.5,445.3h4.5v3.9h-4.5zM372.5,445.3h4.5v3.9h-4.5zM381.5,445.3h9.0v3.9h-9.0zM399.5,445.3h9.0v3.9h-9.0zM291.5,449.2h4.5v3.9h-4.5zM300.5,449.2h4.5v3.9h-4.5zM336.5,449.2h4.5v3.9h-4.5zM345.5,449.2h4.5v3.9h-4.5zM359.0,449.2h4.5v3.9h-4.5zM368.0,449.2h4.5v3.9h-4.5zM377.0,449.2h4.5v3.9h-4.5zM404.0,449.2h9.0v3.9h-9.0zM440.0,449.2h9.0v3.9h-9.0zM287.0,453.1h4.5v3.9h-4.5zM300.5,453.1h9.0v3.9h-9.0zM336.5,453.1h4.5v3.9h-4.5zM345.5,453.1h4.5v3.9h-4.5zM368.0,453.1h4.5v3.9h-4.5zM440.0,453.1h4.5v3.9h-4.5zM296.0,457.0h4.5v3.9h-4.5zM309.5,457.0h4.5v3.9h-4.5zM381.5,457.0h4.5v3.9h-4.5zM404.0,457.0h4.5v3.9h-4.5zM426.5,457.0h4.5v3.9h-4.5zM435.5,457.0h4.5v3.9h-4.5zM296.0,460.9h4.5v3.9h-4.5zM305.0,460.9h4.5v3.9h-4.5zM314.0,460.9h4.5v3.9h-4.5zM345.5,460.9h9.0v3.9h-9.0zM368.0,460.9h9.0v3.9h-9.0zM399.5,460.9h4.5v3.9h-4.5zM408.5,460.9h13.5v3.9h-13.5zM435.5,460.9h4.5v3.9h-4.5zM449.0,460.9h4.5v3.9h-4.5zM458.0,460.9h4.5v3.9h-4.5zM296.0,464.8h4.5v3.9h-4.5zM327.5,464.8h4.5v3.9h-4.5zM408.5,464.8h4.5v3.9h-4.5zM458.0,464.8h4.5v3.9h-4.5zM278.0,468.7h4.5v3.9h-4.5zM305.0,468.7h4.5v3.9h-4.5zM431.0,468.7h4.5v3.9h-4.5zM449.0,468.7h4.5v3.9h-4.5zM278.0,472.6h4.5v3.9h-4.5zM291.5,472.6h4.5v3.9h-4.5zM341.0,472.6h4.5v3.9h-4.5zM359.0,472.6h4.5v3.9h-4.5zM381.5,472.6h4.5v3.9h-4.5zM390.5,472.6h9.0v3.9h-9.0zM404.0,472.6h4.5v3.9h-4.5zM413.0,472.6h4.5v3.9h-4.5zM426.5,472.6h4.5v3.9h-4.5zM440.0,472.6h4.5v3.9h-4.5zM300.5,476.5h4.5v3.9h-4.5zM314.0,476.5h4.5v3.9h-4.5zM372.5,476.5h9.0v3.9h-9.0zM395.0,476.5h4.5v3.9h-4.5zM413.0,476.5h9.0v3.9h-9.0zM435.5,476.5h4.5v3.9h-4.5zM458.0,476.5h4.5v3.9h-4.5zM309.5,480.4h4.5v3.9h-4.5zM363.5,480.4h4.5v3.9h-4.5zM404.0,480.4h4.5v3.9h-4.5zM287.0,484.3h18.0v3.9h-18.0zM309.5,484.3h4.5v3.9h-4.5zM323.0,484.3h4.5v3.9h-4.5zM332.0,484.3h9.0v3.9h-9.0zM395.0,484.3h9.0v3.9h-9.0zM435.5,484.3h4.5v3.9h-4.5zM444.5,484.3h9.0v3.9h-9.0zM282.5,488.2h13.5v3.9h-13.5zM345.5,488.2h9.0v3.9h-9.0zM363.5,488.2h13.5v3.9h-13.5zM386.0,488.2h4.5v3.9h-4.5zM458.0,488.2h4.5v3.9h-4.5zM278.0,492.1h4.5v3.9h-4.5zM287.0,492.1h4.5v3.9h-4.5zM350.0,492.1h4.5v3.9h-4.5zM368.0,492.1h4.5v3.9h-4.5zM377.0,492.1h4.5v3.9h-4.5zM395.0,492.1h4.5v3.9h-4.5zM413.0,492.1h4.5v3.9h-4.5zM440.0,492.1h9.0v3.9h-9.0zM305.0,496.0h4.5v3.9h-4.5zM323.0,496.0h4.5v3.9h-4.5zM368.0,496.0h4.5v3.9h-4.5zM413.0,496.0h4.5v3.9h-4.5zM458.0,496.0h4.5v3.9h-4.5zM278.0,499.9h4.5v3.9h-4.5zM296.0,499.9h9.0v3.9h-9.0zM314.0,499.9h4.5v3.9h-4.5zM323.0,499.9h9.0v3.9h-9.0zM354.5,499.9h4.5v3.9h-4.5zM408.5,499.9h4.5v3.9h-4.5zM422.0,499.9h18.0v3.9h-18.0zM453.5,499.9h4.5v3.9h-4.5zM287.0,503.8h9.0v3.9h-9.0zM305.0,503.8h4.5v3.9h-4.5zM323.0,503.8h4.5v3.9h-4.5zM332.0,503.8h4.5v3.9h-4.5zM345.5,503.8h4.5v3.9h-4.5zM377.0,503.8h4.5v3.9h-4.5zM395.0,503.8h4.5v3.9h-4.5zM422.0,503.8h4.5v3.9h-4.5zM440.0,503.8h4.5v3.9h-4.5zM291.5,507.7h4.5v3.9h-4.5zM332.0,507.7h4.5v3.9h-4.5zM359.0,507.7h4.5v3.9h-4.5zM368.0,507.7h4.5v3.9h-4.5zM381.5,507.7h18.0v3.9h-18.0zM426.5,507.7h4.5v3.9h-4.5zM300.5,511.6h4.5v3.9h-4.5zM327.5,511.6h4.5v3.9h-4.5zM363.5,511.6h4.5v3.9h-4.5zM386.0,511.6h18.0v3.9h-18.0zM431.0,511.6h4.5v3.9h-4.5zM453.5,511.6h4.5v3.9h-4.5zM278.0,515.5h4.5v3.9h-4.5zM296.0,515.5h4.5v3.9h-4.5zM332.0,515.5h4.5v3.9h-4.5zM377.0,515.5h13.5v3.9h-13.5zM399.5,515.5h4.5v3.9h-4.5zM449.0,515.5h4.5v3.9h-4.5zM291.5,519.4h4.5v3.9h-4.5zM327.5,519.4h4.5v3.9h-4.5zM341.0,519.4h4.5v3.9h-4.5zM350.0,519.4h4.5v3.9h-4.5zM372.5,519.4h4.5v3.9h-4.5zM413.0,519.4h13.5v3.9h-13.5zM449.0,519.4h4.5v3.9h-4.5zM282.5,523.3h4.5v3.9h-4.5zM291.5,523.3h4.5v3.9h-4.5zM300.5,523.3h4.5v3.9h-4.5zM327.5,523.3h4.5v3.9h-4.5zM336.5,523.3h4.5v3.9h-4.5zM368.0,523.3h4.5v3.9h-4.5zM381.5,523.3h4.5v3.9h-4.5zM404.0,523.3h4.5v3.9h-4.5zM431.0,523.3h4.5v3.9h-4.5zM309.5,527.2h9.0v3.9h-9.0zM341.0,527.2h4.5v3.9h-4.5zM354.5,527.2h4.5v3.9h-4.5zM386.0,527.2h4.5v3.9h-4.5zM395.0,527.2h4.5v3.9h-4.5zM413.0,527.2h4.5v3.9h-4.5zM435.5,527.2h4.5v3.9h-4.5zM323.0,531.1h4.5v3.9h-4.5zM377.0,531.1h4.5v3.9h-4.5zM408.5,531.1h4.5v3.9h-4.5zM458.0,531.1h4.5v3.9h-4.5zM278.0,535.0h4.5v3.9h-4.5zM291.5,535.0h4.5v3.9h-4.5zM323.0,535.0h4.5v3.9h-4.5zM332.0,535.0h9.0v3.9h-9.0zM363.5,535.0h4.5v3.9h-4.5zM372.5,535.0h4.5v3.9h-4.5zM386.0,535.0h4.5v3.9h-4.5zM408.5,535.0h4.5v3.9h-4.5zM435.5,535.0h4.5v3.9h-4.5zM291.5,538.9h4.5v3.9h-4.5zM300.5,538.9h4.5v3.9h-4.5zM314.0,538.9h4.5v3.9h-4.5zM350.0,538.9h4.5v3.9h-4.5zM363.5,538.9h4.5v3.9h-4.5zM372.5,538.9h9.0v3.9h-9.0zM395.0,538.9h13.5v3.9h-13.5zM449.0,538.9h4.5v3.9h-4.5zM458.0,538.9h4.5v3.9h-4.5zM282.5,542.8h4.5v3.9h-4.5zM300.5,542.8h4.5v3.9h-4.5zM309.5,542.8h4.5v3.9h-4.5zM327.5,542.8h4.5v3.9h-4.5zM345.5,542.8h4.5v3.9h-4.5zM363.5,542.8h9.0v3.9h-9.0zM386.0,542.8h9.0v3.9h-9.0zM426.5,542.8h4.5v3.9h-4.5zM453.5,542.8h4.5v3.9h-4.5zM323.0,546.7h4.5v3.9h-4.5zM345.5,546.7h9.0v3.9h-9.0zM359.0,546.7h4.5v3.9h-4.5zM372.5,546.7h9.0v3.9h-9.0zM390.5,546.7h4.5v3.9h-4.5zM408.5,546.7h9.0v3.9h-9.0zM287.0,550.6h4.5v3.9h-4.5zM296.0,550.6h4.5v3.9h-4.5zM323.0,550.6h4.5v3.9h-4.5zM341.0,550.6h4.5v3.9h-4.5zM431.0,550.6h4.5v3.9h-4.5zM291.5,554.5h13.5v3.9h-13.5zM332.0,554.5h4.5v3.9h-4.5zM341.0,554.5h4.5v3.9h-4.5zM350.0,554.5h4.5v3.9h-4.5zM372.5,554.5h4.5v3.9h-4.5zM390.5,554.5h4.5v3.9h-4.5zM435.5,554.5h4.5v3.9h-4.5zM444.5,554.5h9.0v3.9h-9.0zM278.0,558.4h4.5v3.9h-4.5zM287.0,558.4h4.5v3.9h-4.5zM309.5,558.4h4.5v3.9h-4.5zM327.5,558.4h4.5v3.9h-4.5zM354.5,558.4h4.5v3.9h-4.5zM372.5,558.4h4.5v3.9h-4.5zM381.5,558.4h9.0v3.9h-9.0zM408.5,558.4h4.5v3.9h-4.5zM426.5,558.4h13.5v3.9h-13.5zM444.5,558.4h9.0v3.9h-9.0zM296.0,562.3h4.5v3.9h-4.5zM305.0,562.3h9.0v3.9h-9.0zM318.5,562.3h4.5v3.9h-4.5zM327.5,562.3h4.5v3.9h-4.5zM336.5,562.3h4.5v3.9h-4.5zM377.0,562.3h4.5v3.9h-4.5zM399.5,562.3h4.5v3.9h-4.5zM426.5,562.3h4.5v3.9h-4.5zM435.5,562.3h4.5v3.9h-4.5zM278.0,566.2h4.5v3.9h-4.5zM287.0,566.2h4.5v3.9h-4.5zM314.0,566.2h4.5v3.9h-4.5zM336.5,566.2h4.5v3.9h-4.5zM350.0,566.2h4.5v3.9h-4.5zM359.0,566.2h4.5v3.9h-4.5zM372.5,566.2h4.5v3.9h-4.5zM395.0,566.2h4.5v3.9h-4.5zM422.0,566.2h4.5v3.9h-4.5zM435.5,566.2h4.5v3.9h-4.5zM287.0,570.1h4.5v3.9h-4.5zM305.0,570.1h4.5v3.9h-4.5zM368.0,570.1h4.5v3.9h-4.5zM377.0,570.1h9.0v3.9h-9.0zM404.0,570.1h9.0v3.9h-9.0zM417.5,570.1h4.5v3.9h-4.5zM431.0,570.1h4.5v3.9h-4.5zM440.0,570.1h4.5v3.9h-4.5zM309.5,574.0h4.5v3.9h-4.5zM327.5,574.0h4.5v3.9h-4.5zM350.0,574.0h4.5v3.9h-4.5zM363.5,574.0h9.0v3.9h-9.0zM377.0,574.0h4.5v3.9h-4.5zM395.0,574.0h4.5v3.9h-4.5zM435.5,574.0h4.5v3.9h-4.5zM453.5,574.0h9.0v3.9h-9.0zM305.0,577.9h4.5v3.9h-4.5zM332.0,577.9h13.5v3.9h-13.5zM413.0,577.9h4.5v3.9h-4.5zM282.5,581.8h4.5v3.9h-4.5zM314.0,581.8h4.5v3.9h-4.5zM332.0,581.8h4.5v3.9h-4.5zM372.5,581.8h4.5v3.9h-4.5zM386.0,581.8h4.5v3.9h-4.5zM399.5,581.8h4.5v3.9h-4.5zM323.0,585.7h13.5v3.9h-13.5zM363.5,585.7h4.5v3.9h-4.5zM390.5,585.7h4.5v3.9h-4.5zM404.0,585.7h9.0v3.9h-9.0zM440.0,585.7h4.5v3.9h-4.5zM458.0,585.7h4.5v3.9h-4.5zM300.5,589.6h4.5v3.9h-4.5zM399.5,589.6h4.5v3.9h-4.5zM417.5,589.6h4.5v3.9h-4.5zM426.5,589.6h4.5v3.9h-4.5zM435.5,589.6h4.5v3.9h-4.5zM444.5,589.6h4.5v3.9h-4.5zM453.5,589.6h4.5v3.9h-4.5zM278.0,593.5h4.5v3.9h-4.5zM287.0,593.5h4.5v3.9h-4.5zM296.0,593.5h4.5v3.9h-4.5zM305.0,593.5h4.5v3.9h-4.5zM318.5,593.5h4.5v3.9h-4.5zM381.5,593.5h4.5v3.9h-4.5zM278.0,597.4h4.5v3.9h-4.5zM314.0,597.4h4.5v3.9h-4.5zM323.0,597.4h9.0v3.9h-9.0zM336.5,597.4h4.5v3.9h-4.5zM395.0,597.4h4.5v3.9h-4.5zM444.5,597.4h4.5v3.9h-4.5zM278.0,601.3h4.5v3.9h-4.5zM291.5,601.3h4.5v3.9h-4.5zM300.5,601.3h4.5v3.9h-4.5zM314.0,601.3h4.5v3.9h-4.5zM323.0,601.3h4.5v3.9h-4.5zM336.5,601.3h4.5v3.9h-4.5zM368.0,601.3h4.5v3.9h-4.5zM386.0,601.3h4.5v3.9h-4.5zM399.5,601.3h4.5v3.9h-4.5zM413.0,601.3h4.5v3.9h-4.5zM453.5,601.3h4.5v3.9h-4.5zM278.0,605.2h9.0v3.9h-9.0zM300.5,605.2h13.5v3.9h-13.5zM336.5,605.2h4.5v3.9h-4.5zM345.5,605.2h4.5v3.9h-4.5zM354.5,605.2h4.5v3.9h-4.5zM368.0,605.2h4.5v3.9h-4.5zM377.0,605.2h4.5v3.9h-4.5zM386.0,605.2h9.0v3.9h-9.0zM404.0,605.2h4.5v3.9h-4.5zM417.5,605.2h9.0v3.9h-9.0zM431.0,605.2h4.5v3.9h-4.5zM327.5,609.1h13.5v3.9h-13.5zM372.5,609.1h4.5v3.9h-4.5zM381.5,609.1h4.5v3.9h-4.5zM413.0,609.1h4.5v3.9h-4.5zM453.5,609.1h4.5v3.9h-4.5zM327.5,613.0h9.0v3.9h-9.0zM395.0,613.0h4.5v3.9h-4.5zM449.0,613.0h4.5v3.9h-4.5zM282.5,616.9h4.5v3.9h-4.5zM318.5,616.9h9.0v3.9h-9.0zM341.0,616.9h9.0v3.9h-9.0zM372.5,616.9h9.0v3.9h-9.0zM395.0,616.9h13.5v3.9h-13.5zM417.5,616.9h4.5v3.9h-4.5zM431.0,616.9h4.5v3.9h-4.5zM449.0,616.9h4.5v3.9h-4.5zM287.0,620.8h9.0v3.9h-9.0zM336.5,620.8h4.5v3.9h-4.5zM359.0,620.8h4.5v3.9h-4.5zM417.5,620.8h4.5v3.9h-4.5zM453.5,620.8h9.0v3.9h-9.0zM278.0,624.7h9.0v3.9h-9.0zM291.5,624.7h9.0v3.9h-9.0zM309.5,624.7h4.5v3.9h-4.5zM323.0,624.7h4.5v3.9h-4.5zM422.0,624.7h13.5v3.9h-13.5zM444.5,624.7h4.5v3.9h-4.5zM453.5,624.7h9.0v3.9h-9.0zM350.0,628.6h4.5v3.9h-4.5zM422.0,628.6h4.5v3.9h-4.5zM453.5,628.6h4.5v3.9h-4.5zM282.5,632.5h4.5v3.9h-4.5zM305.0,632.5h4.5v3.9h-4.5zM318.5,632.5h4.5v3.9h-4.5zM327.5,632.5h4.5v3.9h-4.5zM354.5,632.5h4.5v3.9h-4.5zM368.0,632.5h4.5v3.9h-4.5zM386.0,632.5h4.5v3.9h-4.5zM413.0,632.5h4.5v3.9h-4.5zM458.0,632.5h4.5v3.9h-4.5zM291.5,636.4h4.5v3.9h-4.5zM300.5,636.4h9.0v3.9h-9.0zM332.0,636.4h4.5v3.9h-4.5zM341.0,636.4h4.5v3.9h-4.5zM363.5,636.4h4.5v3.9h-4.5zM381.5,636.4h4.5v3.9h-4.5zM426.5,636.4h9.0v3.9h-9.0zM287.0,640.3h4.5v3.9h-4.5zM300.5,640.3h13.5v3.9h-13.5zM323.0,640.3h4.5v3.9h-4.5zM332.0,640.3h4.5v3.9h-4.5zM372.5,640.3h4.5v3.9h-4.5zM404.0,640.3h4.5v3.9h-4.5zM426.5,640.3h4.5v3.9h-4.5zM435.5,640.3h4.5v3.9h-4.5zM449.0,640.3h4.5v3.9h-4.5zM300.5,644.2h4.5v3.9h-4.5zM309.5,644.2h4.5v3.9h-4.5zM363.5,644.2h4.5v3.9h-4.5zM377.0,644.2h4.5v3.9h-4.5zM386.0,644.2h9.0v3.9h-9.0zM399.5,644.2h4.5v3.9h-4.5zM422.0,644.2h4.5v3.9h-4.5zM444.5,644.2h4.5v3.9h-4.5zM287.0,648.1h4.5v3.9h-4.5zM318.5,648.1h4.5v3.9h-4.5zM332.0,648.1h4.5v3.9h-4.5zM341.0,648.1h4.5v3.9h-4.5zM413.0,648.1h4.5v3.9h-4.5zM282.5,652.0h4.5v3.9h-4.5zM300.5,652.0h9.0v3.9h-9.0zM327.5,652.0h4.5v3.9h-4.5zM336.5,652.0h4.5v3.9h-4.5zM345.5,652.0h4.5v3.9h-4.5zM381.5,652.0h4.5v3.9h-4.5zM399.5,652.0h4.5v3.9h-4.5zM413.0,652.0h4.5v3.9h-4.5zM422.0,652.0h9.0v3.9h-9.0zM449.0,652.0h13.5v3.9h-13.5z" fill="rgb(192,192,192)" shape-rendering="crispEdges"/><path d="M287.0,437.5h9.0v3.9h-9.0zM318.5,437.5h4.5v3.9h-4.5zM345.5,437.5h4.5v3.9h-4.5zM368.0,437.5h4.5v3.9h-4.5zM386.0,437.5h4.5v3.9h-4.5zM399.5,437.5h4.5v3.9h-4.5zM417.5,437.5h9.0v3.9h-9.0zM453.5,437.5h9.0v3.9h-9.0zM287.0,441.4h4.5v3.9h-4.5zM296.0,441.4h4.5v3.9h-4.5zM314.0,441.4h4.5v3.9h-4.5zM359.0,441.4h4.5v3.9h-4.5zM368.0,441.4h4.5v3.9h-4.5zM386.0,441.4h4.5v3.9h-4.5zM287.0,445.3h4.5v3.9h-4.5zM318.5,445.3h4.5v3.9h-4.5zM327.5,445.3h4.5v3.9h-4.5zM350.0,445.3h4.5v3.9h-4.5zM422.0,445.3h4.5v3.9h-4.5zM282.5,449.2h9.0v3.9h-9.0zM309.5,449.2h9.0v3.9h-9.0zM341.0,449.2h4.5v3.9h-4.5zM413.0,449.2h4.5v3.9h-4.5zM431.0,449.2h4.5v3.9h-4.5zM458.0,449.2h4.5v3.9h-4.5zM377.0,453.1h4.5v3.9h-4.5zM422.0,453.1h4.5v3.9h-4.5zM435.5,453.1h4.5v3.9h-4.5zM449.0,453.1h4.5v3.9h-4.5zM300.5,457.0h4.5v3.9h-4.5zM323.0,457.0h4.5v3.9h-4.5zM408.5,457.0h9.0v3.9h-9.0zM422.0,457.0h4.5v3.9h-4.5zM449.0,457.0h4.5v3.9h-4.5zM278.0,460.9h4.5v3.9h-4.5zM318.5,460.9h4.5v3.9h-4.5zM332.0,460.9h4.5v3.9h-4.5zM341.0,460.9h4.5v3.9h-4.5zM377.0,460.9h4.5v3.9h-4.5zM386.0,460.9h9.0v3.9h-9.0zM426.5,460.9h4.5v3.9h-4.5zM444.5,460.9h4.5v3.9h-4.5zM282.5,464.8h4.5v3.9h-4.5zM309.5,464.8h4.5v3.9h-4.5zM318.5,464.8h4.5v3.9h-4.5zM354.5,464.8h9.0v3.9h-9.0zM395.0,464.8h4.5v3.9h-4.5zM282.5,468.7h4.5v3.9h-4.5zM309.5,468.7h4.5v3.9h-4.5zM350.0,468.7h4.5v3.9h-4.5zM435.5,468.7h4.5v3.9h-4.5zM296.0,472.6h4.5v3.9h-4.5zM327.5,472.6h13.5v3.9h-13.5zM372.5,472.6h9.0v3.9h-9.0zM399.5,472.6h4.5v3.9h-4.5zM435.5,472.6h4.5v3.9h-4.5zM287.0,476.5h4.5v3.9h-4.5zM305.0,476.5h4.5v3.9h-4.5zM323.0,476.5h4.5v3.9h-4.5zM332.0,476.5h4.5v3.9h-4.5zM341.0,476.5h4.5v3.9h-4.5zM408.5,476.5h4.5v3.9h-4.5zM305.0,480.4h4.5v3.9h-4.5zM318.5,480.4h4.5v3.9h-4.5zM327.5,480.4h9.0v3.9h-9.0zM345.5,480.4h4.5v3.9h-4.5zM386.0,480.4h4.5v3.9h-4.5zM413.0,480.4h4.5v3.9h-4.5zM431.0,480.4h4.5v3.9h-4.5zM444.5,480.4h4.5v3.9h-4.5zM305.0,484.3h4.5v3.9h-4.5zM318.5,484.3h4.5v3.9h-4.5zM327.5,484.3h4.5v3.9h-4.5zM350.0,484.3h4.5v3.9h-4.5zM413.0,484.3h13.5v3.9h-13.5zM341.0,488.2h4.5v3.9h-4.5zM395.0,488.2h4.5v3.9h-4.5zM413.0,488.2h9.0v3.9h-9.0zM440.0,488.2h9.0v3.9h-9.0zM282.5,492.1h4.5v3.9h-4.5zM291.5,492.1h4.5v3.9h-4.5zM300.5,492.1h4.5v3.9h-4.5zM318.5,492.1h4.5v3.9h-4.5zM332.0,492.1h13.5v3.9h-13.5zM354.5,492.1h13.5v3.9h-13.5zM404.0,492.1h4.5v3.9h-4.5zM417.5,492.1h4.5v3.9h-4.5zM287.0,496.0h9.0v3.9h-9.0zM345.5,496.0h4.5v3.9h-4.5zM359.0,496.0h4.5v3.9h-4.5zM386.0,496.0h9.0v3.9h-9.0zM404.0,496.0h4.5v3.9h-4.5zM417.5,496.0h9.0v3.9h-9.0zM440.0,496.0h4.5v3.9h-4.5zM282.5,499.9h9.0v3.9h-9.0zM336.5,499.9h4.5v3.9h-4.5zM345.5,499.9h4.5v3.9h-4.5zM363.5,499.9h18.0v3.9h-18.0zM395.0,499.9h4.5v3.9h-4.5zM417.5,499.9h4.5v3.9h-4.5zM444.5,499.9h4.5v3.9h-4.5zM458.0,499.9h4.5v3.9h-4.5zM327.5,503.8h4.5v3.9h-4.5zM336.5,503.8h4.5v3.9h-4.5zM368.0,503.8h4.5v3.9h-4.5zM381.5,503.8h9.0v3.9h-9.0zM399.5,503.8h4.5v3.9h-4.5zM300.5,507.7h4.5v3.9h-4.5zM350.0,507.7h4.5v3.9h-4.5zM377.0,507.7h4.5v3.9h-4.5zM404.0,507.7h4.5v3.9h-4.5zM305.0,511.6h4.5v3.9h-4.5zM336.5,511.6h4.5v3.9h-4.5zM345.5,511.6h4.5v3.9h-4.5zM354.5,511.6h4.5v3.9h-4.5zM426.5,511.6h4.5v3.9h-4.5zM305.0,515.5h4.5v3.9h-4.5zM354.5,515.5h9.0v3.9h-9.0zM368.0,515.5h4.5v3.9h-4.5zM395.0,515.5h4.5v3.9h-4.5zM404.0,515.5h9.0v3.9h-9.0zM422.0,515.5h4.5v3.9h-4.5zM440.0,515.5h9.0v3.9h-9.0zM453.5,515.5h9.0v3.9h-9.0zM309.5,519.4h9.0v3.9h-9.0zM336.5,519.4h4.5v3.9h-4.5zM359.0,519.4h9.0v3.9h-9.0zM408.5,519.4h4.5v3.9h-4.5zM444.5,519.4h4.5v3.9h-4.5zM287.0,523.3h4.5v3.9h-4.5zM296.0,523.3h4.5v3.9h-4.5zM314.0,523.3h4.5v3.9h-4.5zM345.5,523.3h4.5v3.9h-4.5zM377.0,523.3h4.5v3.9h-4.5zM390.5,523.3h4.5v3.9h-4.5zM399.5,523.3h4.5v3.9h-4.5zM408.5,523.3h9.0v3.9h-9.0zM458.0,523.3h4.5v3.9h-4.5zM368.0,527.2h4.5v3.9h-4.5zM417.5,527.2h9.0v3.9h-9.0zM440.0,527.2h4.5v3.9h-4.5zM287.0,531.1h4.5v3.9h-4.5zM314.0,531.1h4.5v3.9h-4.5zM341.0,531.1h4.5v3.9h-4.5zM386.0,531.1h4.5v3.9h-4.5zM404.0,531.1h4.5v3.9h-4.5zM426.5,531.1h4.5v3.9h-4.5zM314.0,535.0h4.5v3.9h-4.5zM327.5,535.0h4.5v3.9h-4.5zM354.5,535.0h9.0v3.9h-9.0zM440.0,535.0h4.5v3.9h-4.5zM453.5,535.0h4.5v3.9h-4.5zM282.5,538.9h4.5v3.9h-4.5zM305.0,538.9h4.5v3.9h-4.5zM354.5,538.9h4.5v3.9h-4.5zM440.0,538.9h4.5v3.9h-4.5zM291.5,542.8h4.5v3.9h-4.5zM305.0,542.8h4.5v3.9h-4.5zM341.0,542.8h4.5v3.9h-4.5zM350.0,542.8h4.5v3.9h-4.5zM359.0,542.8h4.5v3.9h-4.5zM395.0,542.8h9.0v3.9h-9.0zM408.5,542.8h4.5v3.9h-4.5zM287.0,546.7h4.5v3.9h-4.5zM318.5,546.7h4.5v3.9h-4.5zM332.0,546.7h9.0v3.9h-9.0zM417.5,546.7h9.0v3.9h-9.0zM278.0,550.6h4.5v3.9h-4.5zM300.5,550.6h13.5v3.9h-13.5zM336.5,550.6h4.5v3.9h-4.5zM345.5,550.6h4.5v3.9h-4.5zM381.5,550.6h4.5v3.9h-4.5zM408.5,550.6h4.5v3.9h-4.5zM422.0,550.6h4.5v3.9h-4.5zM282.5,554.5h4.5v3.9h-4.5zM305.0,554.5h4.5v3.9h-4.5zM359.0,554.5h9.0v3.9h-9.0zM381.5,554.5h9.0v3.9h-9.0zM404.0,554.5h4.5v3.9h-4.5zM314.0,558.4h4.5v3.9h-4.5zM332.0,558.4h4.5v3.9h-4.5zM341.0,558.4h4.5v3.9h-4.5zM359.0,558.4h4.5v3.9h-4.5zM422.0,558.4h4.5v3.9h-4.5zM453.5,558.4h9.0v3.9h-9.0zM278.0,562.3h9.0v3.9h-9.0zM350.0,562.3h4.5v3.9h-4.5zM363.5,562.3h4.5v3.9h-4.5zM453.5,562.3h4.5v3.9h-4.5zM300.5,566.2h4.5v3.9h-4.5zM399.5,566.2h4.5v3.9h-4.5zM408.5,566.2h4.5v3.9h-4.5zM426.5,566.2h9.0v3.9h-9.0zM440.0,566.2h4.5v3.9h-4.5zM327.5,570.1h4.5v3.9h-4.5zM386.0,570.1h4.5v3.9h-4.5zM278.0,574.0h4.5v3.9h-4.5zM300.5,574.0h4.5v3.9h-4.5zM381.5,574.0h4.5v3.9h-4.5zM408.5,574.0h4.5v3.9h-4.5zM417.5,574.0h13.5v3.9h-13.5zM449.0,574.0h4.5v3.9h-4.5zM291.5,577.9h4.5v3.9h-4.5zM354.5,577.9h9.0v3.9h-9.0zM368.0,577.9h4.5v3.9h-4.5zM386.0,577.9h4.5v3.9h-4.5zM399.5,577.9h4.5v3.9h-4.5zM435.5,577.9h13.5v3.9h-13.5zM458.0,577.9h4.5v3.9h-4.5zM296.0,581.8h4.5v3.9h-4.5zM341.0,581.8h4.5v3.9h-4.5zM354.5,581.8h9.0v3.9h-9.0zM404.0,581.8h4.5v3.9h-4.5zM426.5,581.8h4.5v3.9h-4.5zM449.0,581.8h4.5v3.9h-4.5zM309.5,585.7h9.0v3.9h-9.0zM336.5,585.7h4.5v3.9h-4.5zM377.0,585.7h4.5v3.9h-4.5zM435.5,585.7h4.5v3.9h-4.5zM305.0,589.6h4.5v3.9h-4.5zM323.0,589.6h4.5v3.9h-4.5zM345.5,589.6h4.5v3.9h-4.5zM368.0,589.6h13.5v3.9h-13.5zM449.0,589.6h4.5v3.9h-4.5zM282.5,593.5h4.5v3.9h-4.5zM404.0,593.5h9.0v3.9h-9.0zM440.0,593.5h9.0v3.9h-9.0zM291.5,597.4h4.5v3.9h-4.5zM345.5,597.4h4.5v3.9h-4.5zM354.5,597.4h4.5v3.9h-4.5zM372.5,597.4h4.5v3.9h-4.5zM408.5,597.4h4.5v3.9h-4.5zM453.5,597.4h4.5v3.9h-4.5zM318.5,601.3h4.5v3.9h-4.5zM332.0,601.3h4.5v3.9h-4.5zM345.5,601.3h4.5v3.9h-4.5zM359.0,601.3h9.0v3.9h-9.0zM408.5,601.3h4.5v3.9h-4.5zM458.0,601.3h4.5v3.9h-4.5zM318.5,605.2h4.5v3.9h-4.5zM341.0,605.2h4.5v3.9h-4.5zM350.0,605.2h4.5v3.9h-4.5zM372.5,605.2h4.5v3.9h-4.5zM408.5,605.2h4.5v3.9h-4.5zM435.5,605.2h4.5v3.9h-4.5zM449.0,605.2h4.5v3.9h-4.5zM287.0,609.1h4.5v3.9h-4.5zM296.0,609.1h4.5v3.9h-4.5zM309.5,609.1h4.5v3.9h-4.5zM318.5,609.1h4.5v3.9h-4.5zM386.0,609.1h4.5v3.9h-4.5zM395.0,609.1h4.5v3.9h-4.5zM431.0,609.1h4.5v3.9h-4.5zM287.0,613.0h4.5v3.9h-4.5zM323.0,613.0h4.5v3.9h-4.5zM341.0,613.0h13.5v3.9h-13.5zM417.5,613.0h4.5v3.9h-4.5zM309.5,616.9h4.5v3.9h-4.5zM350.0,616.9h9.0v3.9h-9.0zM413.0,616.9h4.5v3.9h-4.5zM444.5,616.9h4.5v3.9h-4.5zM458.0,616.9h4.5v3.9h-4.5zM300.5,620.8h4.5v3.9h-4.5zM309.5,620.8h4.5v3.9h-4.5zM332.0,620.8h4.5v3.9h-4.5zM363.5,620.8h4.5v3.9h-4.5zM408.5,620.8h9.0v3.9h-9.0zM440.0,620.8h4.5v3.9h-4.5zM287.0,624.7h4.5v3.9h-4.5zM327.5,624.7h4.5v3.9h-4.5zM363.5,624.7h4.5v3.9h-4.5zM377.0,624.7h9.0v3.9h-9.0zM395.0,624.7h4.5v3.9h-4.5zM408.5,624.7h9.0v3.9h-9.0zM287.0,628.6h13.5v3.9h-13.5zM377.0,628.6h4.5v3.9h-4.5zM399.5,628.6h13.5v3.9h-13.5zM417.5,628.6h4.5v3.9h-4.5zM444.5,628.6h4.5v3.9h-4.5zM309.5,632.5h4.5v3.9h-4.5zM323.0,632.5h4.5v3.9h-4.5zM341.0,632.5h9.0v3.9h-9.0zM363.5,632.5h4.5v3.9h-4.5zM440.0,632.5h9.0v3.9h-9.0zM314.0,636.4h4.5v3.9h-4.5zM336.5,636.4h4.5v3.9h-4.5zM395.0,636.4h4.5v3.9h-4.5zM408.5,636.4h4.5v3.9h-4.5zM435.5,636.4h4.5v3.9h-4.5zM291.5,640.3h4.5v3.9h-4.5zM327.5,640.3h4.5v3.9h-4.5zM354.5,640.3h4.5v3.9h-4.5zM363.5,640.3h9.0v3.9h-9.0zM386.0,640.3h4.5v3.9h-4.5zM399.5,640.3h4.5v3.9h-4.5zM408.5,640.3h9.0v3.9h-9.0zM440.0,640.3h9.0v3.9h-9.0zM278.0,644.2h4.5v3.9h-4.5zM287.0,644.2h13.5v3.9h-13.5zM318.5,644.2h4.5v3.9h-4.5zM372.5,644.2h4.5v3.9h-4.5zM413.0,644.2h4.5v3.9h-4.5zM296.0,648.1h4.5v3.9h-4.5zM314.0,648.1h4.5v3.9h-4.5zM350.0,648.1h9.0v3.9h-9.0zM404.0,648.1h4.5v3.9h-4.5zM417.5,648.1h4.5v3.9h-4.5zM458.0,648.1h4.5v3.9h-4.5zM291.5,652.0h4.5v3.9h-4.5zM404.0,652.0h4.5v3.9h-4.5zM431.0,652.0h4.5v3.9h-4.5z" fill="rgb(207,207,207)" shape-rendering="crispEdges"/><path d="M282.5,441.4h4.5v3.9h-4.5zM309.5,441.4h4.5v3.9h-4.5zM327.5,441.4h4.5v3.9h-4.5zM350.0,441.4h4.5v3.9h-4.5zM390.5,441.4h4.5v3.9h-4.5zM449.0,441.4h4.5v3.9h-4.5zM359.0,445.3h4.5v3.9h-4.5zM426.5,445.3h4.5v3.9h-4.5zM444.5,445.3h4.5v3.9h-4.5zM323.0,449.2h4.5v3.9h-4.5zM399.5,449.2h4.5v3.9h-4.5zM453.5,449.2h4.5v3.9h-4.5zM327.5,453.1h4.5v3.9h-4.5zM386.0,453.1h4.5v3.9h-4.5zM399.5,453.1h4.5v3.9h-4.5zM413.0,453.1h4.5v3.9h-4.5zM363.5,457.0h4.5v3.9h-4.5zM453.5,457.0h4.5v3.9h-4.5zM282.5,460.9h4.5v3.9h-4.5zM300.5,460.9h4.5v3.9h-4.5zM327.5,460.9h4.5v3.9h-4.5zM287.0,464.8h4.5v3.9h-4.5zM300.5,464.8h4.5v3.9h-4.5zM336.5,464.8h9.0v3.9h-9.0zM350.0,464.8h4.5v3.9h-4.5zM368.0,464.8h4.5v3.9h-4.5zM390.5,464.8h4.5v3.9h-4.5zM399.5,464.8h4.5v3.9h-4.5zM296.0,468.7h4.5v3.9h-4.5zM363.5,468.7h4.5v3.9h-4.5zM413.0,468.7h4.5v3.9h-4.5zM422.0,468.7h4.5v3.9h-4.5zM444.5,468.7h4.5v3.9h-4.5zM318.5,472.6h4.5v3.9h-4.5zM345.5,472.6h4.5v3.9h-4.5zM449.0,472.6h9.0v3.9h-9.0zM282.5,476.5h4.5v3.9h-4.5zM296.0,476.5h4.5v3.9h-4.5zM309.5,476.5h4.5v3.9h-4.5zM327.5,476.5h4.5v3.9h-4.5zM336.5,476.5h4.5v3.9h-4.5zM345.5,476.5h4.5v3.9h-4.5zM359.0,476.5h4.5v3.9h-4.5zM390.5,476.5h4.5v3.9h-4.5zM399.5,476.5h4.5v3.9h-4.5zM426.5,476.5h4.5v3.9h-4.5zM323.0,480.4h4.5v3.9h-4.5zM341.0,480.4h4.5v3.9h-4.5zM377.0,480.4h4.5v3.9h-4.5zM399.5,480.4h4.5v3.9h-4.5zM377.0,484.3h4.5v3.9h-4.5zM390.5,484.3h4.5v3.9h-4.5zM426.5,484.3h4.5v3.9h-4.5zM453.5,484.3h4.5v3.9h-4.5zM278.0,488.2h4.5v3.9h-4.5zM305.0,488.2h4.5v3.9h-4.5zM327.5,488.2h4.5v3.9h-4.5zM377.0,488.2h4.5v3.9h-4.5zM422.0,488.2h4.5v3.9h-4.5zM327.5,492.1h4.5v3.9h-4.5zM345.5,492.1h4.5v3.9h-4.5zM408.5,492.1h4.5v3.9h-4.5zM449.0,492.1h4.5v3.9h-4.5zM458.0,492.1h4.5v3.9h-4.5zM327.5,496.0h4.5v3.9h-4.5zM341.0,496.0h4.5v3.9h-4.5zM350.0,496.0h4.5v3.9h-4.5zM332.0,499.9h4.5v3.9h-4.5zM399.5,499.9h4.5v3.9h-4.5zM449.0,499.9h4.5v3.9h-4.5zM282.5,503.8h4.5v3.9h-4.5zM318.5,503.8h4.5v3.9h-4.5zM354.5,503.8h13.5v3.9h-13.5zM287.0,507.7h4.5v3.9h-4.5zM345.5,507.7h4.5v3.9h-4.5zM435.5,507.7h13.5v3.9h-13.5zM458.0,507.7h4.5v3.9h-4.5zM291.5,511.6h4.5v3.9h-4.5zM318.5,511.6h4.5v3.9h-4.5zM332.0,511.6h4.5v3.9h-4.5zM372.5,511.6h4.5v3.9h-4.5zM287.0,515.5h4.5v3.9h-4.5zM363.5,515.5h4.5v3.9h-4.5zM372.5,515.5h4.5v3.9h-4.5zM413.0,515.5h4.5v3.9h-4.5zM278.0,519.4h13.5v3.9h-13.5zM300.5,519.4h4.5v3.9h-4.5zM354.5,519.4h4.5v3.9h-4.5zM377.0,519.4h4.5v3.9h-4.5zM386.0,519.4h4.5v3.9h-4.5zM426.5,519.4h4.5v3.9h-4.5zM435.5,519.4h9.0v3.9h-9.0zM305.0,523.3h4.5v3.9h-4.5zM426.5,523.3h4.5v3.9h-4.5zM300.5,527.2h4.5v3.9h-4.5zM318.5,527.2h4.5v3.9h-4.5zM336.5,527.2h4.5v3.9h-4.5zM350.0,527.2h4.5v3.9h-4.5zM449.0,527.2h9.0v3.9h-9.0zM291.5,531.1h4.5v3.9h-4.5zM363.5,531.1h4.5v3.9h-4.5zM282.5,535.0h4.5v3.9h-4.5zM350.0,535.0h4.5v3.9h-4.5zM345.5,538.9h4.5v3.9h-4.5zM359.0,538.9h4.5v3.9h-4.5zM278.0,542.8h4.5v3.9h-4.5zM287.0,542.8h4.5v3.9h-4.5zM417.5,542.8h4.5v3.9h-4.5zM435.5,542.8h4.5v3.9h-4.5zM381.5,546.7h4.5v3.9h-4.5zM435.5,546.7h9.0v3.9h-9.0zM314.0,550.6h4.5v3.9h-4.5zM440.0,550.6h4.5v3.9h-4.5zM399.5,554.5h4.5v3.9h-4.5zM417.5,554.5h4.5v3.9h-4.5zM426.5,554.5h4.5v3.9h-4.5zM282.5,558.4h4.5v3.9h-4.5zM318.5,558.4h4.5v3.9h-4.5zM336.5,558.4h4.5v3.9h-4.5zM417.5,558.4h4.5v3.9h-4.5zM323.0,562.3h4.5v3.9h-4.5zM413.0,562.3h4.5v3.9h-4.5zM444.5,562.3h4.5v3.9h-4.5zM282.5,566.2h4.5v3.9h-4.5zM404.0,566.2h4.5v3.9h-4.5zM453.5,566.2h4.5v3.9h-4.5zM345.5,570.1h4.5v3.9h-4.5zM444.5,570.1h4.5v3.9h-4.5zM291.5,574.0h4.5v3.9h-4.5zM332.0,574.0h9.0v3.9h-9.0zM282.5,577.9h4.5v3.9h-4.5zM300.5,577.9h4.5v3.9h-4.5zM314.0,577.9h4.5v3.9h-4.5zM404.0,577.9h9.0v3.9h-9.0zM422.0,577.9h4.5v3.9h-4.5zM449.0,577.9h4.5v3.9h-4.5zM300.5,581.8h9.0v3.9h-9.0zM345.5,581.8h4.5v3.9h-4.5zM408.5,581.8h9.0v3.9h-9.0zM278.0,585.7h9.0v3.9h-9.0zM305.0,585.7h4.5v3.9h-4.5zM341.0,585.7h4.5v3.9h-4.5zM359.0,585.7h4.5v3.9h-4.5zM431.0,585.7h4.5v3.9h-4.5zM287.0,589.6h4.5v3.9h-4.5zM350.0,589.6h4.5v3.9h-4.5zM381.5,589.6h4.5v3.9h-4.5zM408.5,589.6h4.5v3.9h-4.5zM440.0,589.6h4.5v3.9h-4.5zM300.5,593.5h4.5v3.9h-4.5zM323.0,593.5h4.5v3.9h-4.5zM332.0,593.5h4.5v3.9h-4.5zM350.0,593.5h4.5v3.9h-4.5zM359.0,593.5h4.5v3.9h-4.5zM399.5,593.5h4.5v3.9h-4.5zM435.5,593.5h4.5v3.9h-4.5zM318.5,597.4h4.5v3.9h-4.5zM309.5,601.3h4.5v3.9h-4.5zM377.0,601.3h4.5v3.9h-4.5zM435.5,601.3h4.5v3.9h-4.5zM291.5,605.2h4.5v3.9h-4.5zM314.0,605.2h4.5v3.9h-4.5zM332.0,605.2h4.5v3.9h-4.5zM458.0,605.2h4.5v3.9h-4.5zM291.5,609.1h4.5v3.9h-4.5zM341.0,609.1h13.5v3.9h-13.5zM417.5,609.1h4.5v3.9h-4.5zM444.5,609.1h4.5v3.9h-4.5zM458.0,609.1h4.5v3.9h-4.5zM296.0,613.0h4.5v3.9h-4.5zM305.0,613.0h4.5v3.9h-4.5zM314.0,613.0h4.5v3.9h-4.5zM368.0,613.0h4.5v3.9h-4.5zM377.0,613.0h4.5v3.9h-4.5zM408.5,613.0h4.5v3.9h-4.5zM287.0,616.9h4.5v3.9h-4.5zM296.0,616.9h4.5v3.9h-4.5zM408.5,616.9h4.5v3.9h-4.5zM440.0,616.9h4.5v3.9h-4.5zM296.0,620.8h4.5v3.9h-4.5zM305.0,620.8h4.5v3.9h-4.5zM314.0,620.8h4.5v3.9h-4.5zM345.5,620.8h9.0v3.9h-9.0zM422.0,620.8h4.5v3.9h-4.5zM435.5,620.8h4.5v3.9h-4.5zM449.0,624.7h4.5v3.9h-4.5zM278.0,628.6h4.5v3.9h-4.5zM426.5,628.6h4.5v3.9h-4.5zM399.5,632.5h4.5v3.9h-4.5zM408.5,632.5h4.5v3.9h-4.5zM422.0,632.5h4.5v3.9h-4.5zM449.0,632.5h9.0v3.9h-9.0zM296.0,640.3h4.5v3.9h-4.5zM377.0,640.3h4.5v3.9h-4.5zM395.0,640.3h4.5v3.9h-4.5zM458.0,640.3h4.5v3.9h-4.5zM332.0,644.2h9.0v3.9h-9.0zM345.5,644.2h4.5v3.9h-4.5zM354.5,644.2h4.5v3.9h-4.5zM368.0,644.2h4.5v3.9h-4.5zM404.0,644.2h4.5v3.9h-4.5zM417.5,644.2h4.5v3.9h-4.5zM453.5,644.2h4.5v3.9h-4.5zM282.5,648.1h4.5v3.9h-4.5zM305.0,648.1h4.5v3.9h-4.5zM359.0,648.1h4.5v3.9h-4.5zM372.5,648.1h9.0v3.9h-9.0zM422.0,648.1h4.5v3.9h-4.5zM440.0,648.1h4.5v3.9h-4.5zM332.0,652.0h4.5v3.9h-4.5zM350.0,652.0h4.5v3.9h-4.5zM386.0,652.0h4.5v3.9h-4.5zM435.5,652.0h4.5v3.9h-4.5z" fill="rgb(221,221,221)" shape-rendering="crispEdges"/><path d="M309.5,437.5h4.5v3.9h-4.5zM332.0,437.5h4.5v3.9h-4.5zM444.5,437.5h4.5v3.9h-4.5zM291.5,441.4h4.5v3.9h-4.5zM305.0,441.4h4.5v3.9h-4.5zM323.0,441.4h4.5v3.9h-4.5zM332.0,441.4h4.5v3.9h-4.5zM458.0,441.4h4.5v3.9h-4.5zM309.5,445.3h4.5v3.9h-4.5zM453.5,445.3h9.0v3.9h-9.0zM327.5,449.2h9.0v3.9h-9.0zM359.0,453.1h4.5v3.9h-4.5zM282.5,457.0h9.0v3.9h-9.0zM291.5,460.9h4.5v3.9h-4.5zM404.0,460.9h4.5v3.9h-4.5zM278.0,464.8h4.5v3.9h-4.5zM291.5,464.8h4.5v3.9h-4.5zM332.0,464.8h4.5v3.9h-4.5zM345.5,464.8h4.5v3.9h-4.5zM363.5,464.8h4.5v3.9h-4.5zM413.0,464.8h4.5v3.9h-4.5zM435.5,464.8h4.5v3.9h-4.5zM444.5,464.8h9.0v3.9h-9.0zM287.0,472.6h4.5v3.9h-4.5zM444.5,476.5h4.5v3.9h-4.5zM453.5,476.5h4.5v3.9h-4.5zM287.0,480.4h4.5v3.9h-4.5zM368.0,484.3h4.5v3.9h-4.5zM458.0,484.3h4.5v3.9h-4.5zM323.0,488.2h4.5v3.9h-4.5zM404.0,488.2h4.5v3.9h-4.5zM291.5,499.9h4.5v3.9h-4.5zM318.5,499.9h4.5v3.9h-4.5zM359.0,499.9h4.5v3.9h-4.5zM404.0,499.9h4.5v3.9h-4.5zM314.0,503.8h4.5v3.9h-4.5zM444.5,503.8h4.5v3.9h-4.5zM399.5,507.7h4.5v3.9h-4.5zM417.5,507.7h4.5v3.9h-4.5zM287.0,511.6h4.5v3.9h-4.5zM314.0,511.6h4.5v3.9h-4.5zM368.0,511.6h4.5v3.9h-4.5zM318.5,519.4h4.5v3.9h-4.5zM395.0,519.4h4.5v3.9h-4.5zM453.5,519.4h4.5v3.9h-4.5zM318.5,523.3h4.5v3.9h-4.5zM372.5,523.3h4.5v3.9h-4.5zM386.0,523.3h4.5v3.9h-4.5zM332.0,527.2h4.5v3.9h-4.5zM404.0,527.2h4.5v3.9h-4.5zM318.5,531.1h4.5v3.9h-4.5zM336.5,531.1h4.5v3.9h-4.5zM417.5,535.0h4.5v3.9h-4.5zM444.5,535.0h4.5v3.9h-4.5zM368.0,538.9h4.5v3.9h-4.5zM377.0,542.8h4.5v3.9h-4.5zM413.0,542.8h4.5v3.9h-4.5zM444.5,542.8h9.0v3.9h-9.0zM458.0,542.8h4.5v3.9h-4.5zM453.5,546.7h4.5v3.9h-4.5zM318.5,550.6h4.5v3.9h-4.5zM287.0,554.5h4.5v3.9h-4.5zM314.0,554.5h4.5v3.9h-4.5zM327.5,554.5h4.5v3.9h-4.5zM345.5,554.5h4.5v3.9h-4.5zM408.5,554.5h4.5v3.9h-4.5zM422.0,554.5h4.5v3.9h-4.5zM453.5,554.5h9.0v3.9h-9.0zM305.0,558.4h4.5v3.9h-4.5zM395.0,558.4h4.5v3.9h-4.5zM422.0,562.3h4.5v3.9h-4.5zM291.5,566.2h4.5v3.9h-4.5zM332.0,566.2h4.5v3.9h-4.5zM381.5,566.2h4.5v3.9h-4.5zM305.0,574.0h4.5v3.9h-4.5zM399.5,574.0h4.5v3.9h-4.5zM413.0,574.0h4.5v3.9h-4.5zM444.5,574.0h4.5v3.9h-4.5zM318.5,577.9h4.5v3.9h-4.5zM327.5,577.9h4.5v3.9h-4.5zM350.0,577.9h4.5v3.9h-4.5zM377.0,577.9h4.5v3.9h-4.5zM278.0,581.8h4.5v3.9h-4.5zM291.5,581.8h4.5v3.9h-4.5zM323.0,581.8h4.5v3.9h-4.5zM363.5,581.8h4.5v3.9h-4.5zM377.0,581.8h4.5v3.9h-4.5zM291.5,589.6h4.5v3.9h-4.5zM318.5,589.6h4.5v3.9h-4.5zM327.5,589.6h4.5v3.9h-4.5zM354.5,589.6h4.5v3.9h-4.5zM395.0,589.6h4.5v3.9h-4.5zM413.0,589.6h4.5v3.9h-4.5zM422.0,589.6h4.5v3.9h-4.5zM431.0,589.6h4.5v3.9h-4.5zM363.5,593.5h4.5v3.9h-4.5zM386.0,597.4h4.5v3.9h-4.5zM417.5,597.4h4.5v3.9h-4.5zM323.0,605.2h9.0v3.9h-9.0zM444.5,605.2h4.5v3.9h-4.5zM453.5,605.2h4.5v3.9h-4.5zM314.0,609.1h4.5v3.9h-4.5zM408.5,609.1h4.5v3.9h-4.5zM278.0,613.0h4.5v3.9h-4.5zM318.5,613.0h4.5v3.9h-4.5zM372.5,613.0h4.5v3.9h-4.5zM399.5,613.0h4.5v3.9h-4.5zM332.0,616.9h9.0v3.9h-9.0zM368.0,616.9h4.5v3.9h-4.5zM453.5,616.9h4.5v3.9h-4.5zM341.0,620.8h4.5v3.9h-4.5zM377.0,620.8h9.0v3.9h-9.0zM332.0,624.7h9.0v3.9h-9.0zM359.0,624.7h4.5v3.9h-4.5zM372.5,624.7h4.5v3.9h-4.5zM440.0,624.7h4.5v3.9h-4.5zM354.5,628.6h4.5v3.9h-4.5zM386.0,628.6h4.5v3.9h-4.5zM458.0,628.6h4.5v3.9h-4.5zM314.0,632.5h4.5v3.9h-4.5zM444.5,636.4h4.5v3.9h-4.5zM318.5,640.3h4.5v3.9h-4.5zM417.5,640.3h4.5v3.9h-4.5zM453.5,640.3h4.5v3.9h-4.5zM314.0,644.2h4.5v3.9h-4.5zM350.0,644.2h4.5v3.9h-4.5zM408.5,644.2h4.5v3.9h-4.5zM449.0,644.2h4.5v3.9h-4.5zM458.0,644.2h4.5v3.9h-4.5zM309.5,648.1h4.5v3.9h-4.5zM386.0,648.1h4.5v3.9h-4.5zM444.5,648.1h9.0v3.9h-9.0zM309.5,652.0h4.5v3.9h-4.5zM341.0,652.0h4.5v3.9h-4.5zM363.5,652.0h4.5v3.9h-4.5z" fill="rgb(236,236,236)" shape-rendering="crispEdges"/><pattern id="grid2" patternUnits="userSpaceOnUse" x="278" y="437.5" width="4.5" height="3.9"><rect x="0" y="0" width="0.8" height="3.9" fill="#fff" opacity="0.35"/><rect x="0" y="0" width="4.5" height="0.6" fill="#606060" opacity="0.25"/></pattern><rect x="278" y="437.5" width="184.5" height="217.5" fill="url(#grid2)"/><g fill="none" stroke="#9a4a40" stroke-width="0.7" opacity="0.7"><path d="M381,506 C400,505 425,505 462,512"/><path d="M343,551 C330,565 322,590 330,615 C335,630 340,645 342,655"/><path d="M372,590 C365,605 355,620 350,640"/><path d="M410,600 C420,580 430,560 450,540"/><path d="M300,610 C310,620 320,640 318,655"/></g><path d="M352,508 C356,500 368,498 378,502 C386,510 388,525 384,538 C378,546 364,546 356,540 C350,530 349,518 352,508 Z" fill="#202020" opacity="0.45"/><path d="M326,440 L344,440 L344,464 L334,466 L326,456 Z" fill="#202020" opacity="0.25"/><path d="M341,550 C345,544 355,548 365,556 L382,570 L390,582 C386,588 378,588 370,582 L350,568 C343,562 339,556 341,550 Z" fill="#181818" opacity="0.62"/><path d="M365,588 C372,586 382,592 386,602 C388,610 382,614 374,610 C368,604 364,596 365,588 Z" fill="#202020" opacity="0.45"/><path d="M330,565 C338,562 352,570 358,585 C360,600 350,605 340,598 C332,588 326,575 330,565 Z" fill="#e0e0e0" opacity="0.45"/><path d="M333,464 L345.8,474.2 L356.4,486.9 L368,498.5 L372,501" stroke="#101010" stroke-width="3.6" fill="none"/><path d="M330,442 Q322,447 324,454" stroke="#181818" stroke-width="1.8" fill="none"/><path d="M373.3,447 L383,447 L383,466 L373.3,464 Z" fill="#5a5a5a"/><rect x="376" y="462" width="6" height="2" fill="#b01010"/><path d="M374,498 L378,505 L381,512 L380,522 L378,535" stroke="#d81810" stroke-width="2.6" fill="none"/><path d="M356,508 L360,522 L356,535" stroke="#303030" stroke-width="1.5" fill="none"/><rect x="371" y="515" width="5" height="4" fill="#a8d818"/><rect x="370" y="512" width="8" height="2" fill="#f0c020"/><path d="M366,552 L376,565 L384,575 L389,582" stroke="#202020" stroke-width="2" fill="none"/><path d="M362,556 L372,566 L380,574 L386,582" stroke="#e01808" stroke-width="3.2" fill="none"/><rect x="371" y="566" width="4" height="3" fill="#f0b020"/><path d="M372,586 L380,594 L386,604 L394,614 L402,624 L410,636 L414,645 L417,652" stroke="#e01808" stroke-width="2.4" fill="none"/><ellipse cx="394" cy="615" rx="4" ry="3" fill="#ff1a08"/></g><path d="M344.8,437 L382.8,437 L382.8,446.8 L373.3,451 L373.3,463.7 L382.8,465.8 L388,474.2 L387,482.7 L380.7,491 L374.4,494.3 L370,498.5 L367,495.4 L356.4,484.8 L346.9,472 L342.1,463.7 Z" fill="#fff"/><clipPath id="mgc"><rect x="548.8" y="437.7" width="194" height="209"/></clipPath><g clip-path="url(#mgc)"><path d="M562.8,437.7h3.5v3.5h-3.5zM618.8,444.7h3.5v3.5h-3.5zM555.8,451.7h3.5v3.5h-3.5zM566.3,451.7h3.5v3.5h-3.5zM622.3,455.2h3.5v3.5h-3.5zM632.8,455.2h3.5v3.5h-3.5zM622.3,458.7h3.5v3.5h-3.5zM660.8,458.7h3.5v3.5h-3.5zM688.8,465.7h3.5v3.5h-3.5zM716.8,465.7h7.0v3.5h-7.0zM625.8,469.2h3.5v3.5h-3.5zM678.3,469.2h7.0v3.5h-7.0zM688.8,469.2h3.5v3.5h-3.5zM720.3,469.2h3.5v3.5h-3.5zM629.3,476.2h3.5v3.5h-3.5zM636.3,476.2h3.5v3.5h-3.5zM629.3,479.7h10.5v3.5h-10.5zM650.3,479.7h3.5v3.5h-3.5zM636.3,483.2h3.5v3.5h-3.5zM643.3,483.2h3.5v3.5h-3.5zM737.8,483.2h3.5v3.5h-3.5zM552.3,486.7h3.5v3.5h-3.5zM615.3,500.7h10.5v3.5h-10.5zM615.3,504.2h7.0v3.5h-7.0zM699.3,504.2h3.5v3.5h-3.5zM615.3,507.7h7.0v3.5h-7.0zM615.3,511.2h10.5v3.5h-10.5zM604.8,514.7h3.5v3.5h-3.5zM615.3,514.7h3.5v3.5h-3.5zM713.3,514.7h3.5v3.5h-3.5zM615.3,518.2h3.5v3.5h-3.5zM604.8,521.7h3.5v3.5h-3.5zM611.8,521.7h3.5v3.5h-3.5zM625.8,521.7h3.5v3.5h-3.5zM632.8,521.7h3.5v3.5h-3.5zM741.3,521.7h3.5v3.5h-3.5zM622.3,525.2h3.5v3.5h-3.5zM632.8,525.2h7.0v3.5h-7.0zM555.8,528.7h3.5v3.5h-3.5zM629.3,528.7h3.5v3.5h-3.5zM741.3,528.7h3.5v3.5h-3.5zM559.3,532.2h7.0v3.5h-7.0zM562.8,535.7h3.5v3.5h-3.5zM569.8,535.7h7.0v3.5h-7.0zM552.3,539.2h3.5v3.5h-3.5zM566.3,539.2h3.5v3.5h-3.5zM583.8,539.2h3.5v3.5h-3.5zM573.3,542.7h3.5v3.5h-3.5zM580.3,546.2h3.5v3.5h-3.5zM618.8,546.2h3.5v3.5h-3.5zM660.8,546.2h3.5v3.5h-3.5zM611.8,549.7h3.5v3.5h-3.5zM618.8,549.7h3.5v3.5h-3.5zM615.3,553.2h3.5v3.5h-3.5zM667.8,553.2h3.5v3.5h-3.5zM674.8,553.2h3.5v3.5h-3.5zM723.8,553.2h3.5v3.5h-3.5zM618.8,556.7h3.5v3.5h-3.5zM657.3,556.7h3.5v3.5h-3.5zM674.8,556.7h3.5v3.5h-3.5zM674.8,560.2h3.5v3.5h-3.5zM727.3,560.2h3.5v3.5h-3.5zM632.8,563.7h3.5v3.5h-3.5zM650.3,563.7h3.5v3.5h-3.5zM713.3,563.7h3.5v3.5h-3.5zM699.3,570.7h7.0v3.5h-7.0zM569.8,577.7h3.5v3.5h-3.5zM555.8,581.2h3.5v3.5h-3.5zM566.3,581.2h10.5v3.5h-10.5zM580.3,581.2h10.5v3.5h-10.5zM559.3,584.7h3.5v3.5h-3.5zM566.3,584.7h3.5v3.5h-3.5zM573.3,591.7h3.5v3.5h-3.5zM702.8,591.7h3.5v3.5h-3.5zM573.3,595.2h3.5v3.5h-3.5zM580.3,595.2h3.5v3.5h-3.5zM727.3,595.2h3.5v3.5h-3.5zM562.8,598.7h3.5v3.5h-3.5zM569.8,598.7h10.5v3.5h-10.5zM608.3,598.7h3.5v3.5h-3.5zM587.3,602.2h3.5v3.5h-3.5zM678.3,602.2h7.0v3.5h-7.0zM576.8,605.7h3.5v3.5h-3.5zM604.8,605.7h3.5v3.5h-3.5zM688.8,605.7h3.5v3.5h-3.5zM576.8,612.7h3.5v3.5h-3.5zM566.3,616.2h3.5v3.5h-3.5zM576.8,616.2h3.5v3.5h-3.5zM580.3,619.7h3.5v3.5h-3.5zM594.3,619.7h3.5v3.5h-3.5zM615.3,623.2h3.5v3.5h-3.5zM639.8,623.2h3.5v3.5h-3.5zM636.3,630.2h3.5v3.5h-3.5zM646.8,633.7h3.5v3.5h-3.5zM548.8,637.2h3.5v3.5h-3.5zM548.8,640.7h3.5v3.5h-3.5zM548.8,644.2h7.0v3.5h-7.0z" fill="rgb(146,146,146)" shape-rendering="crispEdges"/><path d="M597.8,437.7h3.5v3.5h-3.5zM604.8,437.7h3.5v3.5h-3.5zM622.3,437.7h7.0v3.5h-7.0zM688.8,437.7h3.5v3.5h-3.5zM695.8,437.7h3.5v3.5h-3.5zM709.8,437.7h3.5v3.5h-3.5zM716.8,437.7h7.0v3.5h-7.0zM730.8,437.7h7.0v3.5h-7.0zM741.3,437.7h3.5v3.5h-3.5zM587.3,441.2h3.5v3.5h-3.5zM594.3,441.2h3.5v3.5h-3.5zM608.3,441.2h3.5v3.5h-3.5zM615.3,441.2h3.5v3.5h-3.5zM622.3,441.2h7.0v3.5h-7.0zM695.8,441.2h7.0v3.5h-7.0zM730.8,441.2h3.5v3.5h-3.5zM737.8,441.2h7.0v3.5h-7.0zM552.3,444.7h3.5v3.5h-3.5zM601.3,444.7h3.5v3.5h-3.5zM608.3,444.7h10.5v3.5h-10.5zM622.3,444.7h3.5v3.5h-3.5zM629.3,444.7h3.5v3.5h-3.5zM643.3,444.7h3.5v3.5h-3.5zM685.3,444.7h7.0v3.5h-7.0zM730.8,444.7h3.5v3.5h-3.5zM559.3,448.2h7.0v3.5h-7.0zM587.3,448.2h3.5v3.5h-3.5zM611.8,448.2h17.5v3.5h-17.5zM664.3,448.2h3.5v3.5h-3.5zM699.3,448.2h7.0v3.5h-7.0zM548.8,451.7h7.0v3.5h-7.0zM559.3,451.7h7.0v3.5h-7.0zM569.8,451.7h3.5v3.5h-3.5zM583.8,451.7h3.5v3.5h-3.5zM615.3,451.7h28.0v3.5h-28.0zM653.8,451.7h3.5v3.5h-3.5zM660.8,451.7h3.5v3.5h-3.5zM548.8,455.2h3.5v3.5h-3.5zM555.8,455.2h3.5v3.5h-3.5zM562.8,455.2h3.5v3.5h-3.5zM569.8,455.2h3.5v3.5h-3.5zM611.8,455.2h3.5v3.5h-3.5zM618.8,455.2h3.5v3.5h-3.5zM625.8,455.2h7.0v3.5h-7.0zM657.3,455.2h3.5v3.5h-3.5zM688.8,455.2h3.5v3.5h-3.5zM713.3,455.2h3.5v3.5h-3.5zM734.3,455.2h3.5v3.5h-3.5zM552.3,458.7h3.5v3.5h-3.5zM559.3,458.7h3.5v3.5h-3.5zM573.3,458.7h3.5v3.5h-3.5zM590.8,458.7h3.5v3.5h-3.5zM604.8,458.7h3.5v3.5h-3.5zM618.8,458.7h3.5v3.5h-3.5zM699.3,458.7h3.5v3.5h-3.5zM709.8,458.7h7.0v3.5h-7.0zM741.3,458.7h3.5v3.5h-3.5zM566.3,462.2h3.5v3.5h-3.5zM597.8,462.2h7.0v3.5h-7.0zM611.8,462.2h3.5v3.5h-3.5zM618.8,462.2h7.0v3.5h-7.0zM639.8,462.2h7.0v3.5h-7.0zM657.3,462.2h3.5v3.5h-3.5zM678.3,462.2h3.5v3.5h-3.5zM685.3,462.2h7.0v3.5h-7.0zM699.3,462.2h3.5v3.5h-3.5zM709.8,462.2h3.5v3.5h-3.5zM720.3,462.2h3.5v3.5h-3.5zM730.8,462.2h7.0v3.5h-7.0zM741.3,462.2h3.5v3.5h-3.5zM615.3,465.7h7.0v3.5h-7.0zM639.8,465.7h3.5v3.5h-3.5zM660.8,465.7h24.5v3.5h-24.5zM695.8,465.7h3.5v3.5h-3.5zM730.8,465.7h3.5v3.5h-3.5zM741.3,465.7h3.5v3.5h-3.5zM601.3,469.2h3.5v3.5h-3.5zM608.3,469.2h7.0v3.5h-7.0zM622.3,469.2h3.5v3.5h-3.5zM632.8,469.2h3.5v3.5h-3.5zM657.3,469.2h3.5v3.5h-3.5zM667.8,469.2h10.5v3.5h-10.5zM685.3,469.2h3.5v3.5h-3.5zM706.3,469.2h3.5v3.5h-3.5zM730.8,469.2h3.5v3.5h-3.5zM737.8,469.2h7.0v3.5h-7.0zM548.8,472.7h3.5v3.5h-3.5zM587.3,472.7h3.5v3.5h-3.5zM604.8,472.7h3.5v3.5h-3.5zM611.8,472.7h3.5v3.5h-3.5zM622.3,472.7h3.5v3.5h-3.5zM629.3,472.7h24.5v3.5h-24.5zM657.3,472.7h3.5v3.5h-3.5zM671.3,472.7h7.0v3.5h-7.0zM681.8,472.7h10.5v3.5h-10.5zM730.8,472.7h10.5v3.5h-10.5zM601.3,476.2h3.5v3.5h-3.5zM632.8,476.2h3.5v3.5h-3.5zM639.8,476.2h17.5v3.5h-17.5zM671.3,476.2h7.0v3.5h-7.0zM681.8,476.2h3.5v3.5h-3.5zM737.8,476.2h3.5v3.5h-3.5zM566.3,479.7h3.5v3.5h-3.5zM625.8,479.7h3.5v3.5h-3.5zM639.8,479.7h3.5v3.5h-3.5zM664.3,479.7h3.5v3.5h-3.5zM678.3,479.7h7.0v3.5h-7.0zM730.8,479.7h10.5v3.5h-10.5zM580.3,483.2h7.0v3.5h-7.0zM597.8,483.2h3.5v3.5h-3.5zM604.8,483.2h10.5v3.5h-10.5zM622.3,483.2h3.5v3.5h-3.5zM632.8,483.2h3.5v3.5h-3.5zM639.8,483.2h3.5v3.5h-3.5zM674.8,483.2h3.5v3.5h-3.5zM681.8,483.2h3.5v3.5h-3.5zM730.8,483.2h7.0v3.5h-7.0zM741.3,483.2h3.5v3.5h-3.5zM569.8,486.7h14.0v3.5h-14.0zM590.8,486.7h3.5v3.5h-3.5zM615.3,486.7h3.5v3.5h-3.5zM636.3,486.7h7.0v3.5h-7.0zM646.8,486.7h3.5v3.5h-3.5zM653.8,486.7h3.5v3.5h-3.5zM685.3,486.7h3.5v3.5h-3.5zM702.8,486.7h3.5v3.5h-3.5zM730.8,486.7h3.5v3.5h-3.5zM562.8,490.2h3.5v3.5h-3.5zM573.3,490.2h10.5v3.5h-10.5zM594.3,490.2h3.5v3.5h-3.5zM604.8,490.2h7.0v3.5h-7.0zM615.3,490.2h3.5v3.5h-3.5zM643.3,490.2h3.5v3.5h-3.5zM657.3,490.2h7.0v3.5h-7.0zM678.3,490.2h3.5v3.5h-3.5zM695.8,490.2h3.5v3.5h-3.5zM727.3,490.2h3.5v3.5h-3.5zM734.3,490.2h10.5v3.5h-10.5zM569.8,493.7h3.5v3.5h-3.5zM576.8,493.7h3.5v3.5h-3.5zM601.3,493.7h3.5v3.5h-3.5zM608.3,493.7h7.0v3.5h-7.0zM622.3,493.7h7.0v3.5h-7.0zM657.3,493.7h7.0v3.5h-7.0zM681.8,493.7h3.5v3.5h-3.5zM695.8,493.7h3.5v3.5h-3.5zM709.8,493.7h10.5v3.5h-10.5zM730.8,493.7h7.0v3.5h-7.0zM741.3,493.7h3.5v3.5h-3.5zM552.3,497.2h3.5v3.5h-3.5zM569.8,497.2h3.5v3.5h-3.5zM576.8,497.2h7.0v3.5h-7.0zM601.3,497.2h3.5v3.5h-3.5zM622.3,497.2h3.5v3.5h-3.5zM650.3,497.2h3.5v3.5h-3.5zM671.3,497.2h3.5v3.5h-3.5zM713.3,497.2h7.0v3.5h-7.0zM569.8,500.7h3.5v3.5h-3.5zM625.8,500.7h7.0v3.5h-7.0zM664.3,500.7h7.0v3.5h-7.0zM681.8,500.7h7.0v3.5h-7.0zM695.8,500.7h3.5v3.5h-3.5zM706.3,500.7h7.0v3.5h-7.0zM716.8,500.7h3.5v3.5h-3.5zM734.3,500.7h3.5v3.5h-3.5zM569.8,504.2h3.5v3.5h-3.5zM594.3,504.2h3.5v3.5h-3.5zM608.3,504.2h7.0v3.5h-7.0zM622.3,504.2h3.5v3.5h-3.5zM643.3,504.2h3.5v3.5h-3.5zM695.8,504.2h3.5v3.5h-3.5zM741.3,504.2h3.5v3.5h-3.5zM559.3,507.7h14.0v3.5h-14.0zM611.8,507.7h3.5v3.5h-3.5zM653.8,507.7h3.5v3.5h-3.5zM681.8,507.7h7.0v3.5h-7.0zM720.3,507.7h3.5v3.5h-3.5zM552.3,511.2h3.5v3.5h-3.5zM611.8,511.2h3.5v3.5h-3.5zM632.8,511.2h3.5v3.5h-3.5zM674.8,511.2h3.5v3.5h-3.5zM730.8,511.2h3.5v3.5h-3.5zM737.8,511.2h3.5v3.5h-3.5zM552.3,514.7h3.5v3.5h-3.5zM611.8,514.7h3.5v3.5h-3.5zM618.8,514.7h10.5v3.5h-10.5zM674.8,514.7h3.5v3.5h-3.5zM681.8,514.7h3.5v3.5h-3.5zM706.3,514.7h3.5v3.5h-3.5zM730.8,514.7h3.5v3.5h-3.5zM559.3,518.2h3.5v3.5h-3.5zM566.3,518.2h10.5v3.5h-10.5zM601.3,518.2h3.5v3.5h-3.5zM608.3,518.2h3.5v3.5h-3.5zM618.8,518.2h14.0v3.5h-14.0zM678.3,518.2h3.5v3.5h-3.5zM716.8,518.2h7.0v3.5h-7.0zM562.8,521.7h3.5v3.5h-3.5zM573.3,521.7h7.0v3.5h-7.0zM608.3,521.7h3.5v3.5h-3.5zM615.3,521.7h7.0v3.5h-7.0zM629.3,521.7h3.5v3.5h-3.5zM636.3,521.7h7.0v3.5h-7.0zM667.8,521.7h3.5v3.5h-3.5zM681.8,521.7h3.5v3.5h-3.5zM713.3,521.7h3.5v3.5h-3.5zM723.8,521.7h3.5v3.5h-3.5zM559.3,525.2h10.5v3.5h-10.5zM601.3,525.2h3.5v3.5h-3.5zM608.3,525.2h7.0v3.5h-7.0zM618.8,525.2h3.5v3.5h-3.5zM625.8,525.2h7.0v3.5h-7.0zM660.8,525.2h3.5v3.5h-3.5zM688.8,525.2h3.5v3.5h-3.5zM706.3,525.2h3.5v3.5h-3.5zM716.8,525.2h3.5v3.5h-3.5zM723.8,525.2h3.5v3.5h-3.5zM734.3,525.2h3.5v3.5h-3.5zM741.3,525.2h3.5v3.5h-3.5zM559.3,528.7h7.0v3.5h-7.0zM576.8,528.7h3.5v3.5h-3.5zM597.8,528.7h3.5v3.5h-3.5zM608.3,528.7h7.0v3.5h-7.0zM632.8,528.7h3.5v3.5h-3.5zM639.8,528.7h3.5v3.5h-3.5zM657.3,528.7h3.5v3.5h-3.5zM671.3,528.7h3.5v3.5h-3.5zM702.8,528.7h3.5v3.5h-3.5zM727.3,528.7h3.5v3.5h-3.5zM569.8,532.2h3.5v3.5h-3.5zM576.8,532.2h3.5v3.5h-3.5zM587.3,532.2h3.5v3.5h-3.5zM622.3,532.2h10.5v3.5h-10.5zM636.3,532.2h7.0v3.5h-7.0zM664.3,532.2h7.0v3.5h-7.0zM688.8,532.2h7.0v3.5h-7.0zM720.3,532.2h3.5v3.5h-3.5zM734.3,532.2h7.0v3.5h-7.0zM552.3,535.7h10.5v3.5h-10.5zM566.3,535.7h3.5v3.5h-3.5zM576.8,535.7h3.5v3.5h-3.5zM583.8,535.7h7.0v3.5h-7.0zM625.8,535.7h3.5v3.5h-3.5zM632.8,535.7h3.5v3.5h-3.5zM643.3,535.7h3.5v3.5h-3.5zM702.8,535.7h3.5v3.5h-3.5zM555.8,539.2h10.5v3.5h-10.5zM569.8,539.2h10.5v3.5h-10.5zM594.3,539.2h3.5v3.5h-3.5zM618.8,539.2h3.5v3.5h-3.5zM629.3,539.2h3.5v3.5h-3.5zM681.8,539.2h3.5v3.5h-3.5zM709.8,539.2h3.5v3.5h-3.5zM555.8,542.7h3.5v3.5h-3.5zM566.3,542.7h7.0v3.5h-7.0zM587.3,542.7h3.5v3.5h-3.5zM611.8,542.7h3.5v3.5h-3.5zM618.8,542.7h14.0v3.5h-14.0zM643.3,542.7h3.5v3.5h-3.5zM657.3,542.7h7.0v3.5h-7.0zM667.8,542.7h3.5v3.5h-3.5zM559.3,546.2h21.0v3.5h-21.0zM594.3,546.2h7.0v3.5h-7.0zM622.3,546.2h3.5v3.5h-3.5zM664.3,546.2h3.5v3.5h-3.5zM671.3,546.2h7.0v3.5h-7.0zM699.3,546.2h3.5v3.5h-3.5zM727.3,546.2h7.0v3.5h-7.0zM737.8,546.2h3.5v3.5h-3.5zM562.8,549.7h3.5v3.5h-3.5zM569.8,549.7h10.5v3.5h-10.5zM597.8,549.7h3.5v3.5h-3.5zM608.3,549.7h3.5v3.5h-3.5zM615.3,549.7h3.5v3.5h-3.5zM622.3,549.7h7.0v3.5h-7.0zM657.3,549.7h21.0v3.5h-21.0zM702.8,549.7h3.5v3.5h-3.5zM709.8,549.7h3.5v3.5h-3.5zM727.3,549.7h3.5v3.5h-3.5zM737.8,549.7h3.5v3.5h-3.5zM566.3,553.2h3.5v3.5h-3.5zM587.3,553.2h3.5v3.5h-3.5zM597.8,553.2h3.5v3.5h-3.5zM608.3,553.2h3.5v3.5h-3.5zM618.8,553.2h7.0v3.5h-7.0zM664.3,553.2h3.5v3.5h-3.5zM671.3,553.2h3.5v3.5h-3.5zM678.3,553.2h7.0v3.5h-7.0zM702.8,553.2h14.0v3.5h-14.0zM720.3,553.2h3.5v3.5h-3.5zM727.3,553.2h3.5v3.5h-3.5zM741.3,553.2h3.5v3.5h-3.5zM608.3,556.7h10.5v3.5h-10.5zM622.3,556.7h3.5v3.5h-3.5zM629.3,556.7h3.5v3.5h-3.5zM660.8,556.7h14.0v3.5h-14.0zM702.8,556.7h7.0v3.5h-7.0zM713.3,556.7h3.5v3.5h-3.5zM730.8,556.7h3.5v3.5h-3.5zM548.8,560.2h3.5v3.5h-3.5zM590.8,560.2h10.5v3.5h-10.5zM622.3,560.2h14.0v3.5h-14.0zM639.8,560.2h3.5v3.5h-3.5zM646.8,560.2h3.5v3.5h-3.5zM653.8,560.2h3.5v3.5h-3.5zM660.8,560.2h7.0v3.5h-7.0zM671.3,560.2h3.5v3.5h-3.5zM678.3,560.2h7.0v3.5h-7.0zM695.8,560.2h17.5v3.5h-17.5zM716.8,560.2h7.0v3.5h-7.0zM730.8,560.2h7.0v3.5h-7.0zM608.3,563.7h3.5v3.5h-3.5zM615.3,563.7h3.5v3.5h-3.5zM625.8,563.7h7.0v3.5h-7.0zM636.3,563.7h7.0v3.5h-7.0zM646.8,563.7h3.5v3.5h-3.5zM664.3,563.7h14.0v3.5h-14.0zM695.8,563.7h17.5v3.5h-17.5zM716.8,563.7h17.5v3.5h-17.5zM552.3,567.2h7.0v3.5h-7.0zM566.3,567.2h10.5v3.5h-10.5zM580.3,567.2h7.0v3.5h-7.0zM625.8,567.2h17.5v3.5h-17.5zM646.8,567.2h3.5v3.5h-3.5zM653.8,567.2h10.5v3.5h-10.5zM667.8,567.2h10.5v3.5h-10.5zM685.3,567.2h3.5v3.5h-3.5zM709.8,567.2h3.5v3.5h-3.5zM723.8,567.2h3.5v3.5h-3.5zM552.3,570.7h3.5v3.5h-3.5zM573.3,570.7h3.5v3.5h-3.5zM580.3,570.7h3.5v3.5h-3.5zM597.8,570.7h3.5v3.5h-3.5zM608.3,570.7h3.5v3.5h-3.5zM625.8,570.7h3.5v3.5h-3.5zM632.8,570.7h17.5v3.5h-17.5zM653.8,570.7h21.0v3.5h-21.0zM678.3,570.7h3.5v3.5h-3.5zM695.8,570.7h3.5v3.5h-3.5zM706.3,570.7h3.5v3.5h-3.5zM716.8,570.7h3.5v3.5h-3.5zM552.3,574.2h3.5v3.5h-3.5zM566.3,574.2h3.5v3.5h-3.5zM573.3,574.2h7.0v3.5h-7.0zM583.8,574.2h3.5v3.5h-3.5zM639.8,574.2h3.5v3.5h-3.5zM650.3,574.2h3.5v3.5h-3.5zM657.3,574.2h21.0v3.5h-21.0zM685.3,574.2h3.5v3.5h-3.5zM695.8,574.2h3.5v3.5h-3.5zM702.8,574.2h3.5v3.5h-3.5zM734.3,574.2h3.5v3.5h-3.5zM741.3,574.2h3.5v3.5h-3.5zM562.8,577.7h7.0v3.5h-7.0zM573.3,577.7h10.5v3.5h-10.5zM629.3,577.7h7.0v3.5h-7.0zM639.8,577.7h3.5v3.5h-3.5zM657.3,577.7h7.0v3.5h-7.0zM685.3,577.7h7.0v3.5h-7.0zM562.8,581.2h3.5v3.5h-3.5zM576.8,581.2h3.5v3.5h-3.5zM590.8,581.2h10.5v3.5h-10.5zM615.3,581.2h3.5v3.5h-3.5zM625.8,581.2h3.5v3.5h-3.5zM660.8,581.2h10.5v3.5h-10.5zM685.3,581.2h3.5v3.5h-3.5zM695.8,581.2h3.5v3.5h-3.5zM702.8,581.2h3.5v3.5h-3.5zM730.8,581.2h3.5v3.5h-3.5zM562.8,584.7h3.5v3.5h-3.5zM576.8,584.7h21.0v3.5h-21.0zM625.8,584.7h3.5v3.5h-3.5zM646.8,584.7h7.0v3.5h-7.0zM657.3,584.7h3.5v3.5h-3.5zM664.3,584.7h3.5v3.5h-3.5zM671.3,584.7h7.0v3.5h-7.0zM681.8,584.7h7.0v3.5h-7.0zM692.3,584.7h10.5v3.5h-10.5zM706.3,584.7h7.0v3.5h-7.0zM730.8,584.7h10.5v3.5h-10.5zM566.3,588.2h21.0v3.5h-21.0zM594.3,588.2h3.5v3.5h-3.5zM611.8,588.2h14.0v3.5h-14.0zM657.3,588.2h3.5v3.5h-3.5zM667.8,588.2h10.5v3.5h-10.5zM702.8,588.2h3.5v3.5h-3.5zM727.3,588.2h7.0v3.5h-7.0zM737.8,588.2h7.0v3.5h-7.0zM562.8,591.7h3.5v3.5h-3.5zM569.8,591.7h3.5v3.5h-3.5zM576.8,591.7h24.5v3.5h-24.5zM615.3,591.7h7.0v3.5h-7.0zM660.8,591.7h7.0v3.5h-7.0zM671.3,591.7h3.5v3.5h-3.5zM678.3,591.7h3.5v3.5h-3.5zM699.3,591.7h3.5v3.5h-3.5zM709.8,591.7h3.5v3.5h-3.5zM727.3,591.7h7.0v3.5h-7.0zM737.8,591.7h3.5v3.5h-3.5zM555.8,595.2h7.0v3.5h-7.0zM566.3,595.2h7.0v3.5h-7.0zM583.8,595.2h7.0v3.5h-7.0zM594.3,595.2h3.5v3.5h-3.5zM601.3,595.2h10.5v3.5h-10.5zM622.3,595.2h3.5v3.5h-3.5zM660.8,595.2h7.0v3.5h-7.0zM671.3,595.2h14.0v3.5h-14.0zM688.8,595.2h3.5v3.5h-3.5zM699.3,595.2h10.5v3.5h-10.5zM713.3,595.2h3.5v3.5h-3.5zM723.8,595.2h3.5v3.5h-3.5zM730.8,595.2h14.0v3.5h-14.0zM566.3,598.7h3.5v3.5h-3.5zM580.3,598.7h3.5v3.5h-3.5zM587.3,598.7h3.5v3.5h-3.5zM597.8,598.7h10.5v3.5h-10.5zM615.3,598.7h3.5v3.5h-3.5zM629.3,598.7h3.5v3.5h-3.5zM664.3,598.7h3.5v3.5h-3.5zM671.3,598.7h10.5v3.5h-10.5zM699.3,598.7h10.5v3.5h-10.5zM720.3,598.7h3.5v3.5h-3.5zM730.8,598.7h7.0v3.5h-7.0zM741.3,598.7h3.5v3.5h-3.5zM562.8,602.2h3.5v3.5h-3.5zM569.8,602.2h10.5v3.5h-10.5zM583.8,602.2h3.5v3.5h-3.5zM594.3,602.2h3.5v3.5h-3.5zM604.8,602.2h10.5v3.5h-10.5zM671.3,602.2h7.0v3.5h-7.0zM685.3,602.2h3.5v3.5h-3.5zM692.3,602.2h3.5v3.5h-3.5zM699.3,602.2h10.5v3.5h-10.5zM713.3,602.2h3.5v3.5h-3.5zM727.3,602.2h17.5v3.5h-17.5zM562.8,605.7h7.0v3.5h-7.0zM573.3,605.7h3.5v3.5h-3.5zM580.3,605.7h10.5v3.5h-10.5zM608.3,605.7h7.0v3.5h-7.0zM667.8,605.7h21.0v3.5h-21.0zM692.3,605.7h14.0v3.5h-14.0zM709.8,605.7h3.5v3.5h-3.5zM734.3,605.7h7.0v3.5h-7.0zM562.8,609.2h3.5v3.5h-3.5zM569.8,609.2h24.5v3.5h-24.5zM601.3,609.2h7.0v3.5h-7.0zM611.8,609.2h3.5v3.5h-3.5zM629.3,609.2h3.5v3.5h-3.5zM667.8,609.2h7.0v3.5h-7.0zM678.3,609.2h7.0v3.5h-7.0zM688.8,609.2h10.5v3.5h-10.5zM727.3,609.2h10.5v3.5h-10.5zM548.8,612.7h7.0v3.5h-7.0zM573.3,612.7h3.5v3.5h-3.5zM580.3,612.7h3.5v3.5h-3.5zM590.8,612.7h7.0v3.5h-7.0zM601.3,612.7h3.5v3.5h-3.5zM608.3,612.7h3.5v3.5h-3.5zM667.8,612.7h3.5v3.5h-3.5zM674.8,612.7h3.5v3.5h-3.5zM685.3,612.7h3.5v3.5h-3.5zM699.3,612.7h3.5v3.5h-3.5zM709.8,612.7h3.5v3.5h-3.5zM734.3,612.7h7.0v3.5h-7.0zM559.3,616.2h3.5v3.5h-3.5zM569.8,616.2h3.5v3.5h-3.5zM583.8,616.2h10.5v3.5h-10.5zM601.3,616.2h3.5v3.5h-3.5zM639.8,616.2h3.5v3.5h-3.5zM702.8,616.2h3.5v3.5h-3.5zM727.3,616.2h7.0v3.5h-7.0zM741.3,616.2h3.5v3.5h-3.5zM548.8,619.7h3.5v3.5h-3.5zM573.3,619.7h7.0v3.5h-7.0zM583.8,619.7h3.5v3.5h-3.5zM597.8,619.7h3.5v3.5h-3.5zM650.3,619.7h3.5v3.5h-3.5zM699.3,619.7h3.5v3.5h-3.5zM706.3,619.7h3.5v3.5h-3.5zM730.8,619.7h10.5v3.5h-10.5zM548.8,623.2h3.5v3.5h-3.5zM566.3,623.2h3.5v3.5h-3.5zM580.3,623.2h3.5v3.5h-3.5zM625.8,623.2h3.5v3.5h-3.5zM643.3,623.2h7.0v3.5h-7.0zM699.3,623.2h14.0v3.5h-14.0zM727.3,623.2h3.5v3.5h-3.5zM548.8,626.7h7.0v3.5h-7.0zM573.3,626.7h3.5v3.5h-3.5zM608.3,626.7h3.5v3.5h-3.5zM629.3,626.7h7.0v3.5h-7.0zM643.3,626.7h3.5v3.5h-3.5zM650.3,626.7h3.5v3.5h-3.5zM685.3,626.7h3.5v3.5h-3.5zM699.3,626.7h7.0v3.5h-7.0zM713.3,626.7h3.5v3.5h-3.5zM548.8,630.2h3.5v3.5h-3.5zM555.8,630.2h10.5v3.5h-10.5zM618.8,630.2h3.5v3.5h-3.5zM625.8,630.2h7.0v3.5h-7.0zM639.8,630.2h14.0v3.5h-14.0zM685.3,630.2h3.5v3.5h-3.5zM713.3,630.2h3.5v3.5h-3.5zM741.3,630.2h3.5v3.5h-3.5zM555.8,633.7h3.5v3.5h-3.5zM622.3,633.7h3.5v3.5h-3.5zM632.8,633.7h14.0v3.5h-14.0zM681.8,633.7h7.0v3.5h-7.0zM692.3,633.7h7.0v3.5h-7.0zM552.3,637.2h3.5v3.5h-3.5zM559.3,637.2h3.5v3.5h-3.5zM622.3,637.2h3.5v3.5h-3.5zM632.8,637.2h7.0v3.5h-7.0zM646.8,637.2h3.5v3.5h-3.5zM706.3,637.2h7.0v3.5h-7.0zM590.8,640.7h3.5v3.5h-3.5zM629.3,640.7h10.5v3.5h-10.5zM685.3,640.7h7.0v3.5h-7.0zM699.3,640.7h3.5v3.5h-3.5zM555.8,644.2h3.5v3.5h-3.5zM594.3,644.2h7.0v3.5h-7.0zM604.8,644.2h3.5v3.5h-3.5zM632.8,644.2h3.5v3.5h-3.5zM678.3,644.2h3.5v3.5h-3.5zM685.3,644.2h3.5v3.5h-3.5zM695.8,644.2h3.5v3.5h-3.5zM720.3,644.2h3.5v3.5h-3.5zM730.8,644.2h3.5v3.5h-3.5z" fill="rgb(153,153,153)" shape-rendering="crispEdges"/><path d="M559.3,437.7h3.5v3.5h-3.5zM573.3,437.7h3.5v3.5h-3.5zM583.8,437.7h14.0v3.5h-14.0zM601.3,437.7h3.5v3.5h-3.5zM608.3,437.7h14.0v3.5h-14.0zM629.3,437.7h3.5v3.5h-3.5zM639.8,437.7h7.0v3.5h-7.0zM650.3,437.7h10.5v3.5h-10.5zM667.8,437.7h3.5v3.5h-3.5zM681.8,437.7h7.0v3.5h-7.0zM692.3,437.7h3.5v3.5h-3.5zM706.3,437.7h3.5v3.5h-3.5zM713.3,437.7h3.5v3.5h-3.5zM723.8,437.7h3.5v3.5h-3.5zM552.3,441.2h3.5v3.5h-3.5zM559.3,441.2h7.0v3.5h-7.0zM576.8,441.2h3.5v3.5h-3.5zM583.8,441.2h3.5v3.5h-3.5zM590.8,441.2h3.5v3.5h-3.5zM597.8,441.2h10.5v3.5h-10.5zM611.8,441.2h3.5v3.5h-3.5zM618.8,441.2h3.5v3.5h-3.5zM629.3,441.2h10.5v3.5h-10.5zM643.3,441.2h21.0v3.5h-21.0zM678.3,441.2h17.5v3.5h-17.5zM702.8,441.2h21.0v3.5h-21.0zM727.3,441.2h3.5v3.5h-3.5zM734.3,441.2h3.5v3.5h-3.5zM548.8,444.7h3.5v3.5h-3.5zM555.8,444.7h14.0v3.5h-14.0zM573.3,444.7h3.5v3.5h-3.5zM583.8,444.7h10.5v3.5h-10.5zM597.8,444.7h3.5v3.5h-3.5zM632.8,444.7h10.5v3.5h-10.5zM650.3,444.7h17.5v3.5h-17.5zM671.3,444.7h3.5v3.5h-3.5zM678.3,444.7h3.5v3.5h-3.5zM692.3,444.7h7.0v3.5h-7.0zM702.8,444.7h24.5v3.5h-24.5zM734.3,444.7h10.5v3.5h-10.5zM548.8,448.2h10.5v3.5h-10.5zM566.3,448.2h10.5v3.5h-10.5zM583.8,448.2h3.5v3.5h-3.5zM590.8,448.2h3.5v3.5h-3.5zM601.3,448.2h3.5v3.5h-3.5zM608.3,448.2h3.5v3.5h-3.5zM629.3,448.2h7.0v3.5h-7.0zM639.8,448.2h14.0v3.5h-14.0zM657.3,448.2h7.0v3.5h-7.0zM667.8,448.2h3.5v3.5h-3.5zM678.3,448.2h3.5v3.5h-3.5zM706.3,448.2h3.5v3.5h-3.5zM720.3,448.2h3.5v3.5h-3.5zM737.8,448.2h3.5v3.5h-3.5zM573.3,451.7h7.0v3.5h-7.0zM587.3,451.7h7.0v3.5h-7.0zM597.8,451.7h14.0v3.5h-14.0zM643.3,451.7h3.5v3.5h-3.5zM657.3,451.7h3.5v3.5h-3.5zM664.3,451.7h7.0v3.5h-7.0zM674.8,451.7h7.0v3.5h-7.0zM685.3,451.7h3.5v3.5h-3.5zM695.8,451.7h7.0v3.5h-7.0zM706.3,451.7h7.0v3.5h-7.0zM716.8,451.7h7.0v3.5h-7.0zM730.8,451.7h3.5v3.5h-3.5zM552.3,455.2h3.5v3.5h-3.5zM559.3,455.2h3.5v3.5h-3.5zM566.3,455.2h3.5v3.5h-3.5zM573.3,455.2h17.5v3.5h-17.5zM597.8,455.2h3.5v3.5h-3.5zM604.8,455.2h7.0v3.5h-7.0zM615.3,455.2h3.5v3.5h-3.5zM636.3,455.2h3.5v3.5h-3.5zM643.3,455.2h3.5v3.5h-3.5zM650.3,455.2h7.0v3.5h-7.0zM660.8,455.2h10.5v3.5h-10.5zM678.3,455.2h3.5v3.5h-3.5zM692.3,455.2h21.0v3.5h-21.0zM716.8,455.2h7.0v3.5h-7.0zM730.8,455.2h3.5v3.5h-3.5zM737.8,455.2h3.5v3.5h-3.5zM548.8,458.7h3.5v3.5h-3.5zM555.8,458.7h3.5v3.5h-3.5zM562.8,458.7h10.5v3.5h-10.5zM587.3,458.7h3.5v3.5h-3.5zM594.3,458.7h10.5v3.5h-10.5zM608.3,458.7h10.5v3.5h-10.5zM625.8,458.7h7.0v3.5h-7.0zM636.3,458.7h24.5v3.5h-24.5zM667.8,458.7h10.5v3.5h-10.5zM681.8,458.7h7.0v3.5h-7.0zM692.3,458.7h7.0v3.5h-7.0zM702.8,458.7h3.5v3.5h-3.5zM716.8,458.7h21.0v3.5h-21.0zM555.8,462.2h3.5v3.5h-3.5zM562.8,462.2h3.5v3.5h-3.5zM580.3,462.2h3.5v3.5h-3.5zM587.3,462.2h7.0v3.5h-7.0zM604.8,462.2h7.0v3.5h-7.0zM615.3,462.2h3.5v3.5h-3.5zM625.8,462.2h14.0v3.5h-14.0zM650.3,462.2h7.0v3.5h-7.0zM660.8,462.2h14.0v3.5h-14.0zM681.8,462.2h3.5v3.5h-3.5zM692.3,462.2h7.0v3.5h-7.0zM702.8,462.2h7.0v3.5h-7.0zM713.3,462.2h7.0v3.5h-7.0zM723.8,462.2h7.0v3.5h-7.0zM737.8,462.2h3.5v3.5h-3.5zM559.3,465.7h10.5v3.5h-10.5zM573.3,465.7h10.5v3.5h-10.5zM597.8,465.7h3.5v3.5h-3.5zM608.3,465.7h7.0v3.5h-7.0zM622.3,465.7h10.5v3.5h-10.5zM636.3,465.7h3.5v3.5h-3.5zM643.3,465.7h17.5v3.5h-17.5zM685.3,465.7h3.5v3.5h-3.5zM692.3,465.7h3.5v3.5h-3.5zM713.3,465.7h3.5v3.5h-3.5zM723.8,465.7h7.0v3.5h-7.0zM734.3,465.7h7.0v3.5h-7.0zM555.8,469.2h14.0v3.5h-14.0zM590.8,469.2h3.5v3.5h-3.5zM597.8,469.2h3.5v3.5h-3.5zM604.8,469.2h3.5v3.5h-3.5zM615.3,469.2h7.0v3.5h-7.0zM629.3,469.2h3.5v3.5h-3.5zM636.3,469.2h10.5v3.5h-10.5zM650.3,469.2h7.0v3.5h-7.0zM660.8,469.2h7.0v3.5h-7.0zM692.3,469.2h14.0v3.5h-14.0zM709.8,469.2h10.5v3.5h-10.5zM723.8,469.2h7.0v3.5h-7.0zM734.3,469.2h3.5v3.5h-3.5zM555.8,472.7h14.0v3.5h-14.0zM576.8,472.7h7.0v3.5h-7.0zM597.8,472.7h7.0v3.5h-7.0zM608.3,472.7h3.5v3.5h-3.5zM615.3,472.7h7.0v3.5h-7.0zM625.8,472.7h3.5v3.5h-3.5zM653.8,472.7h3.5v3.5h-3.5zM664.3,472.7h7.0v3.5h-7.0zM678.3,472.7h3.5v3.5h-3.5zM692.3,472.7h3.5v3.5h-3.5zM702.8,472.7h3.5v3.5h-3.5zM716.8,472.7h14.0v3.5h-14.0zM741.3,472.7h3.5v3.5h-3.5zM548.8,476.2h7.0v3.5h-7.0zM559.3,476.2h3.5v3.5h-3.5zM566.3,476.2h14.0v3.5h-14.0zM587.3,476.2h7.0v3.5h-7.0zM597.8,476.2h3.5v3.5h-3.5zM604.8,476.2h10.5v3.5h-10.5zM618.8,476.2h10.5v3.5h-10.5zM657.3,476.2h10.5v3.5h-10.5zM678.3,476.2h3.5v3.5h-3.5zM685.3,476.2h7.0v3.5h-7.0zM695.8,476.2h10.5v3.5h-10.5zM713.3,476.2h3.5v3.5h-3.5zM720.3,476.2h17.5v3.5h-17.5zM741.3,476.2h3.5v3.5h-3.5zM548.8,479.7h17.5v3.5h-17.5zM569.8,479.7h14.0v3.5h-14.0zM590.8,479.7h3.5v3.5h-3.5zM597.8,479.7h14.0v3.5h-14.0zM615.3,479.7h7.0v3.5h-7.0zM643.3,479.7h7.0v3.5h-7.0zM653.8,479.7h7.0v3.5h-7.0zM667.8,479.7h3.5v3.5h-3.5zM674.8,479.7h3.5v3.5h-3.5zM692.3,479.7h3.5v3.5h-3.5zM702.8,479.7h7.0v3.5h-7.0zM741.3,479.7h3.5v3.5h-3.5zM548.8,483.2h7.0v3.5h-7.0zM559.3,483.2h21.0v3.5h-21.0zM590.8,483.2h3.5v3.5h-3.5zM601.3,483.2h3.5v3.5h-3.5zM615.3,483.2h3.5v3.5h-3.5zM625.8,483.2h7.0v3.5h-7.0zM646.8,483.2h7.0v3.5h-7.0zM667.8,483.2h3.5v3.5h-3.5zM678.3,483.2h3.5v3.5h-3.5zM685.3,483.2h7.0v3.5h-7.0zM695.8,483.2h3.5v3.5h-3.5zM723.8,483.2h3.5v3.5h-3.5zM548.8,486.7h3.5v3.5h-3.5zM559.3,486.7h7.0v3.5h-7.0zM594.3,486.7h3.5v3.5h-3.5zM601.3,486.7h3.5v3.5h-3.5zM611.8,486.7h3.5v3.5h-3.5zM622.3,486.7h3.5v3.5h-3.5zM629.3,486.7h3.5v3.5h-3.5zM643.3,486.7h3.5v3.5h-3.5zM650.3,486.7h3.5v3.5h-3.5zM660.8,486.7h24.5v3.5h-24.5zM688.8,486.7h7.0v3.5h-7.0zM699.3,486.7h3.5v3.5h-3.5zM706.3,486.7h3.5v3.5h-3.5zM723.8,486.7h3.5v3.5h-3.5zM734.3,486.7h10.5v3.5h-10.5zM548.8,490.2h10.5v3.5h-10.5zM583.8,490.2h7.0v3.5h-7.0zM597.8,490.2h3.5v3.5h-3.5zM611.8,490.2h3.5v3.5h-3.5zM618.8,490.2h24.5v3.5h-24.5zM646.8,490.2h10.5v3.5h-10.5zM664.3,490.2h14.0v3.5h-14.0zM681.8,490.2h3.5v3.5h-3.5zM688.8,490.2h7.0v3.5h-7.0zM699.3,490.2h28.0v3.5h-28.0zM730.8,490.2h3.5v3.5h-3.5zM548.8,493.7h3.5v3.5h-3.5zM555.8,493.7h7.0v3.5h-7.0zM566.3,493.7h3.5v3.5h-3.5zM573.3,493.7h3.5v3.5h-3.5zM580.3,493.7h10.5v3.5h-10.5zM615.3,493.7h7.0v3.5h-7.0zM629.3,493.7h3.5v3.5h-3.5zM636.3,493.7h3.5v3.5h-3.5zM643.3,493.7h7.0v3.5h-7.0zM664.3,493.7h10.5v3.5h-10.5zM678.3,493.7h3.5v3.5h-3.5zM685.3,493.7h10.5v3.5h-10.5zM702.8,493.7h7.0v3.5h-7.0zM723.8,493.7h7.0v3.5h-7.0zM548.8,497.2h3.5v3.5h-3.5zM566.3,497.2h3.5v3.5h-3.5zM573.3,497.2h3.5v3.5h-3.5zM583.8,497.2h17.5v3.5h-17.5zM604.8,497.2h17.5v3.5h-17.5zM625.8,497.2h17.5v3.5h-17.5zM653.8,497.2h17.5v3.5h-17.5zM674.8,497.2h7.0v3.5h-7.0zM685.3,497.2h17.5v3.5h-17.5zM709.8,497.2h3.5v3.5h-3.5zM720.3,497.2h17.5v3.5h-17.5zM741.3,497.2h3.5v3.5h-3.5zM552.3,500.7h17.5v3.5h-17.5zM573.3,500.7h7.0v3.5h-7.0zM583.8,500.7h7.0v3.5h-7.0zM594.3,500.7h21.0v3.5h-21.0zM636.3,500.7h3.5v3.5h-3.5zM646.8,500.7h3.5v3.5h-3.5zM657.3,500.7h7.0v3.5h-7.0zM671.3,500.7h3.5v3.5h-3.5zM678.3,500.7h3.5v3.5h-3.5zM688.8,500.7h7.0v3.5h-7.0zM699.3,500.7h7.0v3.5h-7.0zM713.3,500.7h3.5v3.5h-3.5zM720.3,500.7h3.5v3.5h-3.5zM737.8,500.7h7.0v3.5h-7.0zM548.8,504.2h3.5v3.5h-3.5zM566.3,504.2h3.5v3.5h-3.5zM576.8,504.2h14.0v3.5h-14.0zM625.8,504.2h3.5v3.5h-3.5zM639.8,504.2h3.5v3.5h-3.5zM646.8,504.2h21.0v3.5h-21.0zM674.8,504.2h21.0v3.5h-21.0zM706.3,504.2h14.0v3.5h-14.0zM723.8,504.2h7.0v3.5h-7.0zM734.3,504.2h7.0v3.5h-7.0zM555.8,507.7h3.5v3.5h-3.5zM573.3,507.7h7.0v3.5h-7.0zM583.8,507.7h3.5v3.5h-3.5zM604.8,507.7h7.0v3.5h-7.0zM622.3,507.7h10.5v3.5h-10.5zM643.3,507.7h10.5v3.5h-10.5zM674.8,507.7h3.5v3.5h-3.5zM688.8,507.7h17.5v3.5h-17.5zM709.8,507.7h10.5v3.5h-10.5zM723.8,507.7h7.0v3.5h-7.0zM734.3,507.7h3.5v3.5h-3.5zM555.8,511.2h17.5v3.5h-17.5zM576.8,511.2h7.0v3.5h-7.0zM601.3,511.2h3.5v3.5h-3.5zM608.3,511.2h3.5v3.5h-3.5zM625.8,511.2h3.5v3.5h-3.5zM636.3,511.2h7.0v3.5h-7.0zM646.8,511.2h7.0v3.5h-7.0zM660.8,511.2h3.5v3.5h-3.5zM667.8,511.2h7.0v3.5h-7.0zM678.3,511.2h21.0v3.5h-21.0zM706.3,511.2h10.5v3.5h-10.5zM720.3,511.2h3.5v3.5h-3.5zM734.3,511.2h3.5v3.5h-3.5zM741.3,511.2h3.5v3.5h-3.5zM548.8,514.7h3.5v3.5h-3.5zM562.8,514.7h7.0v3.5h-7.0zM573.3,514.7h7.0v3.5h-7.0zM583.8,514.7h3.5v3.5h-3.5zM597.8,514.7h7.0v3.5h-7.0zM636.3,514.7h10.5v3.5h-10.5zM650.3,514.7h10.5v3.5h-10.5zM664.3,514.7h3.5v3.5h-3.5zM671.3,514.7h3.5v3.5h-3.5zM702.8,514.7h3.5v3.5h-3.5zM709.8,514.7h3.5v3.5h-3.5zM716.8,514.7h14.0v3.5h-14.0zM734.3,514.7h10.5v3.5h-10.5zM562.8,518.2h3.5v3.5h-3.5zM576.8,518.2h7.0v3.5h-7.0zM594.3,518.2h7.0v3.5h-7.0zM604.8,518.2h3.5v3.5h-3.5zM611.8,518.2h3.5v3.5h-3.5zM632.8,518.2h14.0v3.5h-14.0zM650.3,518.2h3.5v3.5h-3.5zM657.3,518.2h3.5v3.5h-3.5zM671.3,518.2h3.5v3.5h-3.5zM685.3,518.2h10.5v3.5h-10.5zM699.3,518.2h17.5v3.5h-17.5zM723.8,518.2h3.5v3.5h-3.5zM741.3,518.2h3.5v3.5h-3.5zM548.8,521.7h14.0v3.5h-14.0zM569.8,521.7h3.5v3.5h-3.5zM587.3,521.7h3.5v3.5h-3.5zM597.8,521.7h7.0v3.5h-7.0zM622.3,521.7h3.5v3.5h-3.5zM643.3,521.7h3.5v3.5h-3.5zM657.3,521.7h3.5v3.5h-3.5zM664.3,521.7h3.5v3.5h-3.5zM671.3,521.7h7.0v3.5h-7.0zM688.8,521.7h7.0v3.5h-7.0zM699.3,521.7h3.5v3.5h-3.5zM706.3,521.7h7.0v3.5h-7.0zM716.8,521.7h7.0v3.5h-7.0zM727.3,521.7h14.0v3.5h-14.0zM548.8,525.2h10.5v3.5h-10.5zM569.8,525.2h7.0v3.5h-7.0zM583.8,525.2h7.0v3.5h-7.0zM597.8,525.2h3.5v3.5h-3.5zM604.8,525.2h3.5v3.5h-3.5zM615.3,525.2h3.5v3.5h-3.5zM639.8,525.2h3.5v3.5h-3.5zM653.8,525.2h7.0v3.5h-7.0zM664.3,525.2h17.5v3.5h-17.5zM685.3,525.2h3.5v3.5h-3.5zM692.3,525.2h10.5v3.5h-10.5zM709.8,525.2h7.0v3.5h-7.0zM720.3,525.2h3.5v3.5h-3.5zM730.8,525.2h3.5v3.5h-3.5zM737.8,525.2h3.5v3.5h-3.5zM548.8,528.7h7.0v3.5h-7.0zM566.3,528.7h10.5v3.5h-10.5zM580.3,528.7h10.5v3.5h-10.5zM594.3,528.7h3.5v3.5h-3.5zM601.3,528.7h7.0v3.5h-7.0zM615.3,528.7h3.5v3.5h-3.5zM622.3,528.7h7.0v3.5h-7.0zM636.3,528.7h3.5v3.5h-3.5zM646.8,528.7h3.5v3.5h-3.5zM653.8,528.7h3.5v3.5h-3.5zM664.3,528.7h7.0v3.5h-7.0zM678.3,528.7h3.5v3.5h-3.5zM685.3,528.7h3.5v3.5h-3.5zM692.3,528.7h10.5v3.5h-10.5zM706.3,528.7h3.5v3.5h-3.5zM716.8,528.7h3.5v3.5h-3.5zM723.8,528.7h3.5v3.5h-3.5zM730.8,528.7h7.0v3.5h-7.0zM548.8,532.2h10.5v3.5h-10.5zM566.3,532.2h3.5v3.5h-3.5zM573.3,532.2h3.5v3.5h-3.5zM580.3,532.2h7.0v3.5h-7.0zM590.8,532.2h3.5v3.5h-3.5zM597.8,532.2h3.5v3.5h-3.5zM604.8,532.2h14.0v3.5h-14.0zM632.8,532.2h3.5v3.5h-3.5zM643.3,532.2h21.0v3.5h-21.0zM671.3,532.2h7.0v3.5h-7.0zM699.3,532.2h7.0v3.5h-7.0zM716.8,532.2h3.5v3.5h-3.5zM723.8,532.2h3.5v3.5h-3.5zM730.8,532.2h3.5v3.5h-3.5zM741.3,532.2h3.5v3.5h-3.5zM548.8,535.7h3.5v3.5h-3.5zM580.3,535.7h3.5v3.5h-3.5zM590.8,535.7h7.0v3.5h-7.0zM622.3,535.7h3.5v3.5h-3.5zM629.3,535.7h3.5v3.5h-3.5zM636.3,535.7h7.0v3.5h-7.0zM646.8,535.7h3.5v3.5h-3.5zM653.8,535.7h7.0v3.5h-7.0zM664.3,535.7h14.0v3.5h-14.0zM681.8,535.7h7.0v3.5h-7.0zM695.8,535.7h3.5v3.5h-3.5zM730.8,535.7h7.0v3.5h-7.0zM741.3,535.7h3.5v3.5h-3.5zM580.3,539.2h3.5v3.5h-3.5zM587.3,539.2h3.5v3.5h-3.5zM597.8,539.2h10.5v3.5h-10.5zM611.8,539.2h3.5v3.5h-3.5zM622.3,539.2h7.0v3.5h-7.0zM632.8,539.2h3.5v3.5h-3.5zM639.8,539.2h3.5v3.5h-3.5zM653.8,539.2h24.5v3.5h-24.5zM685.3,539.2h3.5v3.5h-3.5zM699.3,539.2h7.0v3.5h-7.0zM713.3,539.2h10.5v3.5h-10.5zM727.3,539.2h3.5v3.5h-3.5zM737.8,539.2h7.0v3.5h-7.0zM548.8,542.7h7.0v3.5h-7.0zM559.3,542.7h7.0v3.5h-7.0zM576.8,542.7h10.5v3.5h-10.5zM594.3,542.7h7.0v3.5h-7.0zM608.3,542.7h3.5v3.5h-3.5zM615.3,542.7h3.5v3.5h-3.5zM632.8,542.7h10.5v3.5h-10.5zM646.8,542.7h3.5v3.5h-3.5zM664.3,542.7h3.5v3.5h-3.5zM671.3,542.7h10.5v3.5h-10.5zM699.3,542.7h7.0v3.5h-7.0zM709.8,542.7h17.5v3.5h-17.5zM730.8,542.7h14.0v3.5h-14.0zM548.8,546.2h3.5v3.5h-3.5zM555.8,546.2h3.5v3.5h-3.5zM583.8,546.2h7.0v3.5h-7.0zM601.3,546.2h7.0v3.5h-7.0zM611.8,546.2h7.0v3.5h-7.0zM625.8,546.2h17.5v3.5h-17.5zM646.8,546.2h3.5v3.5h-3.5zM653.8,546.2h7.0v3.5h-7.0zM667.8,546.2h3.5v3.5h-3.5zM678.3,546.2h10.5v3.5h-10.5zM695.8,546.2h3.5v3.5h-3.5zM702.8,546.2h14.0v3.5h-14.0zM734.3,546.2h3.5v3.5h-3.5zM552.3,549.7h10.5v3.5h-10.5zM566.3,549.7h3.5v3.5h-3.5zM580.3,549.7h10.5v3.5h-10.5zM594.3,549.7h3.5v3.5h-3.5zM601.3,549.7h7.0v3.5h-7.0zM629.3,549.7h7.0v3.5h-7.0zM650.3,549.7h7.0v3.5h-7.0zM678.3,549.7h7.0v3.5h-7.0zM692.3,549.7h7.0v3.5h-7.0zM706.3,549.7h3.5v3.5h-3.5zM713.3,549.7h7.0v3.5h-7.0zM730.8,549.7h7.0v3.5h-7.0zM741.3,549.7h3.5v3.5h-3.5zM555.8,553.2h10.5v3.5h-10.5zM569.8,553.2h14.0v3.5h-14.0zM590.8,553.2h3.5v3.5h-3.5zM601.3,553.2h7.0v3.5h-7.0zM611.8,553.2h3.5v3.5h-3.5zM625.8,553.2h10.5v3.5h-10.5zM643.3,553.2h3.5v3.5h-3.5zM650.3,553.2h14.0v3.5h-14.0zM688.8,553.2h3.5v3.5h-3.5zM695.8,553.2h7.0v3.5h-7.0zM716.8,553.2h3.5v3.5h-3.5zM730.8,553.2h10.5v3.5h-10.5zM548.8,556.7h3.5v3.5h-3.5zM559.3,556.7h14.0v3.5h-14.0zM576.8,556.7h7.0v3.5h-7.0zM587.3,556.7h14.0v3.5h-14.0zM625.8,556.7h3.5v3.5h-3.5zM632.8,556.7h3.5v3.5h-3.5zM643.3,556.7h14.0v3.5h-14.0zM678.3,556.7h10.5v3.5h-10.5zM699.3,556.7h3.5v3.5h-3.5zM709.8,556.7h3.5v3.5h-3.5zM716.8,556.7h14.0v3.5h-14.0zM734.3,556.7h7.0v3.5h-7.0zM555.8,560.2h10.5v3.5h-10.5zM573.3,560.2h3.5v3.5h-3.5zM587.3,560.2h3.5v3.5h-3.5zM601.3,560.2h21.0v3.5h-21.0zM636.3,560.2h3.5v3.5h-3.5zM643.3,560.2h3.5v3.5h-3.5zM650.3,560.2h3.5v3.5h-3.5zM657.3,560.2h3.5v3.5h-3.5zM667.8,560.2h3.5v3.5h-3.5zM685.3,560.2h10.5v3.5h-10.5zM713.3,560.2h3.5v3.5h-3.5zM723.8,560.2h3.5v3.5h-3.5zM548.8,563.7h7.0v3.5h-7.0zM562.8,563.7h7.0v3.5h-7.0zM573.3,563.7h3.5v3.5h-3.5zM587.3,563.7h7.0v3.5h-7.0zM597.8,563.7h3.5v3.5h-3.5zM604.8,563.7h3.5v3.5h-3.5zM618.8,563.7h7.0v3.5h-7.0zM643.3,563.7h3.5v3.5h-3.5zM653.8,563.7h10.5v3.5h-10.5zM678.3,563.7h17.5v3.5h-17.5zM734.3,563.7h3.5v3.5h-3.5zM548.8,567.2h3.5v3.5h-3.5zM559.3,567.2h7.0v3.5h-7.0zM587.3,567.2h3.5v3.5h-3.5zM594.3,567.2h14.0v3.5h-14.0zM622.3,567.2h3.5v3.5h-3.5zM643.3,567.2h3.5v3.5h-3.5zM650.3,567.2h3.5v3.5h-3.5zM664.3,567.2h3.5v3.5h-3.5zM678.3,567.2h3.5v3.5h-3.5zM688.8,567.2h21.0v3.5h-21.0zM713.3,567.2h7.0v3.5h-7.0zM727.3,567.2h17.5v3.5h-17.5zM548.8,570.7h3.5v3.5h-3.5zM555.8,570.7h17.5v3.5h-17.5zM583.8,570.7h14.0v3.5h-14.0zM604.8,570.7h3.5v3.5h-3.5zM622.3,570.7h3.5v3.5h-3.5zM650.3,570.7h3.5v3.5h-3.5zM674.8,570.7h3.5v3.5h-3.5zM681.8,570.7h10.5v3.5h-10.5zM723.8,570.7h3.5v3.5h-3.5zM730.8,570.7h7.0v3.5h-7.0zM741.3,570.7h3.5v3.5h-3.5zM548.8,574.2h3.5v3.5h-3.5zM555.8,574.2h10.5v3.5h-10.5zM569.8,574.2h3.5v3.5h-3.5zM580.3,574.2h3.5v3.5h-3.5zM587.3,574.2h7.0v3.5h-7.0zM608.3,574.2h3.5v3.5h-3.5zM618.8,574.2h7.0v3.5h-7.0zM632.8,574.2h7.0v3.5h-7.0zM643.3,574.2h7.0v3.5h-7.0zM653.8,574.2h3.5v3.5h-3.5zM678.3,574.2h7.0v3.5h-7.0zM688.8,574.2h7.0v3.5h-7.0zM699.3,574.2h3.5v3.5h-3.5zM706.3,574.2h14.0v3.5h-14.0zM730.8,574.2h3.5v3.5h-3.5zM548.8,577.7h3.5v3.5h-3.5zM555.8,577.7h3.5v3.5h-3.5zM587.3,577.7h14.0v3.5h-14.0zM604.8,577.7h7.0v3.5h-7.0zM625.8,577.7h3.5v3.5h-3.5zM636.3,577.7h3.5v3.5h-3.5zM650.3,577.7h3.5v3.5h-3.5zM664.3,577.7h7.0v3.5h-7.0zM674.8,577.7h3.5v3.5h-3.5zM681.8,577.7h3.5v3.5h-3.5zM692.3,577.7h7.0v3.5h-7.0zM702.8,577.7h7.0v3.5h-7.0zM723.8,577.7h3.5v3.5h-3.5zM734.3,577.7h3.5v3.5h-3.5zM552.3,581.2h3.5v3.5h-3.5zM559.3,581.2h3.5v3.5h-3.5zM601.3,581.2h10.5v3.5h-10.5zM629.3,581.2h17.5v3.5h-17.5zM653.8,581.2h7.0v3.5h-7.0zM671.3,581.2h14.0v3.5h-14.0zM688.8,581.2h7.0v3.5h-7.0zM699.3,581.2h3.5v3.5h-3.5zM706.3,581.2h7.0v3.5h-7.0zM720.3,581.2h3.5v3.5h-3.5zM727.3,581.2h3.5v3.5h-3.5zM737.8,581.2h7.0v3.5h-7.0zM555.8,584.7h3.5v3.5h-3.5zM569.8,584.7h7.0v3.5h-7.0zM601.3,584.7h7.0v3.5h-7.0zM611.8,584.7h3.5v3.5h-3.5zM618.8,584.7h3.5v3.5h-3.5zM629.3,584.7h7.0v3.5h-7.0zM639.8,584.7h3.5v3.5h-3.5zM653.8,584.7h3.5v3.5h-3.5zM660.8,584.7h3.5v3.5h-3.5zM667.8,584.7h3.5v3.5h-3.5zM688.8,584.7h3.5v3.5h-3.5zM702.8,584.7h3.5v3.5h-3.5zM713.3,584.7h10.5v3.5h-10.5zM555.8,588.2h10.5v3.5h-10.5zM587.3,588.2h7.0v3.5h-7.0zM597.8,588.2h3.5v3.5h-3.5zM608.3,588.2h3.5v3.5h-3.5zM625.8,588.2h3.5v3.5h-3.5zM632.8,588.2h3.5v3.5h-3.5zM639.8,588.2h17.5v3.5h-17.5zM660.8,588.2h7.0v3.5h-7.0zM678.3,588.2h3.5v3.5h-3.5zM685.3,588.2h7.0v3.5h-7.0zM695.8,588.2h7.0v3.5h-7.0zM706.3,588.2h3.5v3.5h-3.5zM713.3,588.2h7.0v3.5h-7.0zM723.8,588.2h3.5v3.5h-3.5zM734.3,588.2h3.5v3.5h-3.5zM559.3,591.7h3.5v3.5h-3.5zM566.3,591.7h3.5v3.5h-3.5zM601.3,591.7h14.0v3.5h-14.0zM622.3,591.7h3.5v3.5h-3.5zM632.8,591.7h3.5v3.5h-3.5zM639.8,591.7h3.5v3.5h-3.5zM646.8,591.7h3.5v3.5h-3.5zM657.3,591.7h3.5v3.5h-3.5zM667.8,591.7h3.5v3.5h-3.5zM674.8,591.7h3.5v3.5h-3.5zM681.8,591.7h3.5v3.5h-3.5zM692.3,591.7h7.0v3.5h-7.0zM706.3,591.7h3.5v3.5h-3.5zM713.3,591.7h3.5v3.5h-3.5zM723.8,591.7h3.5v3.5h-3.5zM734.3,591.7h3.5v3.5h-3.5zM741.3,591.7h3.5v3.5h-3.5zM548.8,595.2h3.5v3.5h-3.5zM562.8,595.2h3.5v3.5h-3.5zM576.8,595.2h3.5v3.5h-3.5zM590.8,595.2h3.5v3.5h-3.5zM597.8,595.2h3.5v3.5h-3.5zM611.8,595.2h10.5v3.5h-10.5zM643.3,595.2h10.5v3.5h-10.5zM657.3,595.2h3.5v3.5h-3.5zM667.8,595.2h3.5v3.5h-3.5zM685.3,595.2h3.5v3.5h-3.5zM695.8,595.2h3.5v3.5h-3.5zM709.8,595.2h3.5v3.5h-3.5zM720.3,595.2h3.5v3.5h-3.5zM552.3,598.7h10.5v3.5h-10.5zM583.8,598.7h3.5v3.5h-3.5zM590.8,598.7h3.5v3.5h-3.5zM611.8,598.7h3.5v3.5h-3.5zM618.8,598.7h10.5v3.5h-10.5zM636.3,598.7h7.0v3.5h-7.0zM653.8,598.7h3.5v3.5h-3.5zM660.8,598.7h3.5v3.5h-3.5zM667.8,598.7h3.5v3.5h-3.5zM681.8,598.7h17.5v3.5h-17.5zM716.8,598.7h3.5v3.5h-3.5zM723.8,598.7h3.5v3.5h-3.5zM737.8,598.7h3.5v3.5h-3.5zM555.8,602.2h3.5v3.5h-3.5zM566.3,602.2h3.5v3.5h-3.5zM580.3,602.2h3.5v3.5h-3.5zM590.8,602.2h3.5v3.5h-3.5zM597.8,602.2h7.0v3.5h-7.0zM615.3,602.2h7.0v3.5h-7.0zM625.8,602.2h10.5v3.5h-10.5zM643.3,602.2h3.5v3.5h-3.5zM650.3,602.2h10.5v3.5h-10.5zM667.8,602.2h3.5v3.5h-3.5zM688.8,602.2h3.5v3.5h-3.5zM695.8,602.2h3.5v3.5h-3.5zM709.8,602.2h3.5v3.5h-3.5zM716.8,602.2h3.5v3.5h-3.5zM723.8,602.2h3.5v3.5h-3.5zM548.8,605.7h3.5v3.5h-3.5zM555.8,605.7h7.0v3.5h-7.0zM590.8,605.7h3.5v3.5h-3.5zM597.8,605.7h7.0v3.5h-7.0zM615.3,605.7h3.5v3.5h-3.5zM625.8,605.7h3.5v3.5h-3.5zM632.8,605.7h3.5v3.5h-3.5zM639.8,605.7h3.5v3.5h-3.5zM646.8,605.7h3.5v3.5h-3.5zM664.3,605.7h3.5v3.5h-3.5zM706.3,605.7h3.5v3.5h-3.5zM713.3,605.7h17.5v3.5h-17.5zM741.3,605.7h3.5v3.5h-3.5zM552.3,609.2h3.5v3.5h-3.5zM566.3,609.2h3.5v3.5h-3.5zM594.3,609.2h7.0v3.5h-7.0zM608.3,609.2h3.5v3.5h-3.5zM622.3,609.2h3.5v3.5h-3.5zM636.3,609.2h3.5v3.5h-3.5zM646.8,609.2h3.5v3.5h-3.5zM685.3,609.2h3.5v3.5h-3.5zM699.3,609.2h10.5v3.5h-10.5zM713.3,609.2h7.0v3.5h-7.0zM723.8,609.2h3.5v3.5h-3.5zM737.8,609.2h7.0v3.5h-7.0zM555.8,612.7h17.5v3.5h-17.5zM583.8,612.7h7.0v3.5h-7.0zM604.8,612.7h3.5v3.5h-3.5zM618.8,612.7h3.5v3.5h-3.5zM625.8,612.7h3.5v3.5h-3.5zM643.3,612.7h10.5v3.5h-10.5zM657.3,612.7h3.5v3.5h-3.5zM671.3,612.7h3.5v3.5h-3.5zM678.3,612.7h7.0v3.5h-7.0zM688.8,612.7h10.5v3.5h-10.5zM702.8,612.7h7.0v3.5h-7.0zM713.3,612.7h21.0v3.5h-21.0zM741.3,612.7h3.5v3.5h-3.5zM548.8,616.2h10.5v3.5h-10.5zM562.8,616.2h3.5v3.5h-3.5zM573.3,616.2h3.5v3.5h-3.5zM580.3,616.2h3.5v3.5h-3.5zM594.3,616.2h7.0v3.5h-7.0zM604.8,616.2h21.0v3.5h-21.0zM632.8,616.2h7.0v3.5h-7.0zM643.3,616.2h7.0v3.5h-7.0zM653.8,616.2h3.5v3.5h-3.5zM667.8,616.2h7.0v3.5h-7.0zM681.8,616.2h3.5v3.5h-3.5zM688.8,616.2h3.5v3.5h-3.5zM695.8,616.2h7.0v3.5h-7.0zM706.3,616.2h14.0v3.5h-14.0zM723.8,616.2h3.5v3.5h-3.5zM734.3,616.2h7.0v3.5h-7.0zM552.3,619.7h3.5v3.5h-3.5zM559.3,619.7h3.5v3.5h-3.5zM566.3,619.7h7.0v3.5h-7.0zM587.3,619.7h7.0v3.5h-7.0zM601.3,619.7h17.5v3.5h-17.5zM629.3,619.7h17.5v3.5h-17.5zM653.8,619.7h14.0v3.5h-14.0zM702.8,619.7h3.5v3.5h-3.5zM709.8,619.7h7.0v3.5h-7.0zM727.3,619.7h3.5v3.5h-3.5zM741.3,619.7h3.5v3.5h-3.5zM552.3,623.2h3.5v3.5h-3.5zM559.3,623.2h7.0v3.5h-7.0zM569.8,623.2h10.5v3.5h-10.5zM583.8,623.2h21.0v3.5h-21.0zM622.3,623.2h3.5v3.5h-3.5zM629.3,623.2h10.5v3.5h-10.5zM678.3,623.2h3.5v3.5h-3.5zM688.8,623.2h7.0v3.5h-7.0zM720.3,623.2h3.5v3.5h-3.5zM730.8,623.2h14.0v3.5h-14.0zM555.8,626.7h3.5v3.5h-3.5zM562.8,626.7h10.5v3.5h-10.5zM576.8,626.7h7.0v3.5h-7.0zM587.3,626.7h7.0v3.5h-7.0zM597.8,626.7h3.5v3.5h-3.5zM604.8,626.7h3.5v3.5h-3.5zM611.8,626.7h14.0v3.5h-14.0zM636.3,626.7h3.5v3.5h-3.5zM653.8,626.7h3.5v3.5h-3.5zM674.8,626.7h3.5v3.5h-3.5zM681.8,626.7h3.5v3.5h-3.5zM688.8,626.7h3.5v3.5h-3.5zM706.3,626.7h7.0v3.5h-7.0zM720.3,626.7h3.5v3.5h-3.5zM734.3,626.7h10.5v3.5h-10.5zM552.3,630.2h3.5v3.5h-3.5zM566.3,630.2h10.5v3.5h-10.5zM587.3,630.2h3.5v3.5h-3.5zM594.3,630.2h3.5v3.5h-3.5zM608.3,630.2h10.5v3.5h-10.5zM622.3,630.2h3.5v3.5h-3.5zM632.8,630.2h3.5v3.5h-3.5zM681.8,630.2h3.5v3.5h-3.5zM688.8,630.2h3.5v3.5h-3.5zM695.8,630.2h3.5v3.5h-3.5zM702.8,630.2h7.0v3.5h-7.0zM723.8,630.2h3.5v3.5h-3.5zM730.8,630.2h3.5v3.5h-3.5zM737.8,630.2h3.5v3.5h-3.5zM548.8,633.7h7.0v3.5h-7.0zM559.3,633.7h10.5v3.5h-10.5zM576.8,633.7h7.0v3.5h-7.0zM611.8,633.7h10.5v3.5h-10.5zM625.8,633.7h7.0v3.5h-7.0zM650.3,633.7h3.5v3.5h-3.5zM667.8,633.7h7.0v3.5h-7.0zM688.8,633.7h3.5v3.5h-3.5zM699.3,633.7h3.5v3.5h-3.5zM706.3,633.7h7.0v3.5h-7.0zM716.8,633.7h10.5v3.5h-10.5zM737.8,633.7h7.0v3.5h-7.0zM555.8,637.2h3.5v3.5h-3.5zM562.8,637.2h10.5v3.5h-10.5zM576.8,637.2h14.0v3.5h-14.0zM601.3,637.2h3.5v3.5h-3.5zM625.8,637.2h7.0v3.5h-7.0zM639.8,637.2h7.0v3.5h-7.0zM650.3,637.2h3.5v3.5h-3.5zM671.3,637.2h3.5v3.5h-3.5zM678.3,637.2h3.5v3.5h-3.5zM685.3,637.2h17.5v3.5h-17.5zM713.3,637.2h7.0v3.5h-7.0zM723.8,637.2h3.5v3.5h-3.5zM730.8,637.2h3.5v3.5h-3.5zM737.8,637.2h7.0v3.5h-7.0zM552.3,640.7h7.0v3.5h-7.0zM562.8,640.7h10.5v3.5h-10.5zM580.3,640.7h3.5v3.5h-3.5zM587.3,640.7h3.5v3.5h-3.5zM594.3,640.7h24.5v3.5h-24.5zM622.3,640.7h7.0v3.5h-7.0zM639.8,640.7h7.0v3.5h-7.0zM660.8,640.7h3.5v3.5h-3.5zM671.3,640.7h14.0v3.5h-14.0zM692.3,640.7h7.0v3.5h-7.0zM702.8,640.7h3.5v3.5h-3.5zM709.8,640.7h7.0v3.5h-7.0zM720.3,640.7h14.0v3.5h-14.0zM737.8,640.7h3.5v3.5h-3.5zM566.3,644.2h3.5v3.5h-3.5zM580.3,644.2h3.5v3.5h-3.5zM587.3,644.2h3.5v3.5h-3.5zM601.3,644.2h3.5v3.5h-3.5zM608.3,644.2h10.5v3.5h-10.5zM622.3,644.2h3.5v3.5h-3.5zM629.3,644.2h3.5v3.5h-3.5zM636.3,644.2h3.5v3.5h-3.5zM643.3,644.2h3.5v3.5h-3.5zM660.8,644.2h3.5v3.5h-3.5zM667.8,644.2h10.5v3.5h-10.5zM681.8,644.2h3.5v3.5h-3.5zM688.8,644.2h7.0v3.5h-7.0zM699.3,644.2h3.5v3.5h-3.5zM709.8,644.2h7.0v3.5h-7.0zM727.3,644.2h3.5v3.5h-3.5zM737.8,644.2h7.0v3.5h-7.0z" fill="rgb(161,161,161)" shape-rendering="crispEdges"/><path d="M552.3,437.7h7.0v3.5h-7.0zM566.3,437.7h7.0v3.5h-7.0zM576.8,437.7h7.0v3.5h-7.0zM632.8,437.7h7.0v3.5h-7.0zM646.8,437.7h3.5v3.5h-3.5zM660.8,437.7h7.0v3.5h-7.0zM671.3,437.7h10.5v3.5h-10.5zM699.3,437.7h7.0v3.5h-7.0zM727.3,437.7h3.5v3.5h-3.5zM737.8,437.7h3.5v3.5h-3.5zM548.8,441.2h3.5v3.5h-3.5zM555.8,441.2h3.5v3.5h-3.5zM566.3,441.2h10.5v3.5h-10.5zM580.3,441.2h3.5v3.5h-3.5zM639.8,441.2h3.5v3.5h-3.5zM664.3,441.2h14.0v3.5h-14.0zM723.8,441.2h3.5v3.5h-3.5zM569.8,444.7h3.5v3.5h-3.5zM576.8,444.7h7.0v3.5h-7.0zM594.3,444.7h3.5v3.5h-3.5zM604.8,444.7h3.5v3.5h-3.5zM625.8,444.7h3.5v3.5h-3.5zM646.8,444.7h3.5v3.5h-3.5zM667.8,444.7h3.5v3.5h-3.5zM674.8,444.7h3.5v3.5h-3.5zM681.8,444.7h3.5v3.5h-3.5zM727.3,444.7h3.5v3.5h-3.5zM576.8,448.2h7.0v3.5h-7.0zM594.3,448.2h7.0v3.5h-7.0zM604.8,448.2h3.5v3.5h-3.5zM636.3,448.2h3.5v3.5h-3.5zM653.8,448.2h3.5v3.5h-3.5zM671.3,448.2h7.0v3.5h-7.0zM681.8,448.2h17.5v3.5h-17.5zM713.3,448.2h7.0v3.5h-7.0zM727.3,448.2h10.5v3.5h-10.5zM741.3,448.2h3.5v3.5h-3.5zM594.3,451.7h3.5v3.5h-3.5zM611.8,451.7h3.5v3.5h-3.5zM646.8,451.7h7.0v3.5h-7.0zM671.3,451.7h3.5v3.5h-3.5zM688.8,451.7h7.0v3.5h-7.0zM702.8,451.7h3.5v3.5h-3.5zM713.3,451.7h3.5v3.5h-3.5zM723.8,451.7h7.0v3.5h-7.0zM741.3,451.7h3.5v3.5h-3.5zM590.8,455.2h7.0v3.5h-7.0zM601.3,455.2h3.5v3.5h-3.5zM639.8,455.2h3.5v3.5h-3.5zM646.8,455.2h3.5v3.5h-3.5zM671.3,455.2h7.0v3.5h-7.0zM681.8,455.2h7.0v3.5h-7.0zM723.8,455.2h7.0v3.5h-7.0zM741.3,455.2h3.5v3.5h-3.5zM576.8,458.7h7.0v3.5h-7.0zM632.8,458.7h3.5v3.5h-3.5zM664.3,458.7h3.5v3.5h-3.5zM678.3,458.7h3.5v3.5h-3.5zM688.8,458.7h3.5v3.5h-3.5zM706.3,458.7h3.5v3.5h-3.5zM548.8,462.2h7.0v3.5h-7.0zM559.3,462.2h3.5v3.5h-3.5zM569.8,462.2h10.5v3.5h-10.5zM583.8,462.2h3.5v3.5h-3.5zM594.3,462.2h3.5v3.5h-3.5zM646.8,462.2h3.5v3.5h-3.5zM674.8,462.2h3.5v3.5h-3.5zM548.8,465.7h7.0v3.5h-7.0zM569.8,465.7h3.5v3.5h-3.5zM583.8,465.7h7.0v3.5h-7.0zM594.3,465.7h3.5v3.5h-3.5zM601.3,465.7h7.0v3.5h-7.0zM632.8,465.7h3.5v3.5h-3.5zM699.3,465.7h14.0v3.5h-14.0zM548.8,469.2h3.5v3.5h-3.5zM569.8,469.2h21.0v3.5h-21.0zM594.3,469.2h3.5v3.5h-3.5zM646.8,469.2h3.5v3.5h-3.5zM552.3,472.7h3.5v3.5h-3.5zM569.8,472.7h7.0v3.5h-7.0zM583.8,472.7h3.5v3.5h-3.5zM590.8,472.7h7.0v3.5h-7.0zM660.8,472.7h3.5v3.5h-3.5zM695.8,472.7h7.0v3.5h-7.0zM706.3,472.7h10.5v3.5h-10.5zM555.8,476.2h3.5v3.5h-3.5zM562.8,476.2h3.5v3.5h-3.5zM580.3,476.2h7.0v3.5h-7.0zM594.3,476.2h3.5v3.5h-3.5zM615.3,476.2h3.5v3.5h-3.5zM667.8,476.2h3.5v3.5h-3.5zM692.3,476.2h3.5v3.5h-3.5zM706.3,476.2h3.5v3.5h-3.5zM716.8,476.2h3.5v3.5h-3.5zM583.8,479.7h7.0v3.5h-7.0zM611.8,479.7h3.5v3.5h-3.5zM622.3,479.7h3.5v3.5h-3.5zM660.8,479.7h3.5v3.5h-3.5zM671.3,479.7h3.5v3.5h-3.5zM685.3,479.7h3.5v3.5h-3.5zM695.8,479.7h7.0v3.5h-7.0zM709.8,479.7h21.0v3.5h-21.0zM555.8,483.2h3.5v3.5h-3.5zM587.3,483.2h3.5v3.5h-3.5zM594.3,483.2h3.5v3.5h-3.5zM618.8,483.2h3.5v3.5h-3.5zM653.8,483.2h14.0v3.5h-14.0zM671.3,483.2h3.5v3.5h-3.5zM692.3,483.2h3.5v3.5h-3.5zM699.3,483.2h17.5v3.5h-17.5zM720.3,483.2h3.5v3.5h-3.5zM727.3,483.2h3.5v3.5h-3.5zM555.8,486.7h3.5v3.5h-3.5zM566.3,486.7h3.5v3.5h-3.5zM583.8,486.7h7.0v3.5h-7.0zM604.8,486.7h7.0v3.5h-7.0zM618.8,486.7h3.5v3.5h-3.5zM625.8,486.7h3.5v3.5h-3.5zM632.8,486.7h3.5v3.5h-3.5zM657.3,486.7h3.5v3.5h-3.5zM695.8,486.7h3.5v3.5h-3.5zM709.8,486.7h14.0v3.5h-14.0zM727.3,486.7h3.5v3.5h-3.5zM559.3,490.2h3.5v3.5h-3.5zM566.3,490.2h7.0v3.5h-7.0zM590.8,490.2h3.5v3.5h-3.5zM601.3,490.2h3.5v3.5h-3.5zM685.3,490.2h3.5v3.5h-3.5zM590.8,493.7h10.5v3.5h-10.5zM604.8,493.7h3.5v3.5h-3.5zM632.8,493.7h3.5v3.5h-3.5zM639.8,493.7h3.5v3.5h-3.5zM650.3,493.7h7.0v3.5h-7.0zM674.8,493.7h3.5v3.5h-3.5zM699.3,493.7h3.5v3.5h-3.5zM720.3,493.7h3.5v3.5h-3.5zM737.8,493.7h3.5v3.5h-3.5zM555.8,497.2h10.5v3.5h-10.5zM646.8,497.2h3.5v3.5h-3.5zM681.8,497.2h3.5v3.5h-3.5zM702.8,497.2h7.0v3.5h-7.0zM737.8,497.2h3.5v3.5h-3.5zM548.8,500.7h3.5v3.5h-3.5zM580.3,500.7h3.5v3.5h-3.5zM590.8,500.7h3.5v3.5h-3.5zM632.8,500.7h3.5v3.5h-3.5zM639.8,500.7h7.0v3.5h-7.0zM650.3,500.7h7.0v3.5h-7.0zM674.8,500.7h3.5v3.5h-3.5zM723.8,500.7h10.5v3.5h-10.5zM552.3,504.2h14.0v3.5h-14.0zM573.3,504.2h3.5v3.5h-3.5zM597.8,504.2h10.5v3.5h-10.5zM629.3,504.2h10.5v3.5h-10.5zM667.8,504.2h7.0v3.5h-7.0zM702.8,504.2h3.5v3.5h-3.5zM720.3,504.2h3.5v3.5h-3.5zM730.8,504.2h3.5v3.5h-3.5zM548.8,507.7h7.0v3.5h-7.0zM587.3,507.7h17.5v3.5h-17.5zM632.8,507.7h3.5v3.5h-3.5zM639.8,507.7h3.5v3.5h-3.5zM657.3,507.7h17.5v3.5h-17.5zM678.3,507.7h3.5v3.5h-3.5zM706.3,507.7h3.5v3.5h-3.5zM730.8,507.7h3.5v3.5h-3.5zM737.8,507.7h7.0v3.5h-7.0zM573.3,511.2h3.5v3.5h-3.5zM587.3,511.2h3.5v3.5h-3.5zM594.3,511.2h7.0v3.5h-7.0zM604.8,511.2h3.5v3.5h-3.5zM629.3,511.2h3.5v3.5h-3.5zM643.3,511.2h3.5v3.5h-3.5zM653.8,511.2h7.0v3.5h-7.0zM664.3,511.2h3.5v3.5h-3.5zM699.3,511.2h7.0v3.5h-7.0zM716.8,511.2h3.5v3.5h-3.5zM723.8,511.2h7.0v3.5h-7.0zM555.8,514.7h7.0v3.5h-7.0zM569.8,514.7h3.5v3.5h-3.5zM580.3,514.7h3.5v3.5h-3.5zM590.8,514.7h3.5v3.5h-3.5zM608.3,514.7h3.5v3.5h-3.5zM629.3,514.7h7.0v3.5h-7.0zM646.8,514.7h3.5v3.5h-3.5zM660.8,514.7h3.5v3.5h-3.5zM667.8,514.7h3.5v3.5h-3.5zM678.3,514.7h3.5v3.5h-3.5zM688.8,514.7h14.0v3.5h-14.0zM548.8,518.2h10.5v3.5h-10.5zM583.8,518.2h10.5v3.5h-10.5zM646.8,518.2h3.5v3.5h-3.5zM660.8,518.2h10.5v3.5h-10.5zM674.8,518.2h3.5v3.5h-3.5zM681.8,518.2h3.5v3.5h-3.5zM695.8,518.2h3.5v3.5h-3.5zM727.3,518.2h14.0v3.5h-14.0zM566.3,521.7h3.5v3.5h-3.5zM580.3,521.7h7.0v3.5h-7.0zM590.8,521.7h7.0v3.5h-7.0zM646.8,521.7h10.5v3.5h-10.5zM660.8,521.7h3.5v3.5h-3.5zM685.3,521.7h3.5v3.5h-3.5zM695.8,521.7h3.5v3.5h-3.5zM702.8,521.7h3.5v3.5h-3.5zM576.8,525.2h7.0v3.5h-7.0zM590.8,525.2h7.0v3.5h-7.0zM643.3,525.2h10.5v3.5h-10.5zM681.8,525.2h3.5v3.5h-3.5zM702.8,525.2h3.5v3.5h-3.5zM727.3,525.2h3.5v3.5h-3.5zM590.8,528.7h3.5v3.5h-3.5zM618.8,528.7h3.5v3.5h-3.5zM643.3,528.7h3.5v3.5h-3.5zM650.3,528.7h3.5v3.5h-3.5zM660.8,528.7h3.5v3.5h-3.5zM674.8,528.7h3.5v3.5h-3.5zM681.8,528.7h3.5v3.5h-3.5zM688.8,528.7h3.5v3.5h-3.5zM709.8,528.7h7.0v3.5h-7.0zM720.3,528.7h3.5v3.5h-3.5zM737.8,528.7h3.5v3.5h-3.5zM594.3,532.2h3.5v3.5h-3.5zM601.3,532.2h3.5v3.5h-3.5zM618.8,532.2h3.5v3.5h-3.5zM681.8,532.2h7.0v3.5h-7.0zM695.8,532.2h3.5v3.5h-3.5zM706.3,532.2h10.5v3.5h-10.5zM727.3,532.2h3.5v3.5h-3.5zM597.8,535.7h24.5v3.5h-24.5zM650.3,535.7h3.5v3.5h-3.5zM660.8,535.7h3.5v3.5h-3.5zM678.3,535.7h3.5v3.5h-3.5zM692.3,535.7h3.5v3.5h-3.5zM699.3,535.7h3.5v3.5h-3.5zM706.3,535.7h21.0v3.5h-21.0zM737.8,535.7h3.5v3.5h-3.5zM548.8,539.2h3.5v3.5h-3.5zM590.8,539.2h3.5v3.5h-3.5zM608.3,539.2h3.5v3.5h-3.5zM615.3,539.2h3.5v3.5h-3.5zM636.3,539.2h3.5v3.5h-3.5zM643.3,539.2h10.5v3.5h-10.5zM678.3,539.2h3.5v3.5h-3.5zM688.8,539.2h10.5v3.5h-10.5zM706.3,539.2h3.5v3.5h-3.5zM723.8,539.2h3.5v3.5h-3.5zM730.8,539.2h7.0v3.5h-7.0zM590.8,542.7h3.5v3.5h-3.5zM601.3,542.7h7.0v3.5h-7.0zM650.3,542.7h7.0v3.5h-7.0zM681.8,542.7h14.0v3.5h-14.0zM706.3,542.7h3.5v3.5h-3.5zM727.3,542.7h3.5v3.5h-3.5zM552.3,546.2h3.5v3.5h-3.5zM590.8,546.2h3.5v3.5h-3.5zM608.3,546.2h3.5v3.5h-3.5zM650.3,546.2h3.5v3.5h-3.5zM688.8,546.2h3.5v3.5h-3.5zM716.8,546.2h10.5v3.5h-10.5zM741.3,546.2h3.5v3.5h-3.5zM590.8,549.7h3.5v3.5h-3.5zM643.3,549.7h3.5v3.5h-3.5zM685.3,549.7h7.0v3.5h-7.0zM699.3,549.7h3.5v3.5h-3.5zM720.3,549.7h7.0v3.5h-7.0zM548.8,553.2h7.0v3.5h-7.0zM583.8,553.2h3.5v3.5h-3.5zM594.3,553.2h3.5v3.5h-3.5zM636.3,553.2h7.0v3.5h-7.0zM646.8,553.2h3.5v3.5h-3.5zM685.3,553.2h3.5v3.5h-3.5zM692.3,553.2h3.5v3.5h-3.5zM552.3,556.7h7.0v3.5h-7.0zM573.3,556.7h3.5v3.5h-3.5zM583.8,556.7h3.5v3.5h-3.5zM601.3,556.7h7.0v3.5h-7.0zM636.3,556.7h7.0v3.5h-7.0zM688.8,556.7h10.5v3.5h-10.5zM741.3,556.7h3.5v3.5h-3.5zM552.3,560.2h3.5v3.5h-3.5zM566.3,560.2h7.0v3.5h-7.0zM576.8,560.2h10.5v3.5h-10.5zM737.8,560.2h7.0v3.5h-7.0zM555.8,563.7h7.0v3.5h-7.0zM569.8,563.7h3.5v3.5h-3.5zM580.3,563.7h7.0v3.5h-7.0zM594.3,563.7h3.5v3.5h-3.5zM601.3,563.7h3.5v3.5h-3.5zM611.8,563.7h3.5v3.5h-3.5zM737.8,563.7h7.0v3.5h-7.0zM576.8,567.2h3.5v3.5h-3.5zM590.8,567.2h3.5v3.5h-3.5zM611.8,567.2h10.5v3.5h-10.5zM681.8,567.2h3.5v3.5h-3.5zM720.3,567.2h3.5v3.5h-3.5zM576.8,570.7h3.5v3.5h-3.5zM601.3,570.7h3.5v3.5h-3.5zM611.8,570.7h10.5v3.5h-10.5zM629.3,570.7h3.5v3.5h-3.5zM692.3,570.7h3.5v3.5h-3.5zM709.8,570.7h3.5v3.5h-3.5zM720.3,570.7h3.5v3.5h-3.5zM727.3,570.7h3.5v3.5h-3.5zM737.8,570.7h3.5v3.5h-3.5zM594.3,574.2h14.0v3.5h-14.0zM611.8,574.2h7.0v3.5h-7.0zM625.8,574.2h7.0v3.5h-7.0zM720.3,574.2h10.5v3.5h-10.5zM737.8,574.2h3.5v3.5h-3.5zM552.3,577.7h3.5v3.5h-3.5zM559.3,577.7h3.5v3.5h-3.5zM583.8,577.7h3.5v3.5h-3.5zM601.3,577.7h3.5v3.5h-3.5zM611.8,577.7h14.0v3.5h-14.0zM643.3,577.7h7.0v3.5h-7.0zM653.8,577.7h3.5v3.5h-3.5zM671.3,577.7h3.5v3.5h-3.5zM678.3,577.7h3.5v3.5h-3.5zM699.3,577.7h3.5v3.5h-3.5zM709.8,577.7h7.0v3.5h-7.0zM720.3,577.7h3.5v3.5h-3.5zM727.3,577.7h7.0v3.5h-7.0zM737.8,577.7h7.0v3.5h-7.0zM548.8,581.2h3.5v3.5h-3.5zM611.8,581.2h3.5v3.5h-3.5zM618.8,581.2h7.0v3.5h-7.0zM646.8,581.2h7.0v3.5h-7.0zM713.3,581.2h7.0v3.5h-7.0zM723.8,581.2h3.5v3.5h-3.5zM734.3,581.2h3.5v3.5h-3.5zM548.8,584.7h7.0v3.5h-7.0zM597.8,584.7h3.5v3.5h-3.5zM608.3,584.7h3.5v3.5h-3.5zM622.3,584.7h3.5v3.5h-3.5zM636.3,584.7h3.5v3.5h-3.5zM643.3,584.7h3.5v3.5h-3.5zM678.3,584.7h3.5v3.5h-3.5zM723.8,584.7h7.0v3.5h-7.0zM741.3,584.7h3.5v3.5h-3.5zM548.8,588.2h3.5v3.5h-3.5zM601.3,588.2h7.0v3.5h-7.0zM636.3,588.2h3.5v3.5h-3.5zM681.8,588.2h3.5v3.5h-3.5zM709.8,588.2h3.5v3.5h-3.5zM548.8,591.7h10.5v3.5h-10.5zM625.8,591.7h7.0v3.5h-7.0zM636.3,591.7h3.5v3.5h-3.5zM643.3,591.7h3.5v3.5h-3.5zM650.3,591.7h7.0v3.5h-7.0zM685.3,591.7h7.0v3.5h-7.0zM716.8,591.7h7.0v3.5h-7.0zM552.3,595.2h3.5v3.5h-3.5zM625.8,595.2h10.5v3.5h-10.5zM639.8,595.2h3.5v3.5h-3.5zM653.8,595.2h3.5v3.5h-3.5zM692.3,595.2h3.5v3.5h-3.5zM716.8,595.2h3.5v3.5h-3.5zM548.8,598.7h3.5v3.5h-3.5zM594.3,598.7h3.5v3.5h-3.5zM643.3,598.7h10.5v3.5h-10.5zM657.3,598.7h3.5v3.5h-3.5zM709.8,598.7h7.0v3.5h-7.0zM727.3,598.7h3.5v3.5h-3.5zM548.8,602.2h7.0v3.5h-7.0zM559.3,602.2h3.5v3.5h-3.5zM622.3,602.2h3.5v3.5h-3.5zM636.3,602.2h7.0v3.5h-7.0zM646.8,602.2h3.5v3.5h-3.5zM660.8,602.2h7.0v3.5h-7.0zM720.3,602.2h3.5v3.5h-3.5zM552.3,605.7h3.5v3.5h-3.5zM569.8,605.7h3.5v3.5h-3.5zM594.3,605.7h3.5v3.5h-3.5zM618.8,605.7h7.0v3.5h-7.0zM629.3,605.7h3.5v3.5h-3.5zM636.3,605.7h3.5v3.5h-3.5zM643.3,605.7h3.5v3.5h-3.5zM653.8,605.7h10.5v3.5h-10.5zM730.8,605.7h3.5v3.5h-3.5zM548.8,609.2h3.5v3.5h-3.5zM555.8,609.2h7.0v3.5h-7.0zM615.3,609.2h7.0v3.5h-7.0zM625.8,609.2h3.5v3.5h-3.5zM639.8,609.2h7.0v3.5h-7.0zM650.3,609.2h17.5v3.5h-17.5zM674.8,609.2h3.5v3.5h-3.5zM709.8,609.2h3.5v3.5h-3.5zM720.3,609.2h3.5v3.5h-3.5zM597.8,612.7h3.5v3.5h-3.5zM611.8,612.7h7.0v3.5h-7.0zM622.3,612.7h3.5v3.5h-3.5zM629.3,612.7h14.0v3.5h-14.0zM653.8,612.7h3.5v3.5h-3.5zM664.3,612.7h3.5v3.5h-3.5zM625.8,616.2h7.0v3.5h-7.0zM650.3,616.2h3.5v3.5h-3.5zM657.3,616.2h10.5v3.5h-10.5zM674.8,616.2h7.0v3.5h-7.0zM685.3,616.2h3.5v3.5h-3.5zM692.3,616.2h3.5v3.5h-3.5zM720.3,616.2h3.5v3.5h-3.5zM555.8,619.7h3.5v3.5h-3.5zM562.8,619.7h3.5v3.5h-3.5zM618.8,619.7h10.5v3.5h-10.5zM646.8,619.7h3.5v3.5h-3.5zM667.8,619.7h3.5v3.5h-3.5zM674.8,619.7h3.5v3.5h-3.5zM688.8,619.7h7.0v3.5h-7.0zM716.8,619.7h3.5v3.5h-3.5zM723.8,619.7h3.5v3.5h-3.5zM555.8,623.2h3.5v3.5h-3.5zM604.8,623.2h10.5v3.5h-10.5zM618.8,623.2h3.5v3.5h-3.5zM650.3,623.2h10.5v3.5h-10.5zM664.3,623.2h14.0v3.5h-14.0zM681.8,623.2h3.5v3.5h-3.5zM695.8,623.2h3.5v3.5h-3.5zM713.3,623.2h7.0v3.5h-7.0zM559.3,626.7h3.5v3.5h-3.5zM583.8,626.7h3.5v3.5h-3.5zM594.3,626.7h3.5v3.5h-3.5zM601.3,626.7h3.5v3.5h-3.5zM639.8,626.7h3.5v3.5h-3.5zM646.8,626.7h3.5v3.5h-3.5zM660.8,626.7h10.5v3.5h-10.5zM678.3,626.7h3.5v3.5h-3.5zM692.3,626.7h7.0v3.5h-7.0zM716.8,626.7h3.5v3.5h-3.5zM723.8,626.7h10.5v3.5h-10.5zM576.8,630.2h10.5v3.5h-10.5zM590.8,630.2h3.5v3.5h-3.5zM597.8,630.2h10.5v3.5h-10.5zM653.8,630.2h3.5v3.5h-3.5zM664.3,630.2h17.5v3.5h-17.5zM692.3,630.2h3.5v3.5h-3.5zM699.3,630.2h3.5v3.5h-3.5zM709.8,630.2h3.5v3.5h-3.5zM716.8,630.2h7.0v3.5h-7.0zM727.3,630.2h3.5v3.5h-3.5zM734.3,630.2h3.5v3.5h-3.5zM573.3,633.7h3.5v3.5h-3.5zM583.8,633.7h21.0v3.5h-21.0zM653.8,633.7h3.5v3.5h-3.5zM674.8,633.7h7.0v3.5h-7.0zM702.8,633.7h3.5v3.5h-3.5zM713.3,633.7h3.5v3.5h-3.5zM727.3,633.7h10.5v3.5h-10.5zM573.3,637.2h3.5v3.5h-3.5zM590.8,637.2h10.5v3.5h-10.5zM604.8,637.2h17.5v3.5h-17.5zM653.8,637.2h7.0v3.5h-7.0zM674.8,637.2h3.5v3.5h-3.5zM681.8,637.2h3.5v3.5h-3.5zM702.8,637.2h3.5v3.5h-3.5zM720.3,637.2h3.5v3.5h-3.5zM727.3,637.2h3.5v3.5h-3.5zM734.3,637.2h3.5v3.5h-3.5zM559.3,640.7h3.5v3.5h-3.5zM573.3,640.7h7.0v3.5h-7.0zM583.8,640.7h3.5v3.5h-3.5zM618.8,640.7h3.5v3.5h-3.5zM646.8,640.7h14.0v3.5h-14.0zM667.8,640.7h3.5v3.5h-3.5zM706.3,640.7h3.5v3.5h-3.5zM716.8,640.7h3.5v3.5h-3.5zM734.3,640.7h3.5v3.5h-3.5zM741.3,640.7h3.5v3.5h-3.5zM559.3,644.2h7.0v3.5h-7.0zM569.8,644.2h10.5v3.5h-10.5zM583.8,644.2h3.5v3.5h-3.5zM590.8,644.2h3.5v3.5h-3.5zM618.8,644.2h3.5v3.5h-3.5zM625.8,644.2h3.5v3.5h-3.5zM639.8,644.2h3.5v3.5h-3.5zM650.3,644.2h10.5v3.5h-10.5zM664.3,644.2h3.5v3.5h-3.5zM702.8,644.2h7.0v3.5h-7.0zM716.8,644.2h3.5v3.5h-3.5zM723.8,644.2h3.5v3.5h-3.5zM734.3,644.2h3.5v3.5h-3.5z" fill="rgb(168,168,168)" shape-rendering="crispEdges"/><path d="M548.8,437.7h3.5v3.5h-3.5zM699.3,444.7h3.5v3.5h-3.5zM709.8,448.2h3.5v3.5h-3.5zM723.8,448.2h3.5v3.5h-3.5zM580.3,451.7h3.5v3.5h-3.5zM681.8,451.7h3.5v3.5h-3.5zM734.3,451.7h7.0v3.5h-7.0zM583.8,458.7h3.5v3.5h-3.5zM737.8,458.7h3.5v3.5h-3.5zM555.8,465.7h3.5v3.5h-3.5zM590.8,465.7h3.5v3.5h-3.5zM552.3,469.2h3.5v3.5h-3.5zM709.8,476.2h3.5v3.5h-3.5zM594.3,479.7h3.5v3.5h-3.5zM688.8,479.7h3.5v3.5h-3.5zM716.8,483.2h3.5v3.5h-3.5zM597.8,486.7h3.5v3.5h-3.5zM552.3,493.7h3.5v3.5h-3.5zM562.8,493.7h3.5v3.5h-3.5zM643.3,497.2h3.5v3.5h-3.5zM590.8,504.2h3.5v3.5h-3.5zM580.3,507.7h3.5v3.5h-3.5zM636.3,507.7h3.5v3.5h-3.5zM548.8,511.2h3.5v3.5h-3.5zM583.8,511.2h3.5v3.5h-3.5zM590.8,511.2h3.5v3.5h-3.5zM587.3,514.7h3.5v3.5h-3.5zM594.3,514.7h3.5v3.5h-3.5zM685.3,514.7h3.5v3.5h-3.5zM653.8,518.2h3.5v3.5h-3.5zM678.3,521.7h3.5v3.5h-3.5zM678.3,532.2h3.5v3.5h-3.5zM688.8,535.7h3.5v3.5h-3.5zM727.3,535.7h3.5v3.5h-3.5zM695.8,542.7h3.5v3.5h-3.5zM643.3,546.2h3.5v3.5h-3.5zM692.3,546.2h3.5v3.5h-3.5zM548.8,549.7h3.5v3.5h-3.5zM636.3,549.7h7.0v3.5h-7.0zM646.8,549.7h3.5v3.5h-3.5zM576.8,563.7h3.5v3.5h-3.5zM608.3,567.2h3.5v3.5h-3.5zM713.3,570.7h3.5v3.5h-3.5zM716.8,577.7h3.5v3.5h-3.5zM615.3,584.7h3.5v3.5h-3.5zM552.3,588.2h3.5v3.5h-3.5zM629.3,588.2h3.5v3.5h-3.5zM692.3,588.2h3.5v3.5h-3.5zM720.3,588.2h3.5v3.5h-3.5zM636.3,595.2h3.5v3.5h-3.5zM632.8,598.7h3.5v3.5h-3.5zM650.3,605.7h3.5v3.5h-3.5zM632.8,609.2h3.5v3.5h-3.5zM660.8,612.7h3.5v3.5h-3.5zM671.3,619.7h3.5v3.5h-3.5zM678.3,619.7h10.5v3.5h-10.5zM695.8,619.7h3.5v3.5h-3.5zM720.3,619.7h3.5v3.5h-3.5zM660.8,623.2h3.5v3.5h-3.5zM685.3,623.2h3.5v3.5h-3.5zM723.8,623.2h3.5v3.5h-3.5zM625.8,626.7h3.5v3.5h-3.5zM657.3,626.7h3.5v3.5h-3.5zM671.3,626.7h3.5v3.5h-3.5zM657.3,630.2h7.0v3.5h-7.0zM569.8,633.7h3.5v3.5h-3.5zM604.8,633.7h7.0v3.5h-7.0zM657.3,633.7h10.5v3.5h-10.5zM660.8,637.2h10.5v3.5h-10.5zM664.3,640.7h3.5v3.5h-3.5zM646.8,644.2h3.5v3.5h-3.5z" fill="rgb(176,176,176)" shape-rendering="crispEdges"/><path d="M739.9,596.0L740.8,600.7M742.6,456.9L723.0,459.1M744.2,478.7L727.2,480.9M727.2,480.9L723.5,474.9M723.0,459.1L723.5,474.9M547.8,633.3L556.9,627.5M547.8,633.3L544.6,649.2M556.9,627.5L571.0,634.4M566.6,650.6L571.1,635.9M571.0,634.4L571.1,635.9M555.1,616.3L556.9,627.5M626.6,645.2L648.8,647.2M648.8,647.2L649.3,648.5M577.0,607.2L586.2,604.1M577.0,607.2L572.6,632.8M583.1,630.1L572.6,632.8M583.1,630.1L594.5,609.0M586.2,604.1L588.4,604.7M588.4,604.7L594.5,609.0M564.4,604.6L577.0,607.2M564.4,604.6L555.1,616.3M571.0,634.4L572.6,632.8M597.5,572.3L589.6,574.4M597.5,572.3L605.3,574.9M605.3,574.9L588.4,604.7M586.2,604.1L580.6,586.0M580.6,586.0L589.6,574.4M565.4,531.8L588.5,531.9M565.4,531.8L573.3,552.7M578.5,551.3L573.3,552.7M578.5,551.3L588.7,532.1M588.7,532.1L588.5,531.9M591.1,554.6L597.5,572.3M591.1,554.6L578.5,551.3M570.8,556.2L573.3,552.7M570.8,556.2L571.5,564.3M571.5,564.3L589.6,574.4M549.5,553.6L547.7,536.5M549.8,554.2L549.5,553.6M549.8,554.2L545.9,565.0M549.8,554.2L570.8,556.2M565.4,531.8L564.9,531.3M547.7,536.5L550.8,533.5M564.9,531.3L550.8,533.5M545.1,587.9L550.1,576.8M545.1,587.9L560.6,597.4M550.1,576.8L565.7,573.6M560.6,597.4L571.7,583.8M565.7,573.6L571.7,583.8M545.9,565.0L550.1,576.8M564.4,604.6L560.6,597.4M571.5,564.3L565.7,573.6M580.6,586.0L571.7,583.8M628.2,530.7L630.8,516.8M628.2,530.7L628.1,530.8M630.8,516.8L630.1,515.9M606.3,515.2L630.1,515.9M606.3,515.2L609.9,531.2M628.1,530.8L609.9,531.2M591.1,554.6L603.6,541.9M588.7,532.1L603.5,537.8M603.6,541.9L603.5,537.8M600.9,611.2L613.0,589.6M600.9,611.2L594.5,609.0M605.3,574.9L609.5,574.8M613.0,589.6L609.5,574.8M740.8,600.7L740.3,601.1M742.8,631.0L738.8,629.5M740.3,601.1L738.8,629.5M648.8,647.2L654.8,631.6M654.8,631.6L668.2,630.4M668.2,630.4L669.0,630.5M668.9,651.6L649.3,648.5M668.9,651.6L669.0,651.4M669.0,630.5L669.0,651.4M742.8,631.0L745.5,645.1M626.6,645.2L625.3,644.0M747.3,452.6L743.4,455.4M743.4,455.4L733.4,434.6M743.4,455.4L742.6,456.9M723.0,459.1L720.9,458.1M720.9,458.1L719.5,437.8M733.4,434.6L719.5,437.8M550.8,533.5L547.1,519.4M654.8,631.6L647.4,624.2M668.2,630.4L661.4,608.2M661.4,608.2L650.2,610.4M650.2,610.4L647.4,624.2M625.3,644.0L624.4,641.1M624.4,641.1L636.3,624.5M647.4,624.2L636.3,624.5M602.6,633.4L602.5,651.3M602.6,633.4L596.8,634.8M596.8,634.8L587.8,646.1M607.3,629.0L624.4,641.1M607.3,629.0L602.6,633.4M600.9,611.2L607.2,617.4M607.2,617.4L607.3,629.0M583.1,630.1L596.8,634.8M571.1,635.9L587.8,646.1M643.4,496.8L644.5,512.1M643.4,496.8L639.8,493.1M644.5,512.1L630.8,516.8M639.8,493.1L633.3,493.6M630.1,515.9L623.7,501.4M633.3,493.6L623.7,501.4M572.7,514.9L567.8,520.1M572.7,514.9L567.4,496.3M567.8,520.1L551.6,509.7M567.4,496.3L550.1,498.1M551.6,509.7L550.1,498.1M587.0,515.4L588.5,531.9M587.0,515.4L572.7,514.9M564.9,531.3L567.8,520.1M547.1,519.4L551.6,509.7M547.7,496.5L550.1,498.1M697.1,512.8L681.7,523.2M697.1,512.8L682.7,493.8M681.7,523.2L669.3,499.1M682.7,493.8L669.3,499.1M744.2,478.7L737.2,496.8M727.2,480.9L721.9,492.9M721.9,492.9L726.7,500.2M726.7,500.2L736.6,497.2M737.2,496.8L736.6,497.2M663.6,552.9L649.0,545.0M663.6,552.9L659.4,570.3M640.5,549.7L645.7,563.5M640.5,549.7L649.0,545.0M645.7,563.5L659.4,570.3M609.6,574.8L628.0,574.3M609.6,574.8L613.4,554.6M613.4,554.6L629.5,549.3M629.5,549.3L629.6,572.1M629.6,572.1L628.0,574.3M603.6,541.9L613.4,554.6M609.5,574.8L609.6,574.8M631.9,547.0L629.5,549.3M631.9,547.0L628.1,530.8M609.9,531.2L603.5,537.8M631.9,547.0L640.5,549.7M645.7,563.5L629.6,572.1M705.0,579.2L686.5,574.0M705.0,579.2L706.0,589.0M706.0,589.0L691.4,596.5M691.4,596.5L684.2,585.1M684.2,585.1L686.5,574.0M687.8,559.1L684.3,569.9M687.8,559.1L706.9,557.9M706.9,557.9L712.1,570.7M712.1,570.7L705.0,579.2M684.3,569.9L686.5,574.0M708.2,555.4L724.2,548.3M708.2,555.4L702.4,537.4M724.2,548.3L719.7,533.4M719.7,533.4L709.8,529.6M702.4,537.4L709.8,529.6M687.8,559.1L685.3,553.5M706.9,557.9L708.2,555.4M685.3,553.5L693.3,538.4M693.3,538.4L702.4,537.4M706.4,516.1L725.4,507.6M706.4,516.1L709.8,529.6M725.4,507.6L729.0,512.0M725.9,529.8L729.0,512.0M725.9,529.8L719.7,533.4M697.1,512.8L701.9,513.1M681.7,523.2L680.7,525.6M701.9,513.1L706.4,516.1M680.7,525.6L693.3,538.4M734.9,550.9L725.4,548.9M734.9,550.9L735.9,570.0M725.4,548.9L720.8,571.8M735.9,570.0L727.6,574.7M727.6,574.7L720.8,571.8M735.9,550.3L734.9,550.9M748.0,573.1L735.9,570.0M712.1,570.7L720.8,571.8M724.2,548.3L725.4,548.9M727.8,586.7L727.6,574.7M727.8,586.7L739.9,596.0M727.8,586.7L719.9,591.9M719.9,591.9L706.3,589.2M706.3,589.2L706.0,589.0M669.0,651.4L680.8,648.2M702.7,438.9L699.1,445.4M699.1,445.4L679.5,435.4M720.9,458.1L714.2,459.0M719.5,437.8L717.5,436.3M717.5,436.3L702.7,438.9M714.2,459.0L699.1,447.1M699.1,445.4L699.1,447.1M723.5,474.9L708.5,479.3M714.2,459.0L704.0,470.5M704.0,470.5L708.5,479.3M721.9,492.9L708.6,489.8M708.5,479.3L708.6,489.8M701.9,513.1L707.1,490.7M682.7,493.8L686.3,488.0M686.3,488.0L707.1,490.7M726.7,500.2L725.4,507.6M707.1,490.7L708.6,489.8M672.2,530.1L669.9,535.1M672.2,530.1L656.2,516.0M669.9,535.1L651.6,536.0M656.2,516.0L653.7,516.6M653.7,516.6L648.4,530.4M648.4,530.4L651.6,536.0M680.7,525.6L672.2,530.1M670.7,546.8L669.9,535.1M670.7,546.8L685.3,553.5M668.3,499.0L669.3,499.1M668.3,499.0L656.2,516.0M663.6,552.9L670.7,546.8M649.0,545.0L651.6,536.0M643.4,496.8L665.1,495.9M644.5,512.1L653.7,516.6M665.1,495.9L668.3,499.0M628.2,530.7L648.4,530.4M621.6,435.1L605.1,440.3M587.9,443.1L603.4,444.9M603.4,444.9L605.1,440.3M548.6,459.0L546.7,468.7M570.4,475.2L572.5,491.6M570.4,475.2L570.3,475.2M572.5,491.6L567.4,496.3M547.7,496.5L550.1,473.3M570.3,475.2L550.1,473.3M546.7,468.7L550.1,473.3M650.2,610.4L645.4,602.5M636.3,624.5L626.2,613.1M645.4,602.5L626.2,613.1M613.0,589.6L625.1,598.2M628.0,574.3L639.9,589.0M639.9,589.0L625.1,598.2M607.2,617.4L623.6,611.9M625.1,598.2L623.6,611.9M623.6,611.9L626.2,613.1M627.5,447.7L634.7,456.0M627.5,447.7L611.5,451.4M634.7,456.0L629.6,469.6M611.5,451.4L612.7,474.8M629.6,469.6L622.1,474.1M612.7,474.8L622.1,474.1M627.8,444.6L627.5,447.7M627.8,444.6L621.6,435.1M605.0,447.3L603.4,444.9M605.0,447.3L611.5,451.4M612.2,475.2L612.7,474.8M612.2,475.2L593.6,466.2M593.6,466.2L605.0,447.3M590.6,511.7L602.9,508.8M590.6,511.7L580.4,493.0M602.9,508.8L608.6,498.2M580.4,493.0L591.8,487.5M591.8,487.5L606.0,490.0M608.6,498.2L606.0,490.0M587.0,515.4L590.6,511.7M606.3,515.2L602.9,508.8M572.5,491.6L580.4,493.0M623.7,501.4L608.6,498.2M570.4,475.2L586.8,472.2M586.8,472.2L591.8,487.5M586.8,472.2L591.6,466.3M612.2,475.2L606.0,490.0M593.6,466.2L591.6,466.3M633.3,493.6L622.1,474.1M656.3,458.7L642.1,477.0M656.3,458.7L663.9,472.6M663.9,472.6L660.4,481.3M660.4,481.3L644.6,481.9M644.6,481.9L642.1,477.0M646.9,454.6L656.3,458.7M646.9,454.6L634.7,456.0M656.3,458.7L656.3,458.7M629.6,469.6L642.1,477.0M665.1,495.9L660.4,481.3M686.3,488.0L685.4,472.3M685.4,472.3L663.9,472.6M639.8,493.1L644.6,481.9M742.7,540.7L738.0,531.3M738.0,531.3L744.5,517.8M735.9,550.3L742.7,540.7M725.9,529.8L738.0,531.3M729.0,512.0L744.5,517.8M660.7,571.4L668.1,591.7M660.7,571.4L659.6,570.8M659.6,570.8L640.9,589.2M667.5,594.1L644.9,595.3M667.5,594.1L668.1,591.7M644.9,595.3L640.9,589.2M684.3,569.9L660.7,571.4M684.2,585.1L668.1,591.7M659.4,570.3L659.6,570.8M639.9,589.0L640.9,589.2M669.8,601.7L661.4,608.2M669.8,601.7L667.5,594.1M645.4,602.5L644.9,595.3M669.8,601.7L684.9,611.7M684.9,611.7L687.5,610.2M687.5,610.2L691.4,596.5M733.1,629.3L723.6,609.6M733.1,629.3L729.7,631.2M729.7,631.2L709.2,625.9M723.6,609.6L720.8,608.8M720.8,608.8L709.8,611.9M709.2,625.9L707.3,614.1M707.3,614.1L709.8,611.9M740.3,601.1L723.6,609.6M738.8,629.5L733.1,629.3M719.1,650.7L729.7,631.2M719.9,591.9L720.8,608.8M706.3,589.2L709.8,611.9M687.5,610.2L707.3,614.1M704.5,644.9L707.2,629.3M704.5,644.9L700.7,646.2M700.7,646.2L685.1,637.5M707.2,629.3L679.7,626.6M685.1,637.5L678.9,627.9M679.7,626.6L678.9,627.9M719.1,650.7L704.5,644.9M709.2,625.9L707.2,629.3M680.8,648.2L685.1,637.5M684.9,611.7L679.7,626.6M669.0,630.5L678.9,627.9M692.6,453.9L672.6,444.9M692.6,453.9L687.8,469.9M686.5,470.7L687.8,469.9M686.5,470.7L669.3,447.2M669.3,447.2L672.6,444.9M699.1,447.1L692.6,453.9M679.5,435.4L672.6,444.9M704.0,470.5L687.8,469.9M685.4,472.3L686.5,470.7M656.3,458.7L668.4,447.3M668.4,447.3L669.3,447.2M582.7,453.9L585.1,444.0M582.7,453.9L571.0,460.2M585.1,444.0L572.4,434.7M571.0,460.2L561.6,453.5M561.6,453.5L565.0,436.9M572.4,434.7L565.0,436.9M587.9,443.1L585.1,444.0M591.6,466.3L582.7,453.9M570.3,475.2L571.0,460.2M548.6,459.0L561.6,453.5M646.9,454.6L646.9,435.8" stroke="#888" stroke-width="0.9" fill="none" opacity="0.6"/><path d="M702,489 L726.5,497 L729,524 L715.6,551.5 L707.5,568 L685.8,559.7 L683,529.8 L696.6,513.5 Z" fill="#b6b6b6"/><path d="M560,492 C566,485 580,484 587,492 C590,500 585,507 575,507 C565,506 558,500 560,492 Z" fill="#8c8c8c"/><path d="M552,612 L562,608 L570,620 L566,632 L553,630 Z" fill="#8e8e8e"/><path d="M564.6,489.3 L572,484.8 L580.4,478 L585.7,477.2 L588.7,482.5 L593,481.8 L597,487 L601.6,498.3 L609.9,498.3 L617.4,502.9 L622,509.7 L627.2,510.4 L635.5,524 L644.5,517" stroke="#262626" stroke-width="1.8" fill="none" stroke-linejoin="round"/><path d="M706,481 L707,486 L715.6,491.7 L729,500 L726.5,521.6 L721,535 L717,543 L713,557 L710,570.5 L705,563.8 L698,563.8 L694,569 L680,570.5 L677.6,562.4 L672,551.5 L661,548.8" stroke="#262626" stroke-width="1.8" fill="none" stroke-linejoin="round"/><path d="M726.5,521.6 L732,528" stroke="#282828" stroke-width="1.5"/><path d="M705,576 L726.5,576 L734.7,581.4 L737.4,570.5 L743,570 L743,647 L702,647 L700.7,622 L710,606 L710,586.8 Z" fill="#343434"/><path d="M712,600 C718,595 728,598 732,606 C730,614 720,616 714,612 Z" fill="#555" opacity="0.8"/><path d="M704,625 C710,620 718,624 718,632 C714,640 706,640 704,634 Z" fill="#606060" opacity="0.8"/><path d="M714,638.5 H737.4 M714,632 V640 M737.4,632 V640" stroke="#e8e8e8" stroke-width="1"/><text x="720" y="634" font-size="4.5" fill="#e8e8e8" textLength="16" lengthAdjust="spacingAndGlyphs">1mm</text><text x="553" y="451" font-size="8" fill="#e4e4e4" font-family="Liberation Serif">(b)</text></g></svg></body></html>
